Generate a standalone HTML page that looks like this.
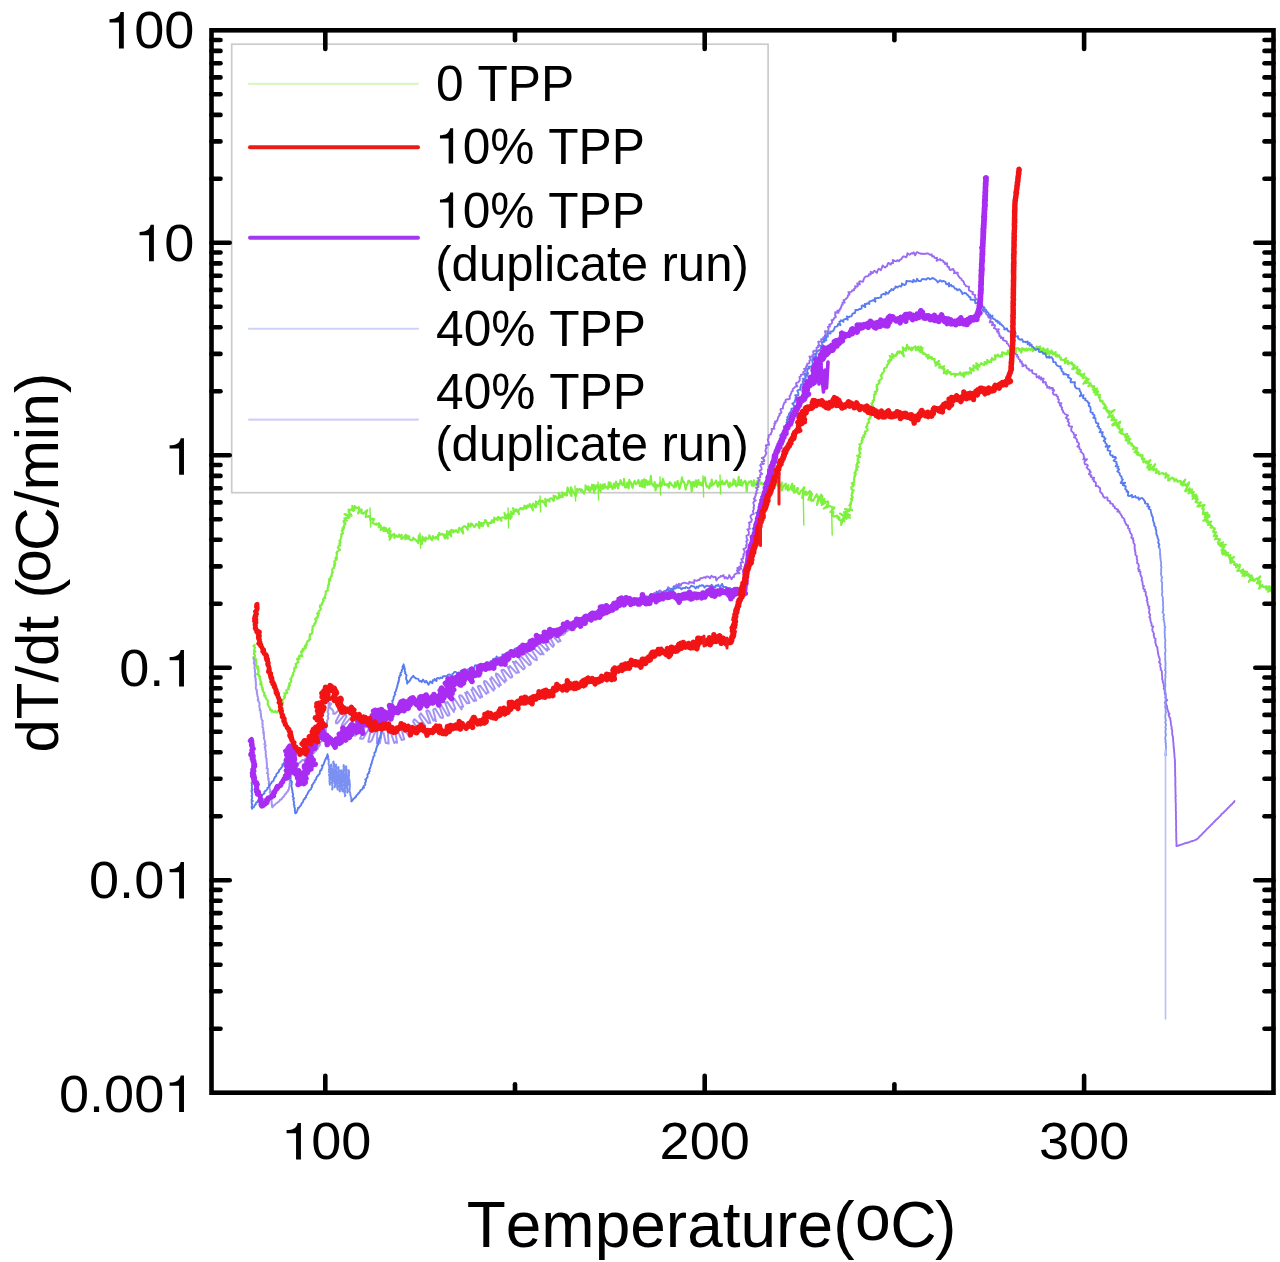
<!DOCTYPE html>
<html><head><meta charset="utf-8"><style>
html,body{margin:0;padding:0;background:#fff;width:1280px;height:1262px;overflow:hidden}
svg{display:block}
text{font-family:"Liberation Sans",sans-serif;fill:#000;font-kerning:none;font-feature-settings:"kern" 0}
</style></head><body>
<svg width="1280" height="1262" viewBox="0 0 1280 1262">
<rect x="0" y="0" width="1280" height="1262" fill="#fff"/>
<g id="legendbox"><rect x="231.7" y="44.2" width="536.4" height="448.5" fill="#fff" stroke="#cbcbcb" stroke-width="1.7"/></g>
<g id="curves" fill="none" stroke-linejoin="round" stroke-linecap="round">
<path d="M254.7 644.9 L253.8 645.5 L253.5 646.2 L254.5 646.9 L255.1 647.7 L254.4 648.8 L254.2 650.0 L253.9 650.6 L255.3 651.1 L255.4 651.7 L254.2 652.3 L254.3 652.9 L253.7 653.6 L254.1 654.3 L254.8 655.0 L255.0 655.9 L253.5 657.3 L255.4 658.2 L256.0 659.5 L256.3 660.0 L255.7 660.8 L255.8 661.4 L256.2 662.1 L256.2 662.8 L256.2 663.6 L256.1 664.4 L256.0 665.3 L256.7 666.0 L258.1 666.5 L256.8 667.7 L258.3 668.3 L257.7 669.4 L258.7 670.1 L258.1 671.2 L258.7 672.0 L258.4 673.0 L256.8 674.3 L259.0 674.8 L258.6 675.8 L260.1 676.4 L259.7 677.4 L259.4 678.4 L260.1 679.2 L260.0 680.1 L260.4 680.9 L261.2 681.5 L260.5 682.5 L261.5 683.0 L260.1 684.2 L261.7 684.5 L261.2 685.3 L261.9 686.2 L261.7 687.4 L262.8 688.1 L262.2 689.3 L263.1 689.9 L262.7 691.1 L263.3 691.7 L263.9 692.4 L264.7 693.0 L264.1 694.1 L264.5 694.7 L264.1 695.7 L265.6 695.9 L265.3 696.8 L265.6 697.5 L266.0 698.1 L266.3 698.7 L266.6 699.4 L267.3 699.9 L267.9 700.7 L267.9 701.8 L267.7 702.9 L267.6 704.0 L268.2 704.8 L268.5 705.7 L269.0 706.5 L269.4 707.4 L270.0 708.0 L270.1 708.9 L270.0 709.9 L271.4 709.7 L271.9 710.0 L271.5 711.7 L272.8 711.3 L273.5 712.0 L274.5 712.0 L275.3 710.8 L276.7 712.7 L277.7 711.9 L278.1 710.6 L279.2 710.2 L279.7 709.3 L279.5 708.4 L280.2 708.2 L280.8 707.7 L281.5 707.3 L281.6 706.5 L281.5 705.6 L282.5 705.1 L281.5 703.9 L282.6 703.4 L283.1 702.6 L282.5 701.5 L281.9 700.4 L282.7 699.6 L283.6 699.0 L284.1 698.2 L285.0 697.5 L283.8 696.3 L284.6 695.8 L285.3 695.3 L285.1 694.4 L284.2 693.2 L286.2 693.3 L287.3 692.9 L286.9 691.9 L286.1 690.7 L286.7 690.1 L287.4 689.5 L289.0 689.3 L288.2 688.1 L288.3 687.2 L289.4 686.7 L288.8 685.5 L290.2 685.1 L289.1 683.7 L289.6 682.9 L290.6 682.3 L291.3 681.7 L291.1 680.9 L291.1 680.1 L290.2 678.9 L291.1 678.4 L291.4 677.7 L291.7 676.9 L292.6 676.4 L292.3 675.4 L293.2 674.8 L293.1 673.9 L293.1 673.0 L293.6 672.3 L294.1 671.5 L294.6 670.8 L294.1 669.7 L294.5 668.9 L294.2 667.9 L296.1 667.7 L296.3 666.8 L295.7 665.7 L295.8 664.8 L295.7 663.9 L296.8 663.4 L297.2 662.6 L298.6 662.3 L297.8 661.1 L297.6 660.1 L297.0 658.9 L299.5 659.2 L299.2 658.1 L298.6 656.9 L299.9 656.7 L299.3 655.5 L302.4 656.2 L301.5 654.8 L301.6 654.0 L301.6 653.1 L301.0 651.8 L302.5 651.7 L302.1 650.5 L303.6 650.5 L302.6 649.0 L303.7 648.6 L305.2 648.5 L305.8 647.9 L304.7 646.4 L304.9 645.6 L306.5 645.6 L306.9 644.9 L306.3 643.6 L306.8 643.0 L307.2 642.3 L307.2 641.4 L307.8 640.8 L309.2 640.6 L309.2 639.7 L310.3 639.3 L309.4 638.1 L309.7 637.4 L309.5 636.5 L310.2 635.9 L309.8 635.0 L309.8 634.2 L311.5 634.0 L312.2 633.4 L312.1 632.6 L312.6 631.9 L312.3 631.0 L312.0 630.1 L312.7 629.5 L312.7 628.7 L312.5 627.8 L312.5 626.9 L312.8 626.2 L314.0 625.7 L314.3 624.9 L314.2 624.0 L315.6 623.6 L315.2 622.5 L315.7 621.8 L316.4 621.1 L315.5 619.8 L315.2 618.9 L316.9 618.8 L316.4 617.7 L317.8 617.4 L317.5 616.4 L318.2 615.8 L318.4 615.0 L317.1 613.6 L318.9 613.4 L318.5 612.3 L318.7 611.4 L319.2 610.7 L320.2 610.1 L320.6 609.3 L321.0 608.5 L319.8 607.1 L320.7 606.5 L320.0 605.3 L321.6 604.9 L322.3 604.2 L321.8 603.1 L322.7 602.5 L323.0 601.7 L323.7 601.1 L323.0 599.9 L323.3 599.1 L323.6 598.4 L325.3 598.2 L325.2 597.3 L324.7 596.3 L325.2 595.7 L325.4 595.0 L325.7 594.3 L325.7 593.6 L325.8 592.9 L325.6 591.7 L326.3 590.9 L327.9 590.4 L327.6 589.3 L327.6 588.4 L327.7 587.6 L328.1 586.9 L328.5 586.3 L328.1 585.4 L328.8 584.8 L329.1 584.2 L328.7 583.3 L328.9 582.6 L329.0 581.9 L329.1 581.1 L330.5 580.7 L328.9 579.3 L330.3 578.8 L330.4 577.9 L330.6 576.9 L331.2 576.4 L332.0 575.9 L331.6 575.0 L331.7 574.3 L331.6 573.6 L332.1 572.9 L332.9 572.4 L332.3 571.5 L332.1 570.6 L332.2 569.9 L332.5 569.2 L332.6 568.4 L334.2 568.0 L334.0 567.1 L333.9 566.3 L335.0 565.7 L334.0 564.6 L335.1 564.0 L335.3 563.3 L334.2 562.1 L334.4 561.3 L335.0 560.5 L336.2 560.0 L336.7 559.2 L335.4 558.0 L337.0 557.5 L336.4 556.4 L336.6 555.6 L336.7 554.7 L337.1 553.8 L336.4 552.7 L337.1 552.1 L337.1 551.4 L338.3 550.9 L339.4 550.4 L340.0 549.7 L338.4 548.5 L337.8 547.5 L338.7 546.8 L338.6 545.9 L340.5 545.5 L339.9 544.5 L339.3 543.4 L340.5 542.8 L340.4 541.9 L339.4 540.8 L340.2 540.0 L340.6 539.2 L340.9 538.4 L341.2 537.6 L341.1 536.6 L341.6 535.9 L341.3 534.9 L341.3 534.0 L343.0 533.5 L342.5 532.5 L342.7 531.7 L341.7 530.6 L342.8 530.0 L343.5 529.4 L342.5 528.3 L344.1 527.9 L343.4 527.0 L344.1 526.4 L344.0 525.6 L344.4 525.0 L345.1 524.5 L344.4 523.6 L345.7 523.4 L343.6 522.0 L343.7 520.8 L347.0 520.7 L344.3 518.5 L345.9 518.0 L348.5 517.9 L349.4 517.3 L344.6 514.1 L348.9 515.1 L351.6 515.6 L350.8 514.3 L348.8 512.3 L348.6 511.3 L349.5 511.0 L348.6 509.5 L350.4 510.0 L350.9 509.6 L351.4 509.3 L353.3 511.0 L352.3 508.4 L352.3 505.8 L354.4 510.2 L354.8 506.1 L355.8 507.4 L356.6 508.1 L357.6 508.0 L359.0 507.2 L359.3 509.0 L358.0 513.5 L361.4 509.3 L361.8 510.6 L361.4 513.1 L362.4 512.9 L362.9 513.3 L363.3 513.8 L367.3 510.1 L366.6 512.3 L366.0 514.2 L366.1 515.3 L365.6 517.0 L367.3 516.4 L368.9 516.0 L369.1 517.0 L370.1 517.3 L370.2 518.5 L370.3 519.8 L372.2 518.9 L373.5 518.8 L374.1 519.2 L372.3 522.5 L372.6 523.3 L373.5 523.4 L374.2 523.7 L374.9 524.2 L376.5 523.5 L376.2 525.0 L379.0 523.0 L378.5 524.8 L379.8 524.5 L378.6 527.2 L380.8 525.8 L380.9 527.0 L381.0 528.3 L380.6 530.2 L383.7 527.4 L384.5 527.6 L383.4 530.9 L386.1 528.2 L385.2 531.1 L386.9 529.8 L387.1 531.0 L389.4 528.4 L387.9 533.1 L389.6 531.4 L390.7 531.1 L389.0 536.6 L390.9 534.6 L389.5 539.8 L392.7 534.8 L394.1 533.8 L394.5 534.9 L394.3 537.9 L396.2 535.3 L396.7 536.5 L397.5 536.9 L399.2 534.6 L399.3 536.8 L400.5 535.9 L401.7 534.8 L401.3 538.9 L402.1 538.7 L403.2 537.9 L404.5 536.3 L405.8 534.5 L405.3 539.3 L406.4 538.4 L407.8 535.6 L407.8 538.8 L409.2 536.3 L409.3 539.2 L410.0 539.7 L410.7 540.2 L411.5 540.1 L412.3 540.1 L413.3 537.7 L413.9 539.2 L414.8 539.0 L415.5 539.6 L416.3 540.6 L417.2 541.3 L418.2 543.2 L418.9 535.2 L420.0 540.8 L420.7 539.6 L421.8 544.2 L422.3 541.6 L422.5 536.6 L423.7 540.4 L424.2 538.6 L425.4 541.3 L425.6 537.4 L426.7 539.0 L427.5 538.8 L428.3 538.7 L428.9 537.7 L429.3 535.2 L431.0 539.3 L432.0 540.1 L432.4 538.0 L432.9 536.0 L434.2 538.1 L435.2 538.6 L435.7 537.0 L436.7 537.1 L438.2 539.5 L437.9 534.7 L438.9 535.5 L439.2 532.8 L440.6 534.8 L441.4 534.5 L442.1 533.9 L443.0 534.2 L445.1 538.5 L444.9 534.6 L445.7 534.6 L447.7 538.6 L447.2 534.2 L447.0 531.0 L449.0 534.6 L449.0 531.9 L451.3 536.3 L450.3 530.9 L451.5 531.8 L451.5 529.7 L453.4 532.5 L453.4 530.2 L454.8 531.6 L455.4 530.8 L456.0 530.1 L457.8 532.6 L458.5 532.3 L458.7 530.4 L458.8 528.4 L459.4 527.8 L461.1 529.9 L463.3 533.4 L462.1 528.1 L462.7 527.2 L463.5 527.1 L464.0 526.1 L464.8 526.0 L466.1 527.2 L467.8 529.8 L467.7 527.0 L468.2 525.8 L468.3 523.6 L470.1 526.7 L470.8 526.0 L470.9 523.6 L471.8 523.6 L473.1 525.3 L474.4 527.1 L475.0 526.2 L475.6 525.2 L476.1 524.0 L477.2 525.1 L477.8 524.3 L479.5 528.1 L478.9 521.8 L480.0 523.1 L481.5 525.9 L481.6 522.9 L483.1 525.9 L483.3 523.0 L484.1 523.2 L484.7 522.0 L485.0 520.0 L486.0 520.6 L488.2 526.3 L488.3 523.2 L489.0 522.9 L490.0 523.3 L490.6 522.4 L491.6 523.0 L491.7 520.5 L492.5 520.3 L494.0 522.3 L494.0 519.6 L494.2 517.6 L495.6 519.3 L496.2 518.5 L497.7 520.3 L497.6 517.7 L498.1 516.8 L499.3 517.8 L501.4 520.9 L501.0 517.7 L501.9 517.8 L502.6 517.2 L503.5 517.4 L504.8 518.2 L505.9 518.7 L504.4 513.1 L507.4 518.0 L507.1 515.3 L507.6 514.4 L510.4 518.9 L509.3 514.1 L511.6 517.4 L511.6 515.4 L510.9 511.6 L512.8 513.9 L513.7 514.0 L513.8 512.2 L513.0 508.0 L515.2 511.2 L516.1 511.2 L516.2 509.2 L519.0 514.1 L518.3 510.2 L519.0 509.6 L519.8 509.5 L520.2 508.3 L521.0 508.0 L522.3 509.3 L523.2 509.4 L523.4 507.7 L524.5 508.1 L524.4 505.5 L526.4 508.6 L526.3 506.1 L527.7 507.5 L527.7 505.3 L528.8 505.7 L530.0 506.7 L529.8 503.9 L533.0 510.2 L532.1 505.4 L532.8 505.1 L533.2 503.6 L535.4 507.5 L536.0 506.9 L536.1 504.7 L535.8 501.4 L537.1 502.7 L538.6 504.4 L538.6 502.1 L539.0 500.7 L539.7 500.4 L540.7 500.9 L542.0 502.0 L542.3 500.6 L543.5 501.5 L545.9 506.3 L546.1 504.2 L545.2 498.9 L546.8 501.1 L547.4 500.4 L548.0 499.7 L549.5 501.6 L549.5 498.9 L550.3 498.6 L551.0 498.3 L552.0 498.6 L553.5 500.8 L554.0 499.7 L553.6 495.6 L554.9 497.0 L555.5 496.1 L557.2 498.8 L557.6 497.5 L558.8 498.4 L559.0 496.5 L558.8 492.9 L561.0 497.3 L561.6 496.5 L562.6 497.0 L562.0 492.2 L563.8 495.4 L564.0 493.3 L564.8 493.1 L566.3 495.5 L567.1 495.2 L567.0 491.9 L567.3 489.6 L567.5 487.5 L569.6 492.1 L571.5 496.1 L571.5 492.9 L570.8 487.2 L572.5 490.5 L574.2 493.5 L575.8 496.4 L576.2 495.0 L576.5 492.7 L577.2 492.1 L577.1 488.7 L578.3 490.1 L579.2 490.2 L579.7 488.9 L581.0 490.8 L581.5 489.4 L582.7 491.1 L584.2 493.6 L584.5 491.7 L585.1 490.7 L585.5 488.9 L585.5 485.4 L587.1 488.8 L588.3 490.3 L588.2 486.2 L590.2 491.8 L590.1 487.6 L591.3 489.2 L591.7 487.3 L592.0 484.7 L594.4 493.1 L593.7 484.7 L595.4 489.9 L595.6 485.9 L596.7 487.9 L597.1 485.0 L598.1 485.9 L599.5 489.2 L600.7 491.7 L600.4 484.4 L601.6 486.5 L602.7 488.8 L603.0 484.6 L604.3 487.9 L604.7 484.0 L605.9 487.5 L606.7 486.9 L607.8 488.8 L608.3 486.5 L608.7 482.4 L610.1 487.1 L610.4 482.5 L611.7 487.2 L612.7 489.1 L613.3 486.6 L613.8 483.6 L615.0 488.0 L615.5 485.3 L616.0 481.6 L616.9 483.8 L618.1 488.4 L618.5 483.8 L619.3 484.9 L619.9 483.6 L620.5 480.1 L621.6 483.1 L622.4 485.2 L623.1 484.8 L623.7 483.8 L624.0 478.7 L625.0 487.4 L625.5 486.0 L626.0 486.8 L626.5 487.5 L627.0 483.0 L627.5 482.5 L628.1 484.9 L628.7 488.4 L629.3 479.7 L630.1 483.5 L630.8 482.2 L631.6 485.5 L632.6 487.9 L633.5 483.3 L634.6 480.8 L635.8 484.2 L637.1 483.3 L638.4 480.0 L640.0 486.3 L640.5 482.6 L641.1 485.8 L641.6 480.6 L642.3 486.8 L642.8 480.2 L643.5 486.7 L644.0 479.2 L644.7 487.5 L645.3 483.0 L646.0 479.9 L646.7 483.3 L647.4 484.8 L648.0 481.3 L648.7 482.6 L649.4 484.6 L650.2 483.4 L650.8 475.9 L651.6 482.8 L652.4 485.0 L653.1 484.6 L653.9 486.5 L654.7 482.0 L655.5 490.5 L656.3 485.9 L657.0 484.6 L657.9 486.6 L658.7 486.3 L659.5 484.1 L660.3 482.2 L661.1 486.4 L662.0 484.9 L662.8 478.8 L663.6 480.9 L664.5 485.0 L665.3 484.0 L666.2 484.5 L667.1 485.4 L667.9 484.1 L668.8 487.8 L669.7 482.2 L670.5 482.7 L671.4 484.5 L672.3 485.6 L673.2 485.7 L674.1 487.5 L675.0 482.4 L675.9 486.7 L676.8 484.9 L677.6 480.9 L678.5 483.3 L679.4 489.0 L680.3 485.7 L681.2 482.4 L682.0 477.4 L682.9 481.7 L683.8 481.8 L684.7 483.8 L685.6 489.6 L686.5 485.5 L687.4 484.4 L688.2 481.1 L689.1 480.5 L690.0 483.0 L690.8 482.3 L691.7 491.4 L692.5 482.5 L693.4 481.9 L694.3 486.5 L695.1 483.7 L695.9 480.3 L696.8 486.9 L697.6 482.7 L698.4 480.1 L699.2 484.3 L700.0 484.8 L700.8 482.6 L701.6 485.3 L702.4 485.6 L703.2 481.2 L704.1 478.1 L704.9 477.3 L705.7 483.1 L706.6 486.7 L707.5 486.1 L708.3 487.1 L709.2 488.3 L710.0 483.5 L710.9 486.2 L711.7 479.5 L712.6 485.2 L713.5 484.4 L714.4 483.2 L715.2 482.3 L716.1 480.5 L717.0 483.8 L717.9 486.7 L718.8 482.4 L719.7 484.8 L720.5 481.7 L721.4 484.0 L722.3 480.8 L723.2 484.3 L724.1 482.8 L725.0 484.2 L725.8 481.8 L726.7 480.3 L727.6 482.5 L728.5 486.0 L729.4 487.4 L730.2 482.5 L731.1 485.4 L732.0 485.3 L732.8 484.3 L733.7 479.3 L734.5 484.2 L735.4 480.8 L736.2 486.4 L737.1 485.4 L737.9 484.9 L738.7 476.7 L739.6 484.9 L740.4 485.1 L741.2 480.0 L742.0 485.8 L742.8 483.5 L743.6 482.8 L744.4 481.5 L745.2 480.7 L746.0 482.2 L746.7 491.3 L747.5 483.8 L748.2 483.9 L749.0 481.6 L749.7 481.7 L750.5 481.9 L751.2 481.0 L751.8 485.6 L752.6 482.7 L753.2 485.6 L753.9 480.4 L754.5 485.8 L755.2 483.3 L755.8 485.1 L756.5 483.1 L757.2 481.1 L757.6 486.6 L758.3 482.3 L758.9 483.1 L759.5 481.2 L760.0 484.0 L761.5 482.5 L762.8 484.3 L764.1 484.5 L765.4 481.9 L766.6 480.1 L767.4 484.9 L768.3 486.3 L769.2 485.7 L770.5 481.0 L770.9 485.6 L771.7 485.1 L772.4 485.0 L773.0 485.4 L773.9 483.6 L774.3 485.0 L774.6 487.0 L775.8 483.4 L776.8 481.1 L776.8 484.6 L777.2 485.5 L778.8 480.4 L778.9 483.5 L778.8 486.9 L779.8 485.1 L780.4 485.9 L781.8 482.5 L781.4 488.2 L781.8 490.5 L783.7 485.7 L784.8 484.6 L785.9 483.7 L785.5 489.1 L786.9 487.3 L788.3 485.2 L787.8 490.5 L788.9 489.6 L789.8 489.4 L792.3 483.7 L792.0 488.1 L792.2 490.1 L794.4 485.8 L793.6 491.4 L794.0 492.8 L795.1 492.1 L797.2 488.0 L797.9 488.3 L797.4 492.6 L798.0 492.9 L798.6 493.8 L799.3 493.9 L801.0 490.9 L801.9 490.4 L804.2 487.2 L802.8 494.0 L802.2 497.9 L805.6 491.6 L806.5 491.9 L806.1 494.9 L807.2 494.6 L809.8 490.8 L809.8 492.7 L811.0 492.1 L808.3 499.8 L812.0 493.7 L811.0 497.7 L810.6 500.6 L811.3 500.8 L812.6 500.0 L813.1 500.8 L816.7 494.2 L816.7 496.7 L817.9 496.0 L818.4 497.4 L816.9 504.9 L821.2 494.5 L820.2 500.3 L822.5 496.2 L821.0 502.7 L821.6 502.9 L824.2 498.9 L821.8 505.1 L824.9 501.0 L823.5 503.9 L825.7 502.4 L827.9 501.3 L828.2 502.3 L828.1 503.4 L826.9 505.1 L828.3 505.1 L823.7 508.6 L829.9 506.1 L830.9 506.6 L832.0 507.0 L832.7 507.8 L834.5 507.4 L834.0 508.7 L830.3 512.1 L832.6 511.7 L833.6 512.1 L833.0 513.6 L831.9 515.4 L833.5 515.6 L833.6 516.7 L837.1 515.6 L836.9 516.7 L838.5 516.7 L837.6 518.4 L839.6 517.8 L839.1 519.1 L839.2 519.9 L839.7 520.2 L840.1 520.4 L841.1 520.3 L841.3 525.1 L842.4 520.8 L842.4 519.0 L844.5 521.4 L843.1 518.3 L843.6 517.7 L846.6 518.8 L843.1 515.8 L839.8 513.5 L848.0 517.5 L850.1 517.7 L843.9 514.2 L846.0 514.4 L849.9 515.0 L843.9 512.1 L846.8 512.3 L846.3 511.3 L849.0 511.2 L844.8 509.1 L852.2 510.1 L850.1 508.6 L850.6 507.7 L850.4 506.6 L849.3 505.3 L850.8 504.9 L850.1 504.1 L851.1 503.5 L850.6 502.7 L851.1 502.0 L851.2 501.3 L852.0 500.5 L852.1 499.7 L850.9 498.8 L851.7 498.0 L852.8 497.3 L852.2 496.4 L851.4 495.5 L851.9 494.6 L851.8 493.7 L852.7 492.9 L852.1 492.0 L852.5 491.2 L853.8 490.4 L851.4 489.4 L851.7 488.5 L851.3 487.6 L851.5 486.8 L853.3 486.2 L853.0 485.3 L854.0 484.6 L851.6 483.5 L852.5 482.8 L854.3 482.2 L854.1 481.4 L854.2 480.5 L854.3 479.7 L853.9 478.8 L854.1 478.0 L854.3 477.2 L855.0 476.5 L854.5 475.6 L855.0 474.9 L856.0 474.3 L854.4 473.1 L854.9 472.3 L855.9 471.8 L855.6 470.9 L855.8 470.1 L857.5 469.7 L856.6 468.7 L856.2 467.8 L857.4 467.2 L858.5 466.7 L856.2 465.4 L856.7 464.7 L857.4 464.0 L857.0 463.1 L859.1 462.6 L858.1 461.6 L857.6 460.7 L858.4 460.0 L857.6 459.0 L857.9 458.2 L858.5 457.5 L860.2 457.0 L857.1 455.7 L859.0 455.2 L859.8 454.5 L859.5 453.6 L860.5 453.0 L859.6 452.0 L859.5 451.2 L859.4 450.4 L859.1 449.5 L861.0 449.0 L859.2 447.8 L860.1 447.1 L860.0 446.2 L860.1 445.4 L859.3 444.4 L860.7 444.0 L861.3 443.4 L861.5 442.7 L862.2 442.3 L861.7 441.4 L861.6 440.7 L862.4 440.3 L862.9 439.8 L862.1 438.8 L861.9 438.0 L862.5 437.5 L864.1 437.4 L864.3 436.7 L863.3 435.5 L864.3 435.0 L865.0 434.4 L865.6 433.7 L864.6 432.3 L865.2 431.5 L866.6 430.9 L867.6 430.1 L867.4 428.8 L866.0 427.0 L867.4 426.1 L867.1 425.4 L867.4 424.8 L867.2 424.1 L867.5 423.5 L867.9 423.0 L869.3 422.6 L868.8 421.7 L868.8 421.0 L868.7 420.2 L868.4 419.3 L868.9 418.7 L870.1 418.2 L870.0 417.3 L871.0 416.7 L870.0 415.7 L870.0 414.8 L869.1 413.7 L870.7 413.2 L869.5 412.0 L871.9 411.7 L870.6 410.5 L871.3 409.8 L870.6 408.7 L871.4 408.0 L871.3 407.0 L872.9 406.5 L872.5 405.5 L871.8 404.4 L871.5 403.3 L873.0 402.8 L872.9 401.8 L872.7 400.8 L874.1 400.3 L873.8 399.2 L874.2 398.4 L874.0 397.4 L874.2 396.6 L874.5 395.7 L874.0 394.7 L875.7 394.2 L875.8 393.3 L874.6 392.1 L876.1 391.6 L877.0 391.0 L876.6 390.0 L877.6 389.4 L876.8 388.3 L877.2 387.6 L876.5 386.6 L877.0 385.9 L876.7 385.0 L877.5 384.5 L878.5 384.0 L878.9 383.4 L879.6 382.9 L879.1 382.0 L878.6 381.1 L879.8 380.8 L879.8 379.7 L881.4 379.2 L881.9 378.3 L881.6 377.1 L880.7 375.6 L881.4 374.9 L882.3 374.2 L882.1 373.1 L883.2 372.6 L883.7 371.9 L884.2 371.1 L884.2 370.1 L883.9 369.0 L884.3 368.3 L885.1 367.8 L886.4 367.5 L886.9 366.9 L887.0 366.0 L887.0 365.1 L887.6 364.6 L888.1 364.0 L888.8 363.6 L888.9 362.8 L888.0 361.2 L889.8 361.7 L889.9 360.8 L889.5 359.6 L891.3 360.2 L891.4 359.4 L891.4 358.4 L889.7 355.9 L892.6 357.6 L893.6 357.7 L893.3 356.4 L892.0 353.9 L895.1 356.0 L896.1 355.8 L896.1 354.5 L897.1 354.4 L897.1 352.7 L897.6 351.7 L899.4 353.1 L899.4 351.3 L900.7 351.7 L903.9 356.3 L902.7 351.8 L903.1 350.5 L902.7 347.2 L904.7 349.8 L905.9 350.6 L905.9 347.9 L906.9 348.4 L906.9 344.7 L908.9 349.4 L909.2 347.2 L910.4 349.3 L911.4 350.4 L911.7 347.6 L912.6 349.6 L913.2 348.2 L913.8 347.3 L914.5 347.2 L915.5 346.2 L915.8 350.1 L916.6 349.5 L918.3 346.5 L917.9 349.9 L919.8 347.6 L921.2 346.7 L919.5 351.4 L922.6 348.0 L920.7 352.2 L922.4 351.2 L922.3 352.7 L923.4 352.7 L923.3 354.1 L924.9 353.6 L925.3 354.5 L926.4 354.6 L926.2 356.4 L928.6 354.9 L927.8 357.4 L927.8 358.6 L930.1 356.8 L930.1 358.0 L931.8 357.2 L932.2 358.0 L932.1 359.3 L933.5 359.1 L934.8 359.0 L934.3 360.7 L934.6 361.6 L935.1 362.3 L935.2 363.4 L939.0 360.9 L935.6 365.6 L938.2 364.1 L939.6 363.9 L939.7 365.1 L939.3 366.7 L939.4 367.9 L941.5 366.7 L941.5 368.0 L944.1 366.0 L942.8 369.0 L943.7 369.0 L944.6 369.0 L943.9 371.4 L943.8 373.2 L945.3 372.5 L947.7 370.1 L946.5 374.2 L948.8 371.6 L949.3 372.5 L950.5 372.0 L950.5 374.0 L951.2 374.5 L952.2 374.1 L953.2 373.8 L953.9 374.1 L954.8 373.8 L955.1 376.4 L956.3 373.9 L957.1 374.7 L957.9 374.6 L958.7 373.6 L959.6 374.5 L960.2 372.2 L961.5 375.4 L962.3 375.5 L962.6 373.9 L964.2 376.9 L963.6 372.6 L965.1 374.7 L965.8 374.3 L965.8 372.3 L966.7 372.4 L968.3 373.9 L968.4 372.2 L969.4 372.2 L971.1 373.5 L970.8 371.3 L969.9 367.9 L971.5 368.9 L973.7 370.9 L973.6 369.0 L973.5 367.1 L973.4 365.2 L976.3 368.3 L978.1 369.7 L976.4 365.0 L976.3 363.1 L979.5 366.8 L979.3 364.8 L980.3 364.7 L981.0 364.3 L981.3 362.9 L983.2 364.7 L984.3 365.1 L984.6 363.8 L984.6 362.0 L986.6 364.1 L986.4 361.9 L987.7 362.6 L987.2 359.8 L989.3 361.9 L990.1 361.6 L991.3 362.1 L990.9 359.7 L992.0 359.9 L991.9 357.9 L993.9 359.8 L994.5 359.3 L995.5 359.4 L995.0 356.7 L995.1 355.0 L996.8 356.4 L997.4 355.8 L997.7 354.6 L999.5 356.4 L1000.5 356.6 L1000.8 355.4 L1002.0 356.3 L1002.3 354.8 L1002.1 352.2 L1003.1 352.6 L1004.0 352.7 L1005.4 354.2 L1006.3 354.3 L1006.7 352.7 L1007.9 354.0 L1007.7 350.6 L1008.9 351.6 L1010.5 354.1 L1010.7 352.1 L1011.8 353.0 L1011.3 347.7 L1012.3 347.9 L1013.4 349.1 L1014.9 352.2 L1015.9 353.1 L1015.9 349.0 L1016.6 348.3 L1017.4 348.1 L1018.2 348.2 L1019.4 350.6 L1020.0 348.9 L1021.2 352.7 L1021.8 350.6 L1022.3 348.0 L1023.3 349.6 L1024.0 348.8 L1024.9 350.4 L1025.7 350.6 L1026.4 348.4 L1027.3 350.5 L1028.1 349.9 L1028.9 348.7 L1029.7 349.3 L1030.5 350.1 L1031.4 348.3 L1032.2 347.7 L1032.9 351.2 L1033.8 349.0 L1034.7 348.0 L1035.4 349.9 L1036.5 346.6 L1037.1 349.3 L1038.2 346.9 L1038.9 348.7 L1040.1 346.4 L1040.6 348.4 L1041.0 351.4 L1042.1 349.7 L1043.3 348.1 L1043.0 353.3 L1044.8 349.4 L1044.7 353.3 L1046.4 350.1 L1047.7 348.7 L1046.7 354.5 L1048.7 351.0 L1048.8 353.2 L1049.3 354.2 L1051.6 350.4 L1051.5 352.9 L1052.8 352.2 L1052.7 354.5 L1054.0 353.8 L1055.7 352.1 L1055.5 354.6 L1055.7 356.1 L1057.3 354.8 L1057.4 356.6 L1059.1 355.2 L1059.5 356.4 L1059.9 357.4 L1060.8 357.5 L1060.6 359.7 L1061.6 359.6 L1062.4 359.8 L1063.2 360.1 L1064.4 359.6 L1066.3 358.1 L1064.9 361.8 L1064.9 363.2 L1067.0 361.4 L1068.1 361.1 L1068.4 361.9 L1067.8 364.1 L1069.5 363.4 L1071.7 362.3 L1071.4 364.0 L1072.8 363.9 L1072.7 365.2 L1074.2 365.0 L1074.8 365.7 L1072.2 369.0 L1073.3 369.2 L1077.4 366.8 L1077.1 368.2 L1076.9 369.4 L1077.3 370.1 L1079.2 369.6 L1076.5 372.7 L1080.4 370.5 L1077.7 373.7 L1078.2 374.2 L1080.1 373.6 L1080.9 373.7 L1080.5 375.1 L1081.1 375.9 L1084.4 373.5 L1084.0 375.1 L1082.6 378.1 L1083.9 377.6 L1084.8 377.7 L1086.0 377.3 L1086.3 378.1 L1087.0 378.5 L1083.4 383.8 L1088.8 379.0 L1085.9 383.1 L1087.9 382.4 L1088.8 382.8 L1089.5 383.5 L1090.7 383.4 L1088.3 386.1 L1090.3 385.4 L1091.4 385.4 L1092.0 385.9 L1091.9 386.7 L1094.2 386.0 L1093.4 387.4 L1094.3 387.7 L1092.8 389.5 L1093.3 390.1 L1097.3 388.5 L1095.3 390.7 L1093.9 392.5 L1097.8 391.1 L1098.1 391.9 L1095.3 394.7 L1097.5 394.4 L1098.4 394.9 L1100.1 395.0 L1098.6 397.1 L1100.2 397.3 L1099.6 398.9 L1099.9 400.1 L1100.2 401.3 L1102.0 400.8 L1102.7 401.2 L1102.2 402.3 L1102.8 402.7 L1102.8 403.6 L1104.2 403.5 L1104.2 404.4 L1105.1 404.7 L1105.5 405.3 L1104.8 406.6 L1103.8 408.3 L1106.7 407.3 L1105.5 409.0 L1106.3 409.5 L1107.1 409.9 L1106.7 411.2 L1108.9 410.7 L1107.8 412.4 L1108.6 412.9 L1114.6 410.0 L1109.4 414.4 L1109.6 415.3 L1108.0 417.4 L1112.9 415.2 L1111.7 417.0 L1111.8 418.0 L1114.2 417.4 L1111.5 420.2 L1113.1 420.2 L1115.4 419.7 L1116.5 420.1 L1115.8 421.6 L1112.2 425.0 L1113.0 425.5 L1120.3 421.7 L1119.8 423.0 L1116.6 426.2 L1118.2 426.1 L1119.5 426.3 L1118.2 428.2 L1119.4 428.4 L1119.5 429.2 L1120.0 429.9 L1122.5 429.1 L1119.4 432.2 L1122.4 431.0 L1120.7 433.4 L1121.8 433.6 L1123.2 433.6 L1123.6 434.4 L1124.3 434.9 L1127.4 433.8 L1125.7 436.0 L1125.1 437.5 L1128.5 436.1 L1128.8 436.9 L1125.6 440.2 L1126.5 440.6 L1130.4 438.9 L1128.0 441.6 L1129.2 441.8 L1128.2 443.5 L1130.6 442.8 L1130.9 443.6 L1132.2 443.7 L1131.3 445.3 L1132.3 445.7 L1133.5 445.8 L1133.6 446.7 L1134.6 447.0 L1133.2 449.1 L1136.0 447.9 L1137.2 448.0 L1136.9 449.2 L1134.5 452.1 L1137.2 451.0 L1136.1 452.9 L1136.5 453.6 L1138.7 452.7 L1137.4 454.8 L1138.3 455.1 L1139.5 455.0 L1140.9 454.8 L1140.5 456.1 L1142.6 455.2 L1141.8 456.9 L1142.7 457.1 L1141.8 458.8 L1142.6 459.4 L1144.5 458.8 L1143.2 461.4 L1143.5 462.4 L1145.5 461.6 L1147.1 461.2 L1146.3 463.4 L1150.4 460.0 L1148.9 463.1 L1148.2 465.2 L1147.2 467.7 L1151.0 464.5 L1149.1 468.1 L1148.8 469.8 L1150.0 469.7 L1155.2 464.2 L1152.2 469.6 L1153.8 468.8 L1153.6 470.4 L1155.5 469.2 L1156.5 469.0 L1156.8 470.1 L1155.7 473.0 L1157.0 472.5 L1158.8 471.3 L1158.8 472.7 L1158.9 473.9 L1159.9 473.9 L1161.1 473.4 L1162.3 472.9 L1163.1 473.2 L1163.4 474.1 L1164.3 474.3 L1165.9 473.2 L1166.5 473.9 L1165.3 477.9 L1167.7 475.1 L1168.7 475.2 L1168.4 477.6 L1168.1 480.4 L1169.0 480.5 L1171.1 478.2 L1172.3 477.5 L1172.8 478.7 L1173.8 478.4 L1174.3 479.3 L1174.4 481.4 L1176.3 479.2 L1176.8 480.0 L1177.2 481.2 L1177.8 481.9 L1179.0 481.0 L1179.8 481.3 L1180.8 481.1 L1181.2 482.0 L1180.8 484.4 L1182.0 483.6 L1185.3 479.5 L1182.4 485.6 L1183.7 484.9 L1185.3 484.3 L1185.5 485.7 L1189.2 482.3 L1188.4 484.9 L1185.9 489.3 L1185.2 491.0 L1185.7 491.6 L1189.8 488.3 L1189.3 489.8 L1188.9 491.2 L1192.0 489.4 L1188.4 493.4 L1192.3 491.2 L1191.3 493.0 L1193.9 492.0 L1192.3 494.3 L1193.4 494.6 L1192.4 496.5 L1196.0 494.6 L1194.8 496.4 L1192.5 498.9 L1197.3 496.4 L1195.5 498.6 L1195.8 499.2 L1197.6 498.9 L1197.7 499.8 L1195.5 502.1 L1196.4 502.4 L1197.6 502.5 L1198.5 502.9 L1201.1 502.3 L1199.6 504.1 L1197.4 506.4 L1199.0 506.4 L1203.2 505.0 L1204.7 505.1 L1203.0 507.1 L1202.1 508.7 L1203.7 508.8 L1203.8 509.9 L1203.2 511.2 L1202.8 512.6 L1204.2 512.6 L1202.9 514.1 L1207.5 512.5 L1204.8 514.7 L1205.2 515.4 L1208.6 514.5 L1204.6 517.4 L1209.5 515.9 L1209.6 516.7 L1203.3 520.7 L1205.9 520.3 L1207.8 520.4 L1206.6 521.9 L1207.2 522.5 L1211.3 521.5 L1209.1 523.5 L1207.9 525.0 L1210.8 524.5 L1210.8 525.5 L1212.1 525.9 L1210.5 527.6 L1213.0 527.3 L1213.4 528.1 L1214.8 528.3 L1214.7 529.3 L1213.2 531.0 L1213.2 531.9 L1214.9 532.0 L1216.4 532.2 L1214.5 534.0 L1214.8 534.7 L1213.7 536.2 L1216.9 535.4 L1217.2 536.1 L1216.1 537.7 L1214.9 539.3 L1217.8 538.7 L1218.2 539.4 L1220.0 539.4 L1219.5 540.6 L1217.8 542.5 L1218.3 543.1 L1218.3 544.1 L1223.1 542.4 L1219.5 545.3 L1222.7 544.4 L1220.7 546.5 L1225.8 544.5 L1222.6 547.2 L1224.2 547.2 L1221.3 549.9 L1223.4 549.5 L1222.0 551.3 L1225.1 550.3 L1221.9 553.3 L1226.0 551.6 L1222.9 554.6 L1226.9 552.8 L1228.1 552.9 L1225.7 555.5 L1228.1 554.8 L1228.0 555.8 L1230.4 555.0 L1229.4 556.7 L1229.2 557.9 L1230.9 557.6 L1229.8 559.4 L1234.1 556.9 L1230.1 561.2 L1232.4 560.3 L1230.4 563.1 L1233.4 561.5 L1234.3 561.7 L1234.5 562.5 L1234.1 564.0 L1234.2 565.0 L1236.1 564.2 L1237.1 564.3 L1236.0 566.4 L1236.1 567.5 L1239.9 564.7 L1239.6 566.1 L1239.7 567.2 L1237.3 570.9 L1238.5 570.8 L1239.7 570.8 L1240.7 570.9 L1243.2 569.3 L1241.3 572.9 L1243.8 571.3 L1244.9 571.3 L1242.5 575.8 L1247.0 571.5 L1244.5 576.1 L1246.4 574.8 L1248.2 573.6 L1247.7 575.7 L1249.4 574.6 L1249.1 576.7 L1250.6 575.9 L1251.9 575.5 L1248.8 581.9 L1252.7 577.6 L1252.1 580.4 L1253.9 579.3 L1254.0 580.9 L1256.6 578.4 L1257.2 579.2 L1260.2 576.3 L1256.9 583.4 L1258.3 583.0 L1260.6 581.0 L1259.5 584.6 L1260.5 584.7 L1259.1 588.8 L1262.4 585.1 L1262.5 586.6 L1263.6 586.6 L1264.1 587.3 L1265.6 586.4 L1266.6 586.2 L1266.3 588.4 L1266.4 589.6 L1269.2 586.2 L1269.8 586.6 L1269.3 588.6 L1268.1 591.8 L1270.5 588.9 L1272.3 586.9 L1270.4 591.0 L1270.8 591.2" stroke="#7ef03e" stroke-width="2.1"/>
<path d="M803.2 491 L803.8 525" stroke="#7cf03c" stroke-width="1.4"/>
<path d="M831.6 509 L832.2 535" stroke="#7cf03c" stroke-width="1.4"/>
<path d="M703.0 476 L703.6 497" stroke="#7cf03c" stroke-width="1.4"/>
<path d="M720.0 475 L720.6 494" stroke="#7cf03c" stroke-width="1.4"/>
<path d="M660.0 477 L660.6 495" stroke="#7cf03c" stroke-width="1.4"/>
<path d="M598.0 482 L598.6 500" stroke="#7cf03c" stroke-width="1.4"/>
<path d="M575.0 486 L575.6 501" stroke="#7cf03c" stroke-width="1.4"/>
<path d="M540.0 496 L540.6 512" stroke="#7cf03c" stroke-width="1.4"/>
<path d="M508.0 508 L508.6 528" stroke="#7cf03c" stroke-width="1.4"/>
<path d="M420.0 533 L420.6 548" stroke="#7cf03c" stroke-width="1.4"/>
<path d="M370.0 508 L370.6 527" stroke="#7cf03c" stroke-width="1.4"/>
<path d="M253.6 658.0 L253.5 659.0 L254.2 660.0 L254.3 661.0 L254.0 662.0 L253.7 663.0 L254.2 664.0 L254.7 665.0 L254.7 666.0 L254.6 667.0 L254.4 668.0 L254.7 669.0 L254.9 670.0 L255.0 671.0 L254.9 672.0 L255.3 673.0 L255.1 674.0 L255.1 675.0 L254.8 676.0 L255.4 677.0 L255.2 678.0 L255.9 679.0 L255.4 680.0 L255.7 681.0 L256.0 682.0 L255.9 683.0 L255.7 684.0 L256.2 685.0 L255.9 686.0 L255.8 687.0 L255.8 688.0 L255.9 689.1 L256.9 690.0 L256.6 691.0 L257.1 692.0 L256.8 693.1 L257.2 694.0 L257.3 695.0 L257.4 696.0 L257.9 697.0 L257.9 698.0 L258.3 699.0 L257.7 700.1 L258.6 701.0 L258.7 702.0 L259.4 702.9 L259.5 703.9 L259.5 705.0 L259.2 706.0 L259.4 707.0 L259.7 708.0 L260.1 709.0 L259.6 710.1 L260.6 710.9 L260.7 712.0 L260.5 713.0 L261.1 714.0 L260.9 715.0 L260.8 716.0 L261.3 717.0 L261.3 718.0 L261.5 719.0 L261.9 720.0 L262.8 720.9 L262.4 721.9 L262.2 723.0 L262.8 723.9 L262.6 725.0 L262.6 726.0 L262.4 727.1 L263.3 727.9 L263.2 729.0 L263.2 730.0 L263.2 731.0 L263.9 731.9 L263.1 733.1 L264.1 734.0 L263.7 735.0 L264.1 736.0 L264.1 737.0 L263.8 738.1 L264.2 739.0 L264.5 740.0 L264.9 741.0 L264.9 742.0 L265.2 743.0 L264.3 744.1 L265.4 745.0 L265.8 745.9 L264.7 747.0 L264.9 748.0 L265.5 749.0 L265.2 750.0 L265.8 751.0 L265.9 752.0 L265.6 753.0 L265.8 754.0 L266.1 755.0 L265.6 756.0 L266.0 757.0 L266.2 758.0 L266.7 759.0 L266.4 760.0 L266.7 761.0 L266.7 762.0 L266.6 763.0 L267.1 764.0 L266.9 765.0 L266.9 766.0 L267.1 767.0 L266.6 768.1 L267.9 768.9 L267.5 770.0 L267.9 771.0 L267.7 772.0 L267.0 773.1 L268.4 774.0 L268.1 775.0 L267.9 776.0 L268.2 777.0 L268.0 778.0 L268.9 779.0 L268.2 780.0 L268.9 781.0 L269.1 782.0 L268.6 783.0 L268.8 784.0 L269.2 785.0 L269.4 786.0 L269.4 787.0 L269.5 788.0 L269.7 789.0 L270.1 790.0 L270.6 790.9 L269.7 792.1 L270.2 793.0 L270.8 793.9 L271.0 794.9 L270.9 796.0 L271.0 797.0 L271.7 797.9 L270.8 799.1 L271.3 800.0 L271.6 801.0 L271.6 802.0 L271.8 803.0 L271.7 804.1 L272.1 805.0 L272.0 806.1 L272.3 807.4 L273.0 806.4 L273.6 805.8 L274.2 805.1 L275.2 804.5 L276.0 803.5 L277.2 802.8 L278.2 802.0 L279.4 801.1 L280.1 799.7 L281.6 799.2 L282.4 797.8 L283.5 796.8 L284.3 795.7 L284.9 794.3 L286.2 793.6 L286.4 792.3 L287.8 791.7 L288.0 790.4 L288.9 789.3 L289.0 788.0 L289.3 786.7 L289.7 785.4 L289.4 784.1 L290.0 782.8 L289.6 781.4 L289.8 780.1 L289.6 778.8 L290.1 777.5 L290.2 776.3 L290.0 775.1 L290.0 773.9 L290.6 773.0 L291.1 772.0 L291.6 770.7 L292.0 769.5 L292.7 768.5 L293.6 767.6 L293.8 766.3 L295.1 765.9 L296.3 765.6 L296.7 764.2 L297.9 763.6 L299.3 763.3 L300.1 762.2 L301.0 761.6 L301.7 760.7 L302.5 759.9 L304.1 760.5 L304.7 759.3 L305.8 758.7 L307.0 758.6 L308.0 757.8 L309.0 757.0 L309.9 756.1 L311.1 755.6 L312.1 754.9 L313.0 753.9 L313.9 752.9 L314.8 751.8 L315.6 751.2 L316.1 750.2 L316.9 749.5 L317.7 748.7 L318.1 747.6 L318.6 746.5 L319.6 745.7 L319.9 744.4 L319.9 743.0 L320.7 742.0 L321.5 741.0 L321.7 739.7 L322.7 738.7 L322.5 737.2 L322.9 736.0 L324.2 735.1 L324.6 733.9 L324.4 732.5 L325.2 731.4 L326.0 730.4 L325.7 729.0 L326.0 727.9 L326.3 726.7 L326.6 725.3 L326.6 723.9 L327.2 722.5 L327.1 721.0 L327.7 719.5 L328.5 718.0 L327.6 716.4 L328.3 714.9 L328.5 713.5 L327.5 712.0 L328.3 710.6 L328.3 709.3 L328.3 708.0 L328.7 706.9 L328.4 705.8 L328.7 704.9 L328.6 704.1 L328.8 703.5 L328.8 702.8 L329.2 703.2 L329.9 703.0 L331.2 703.8 L329.4 706.2 L330.2 707.9 L332.0 709.3 L332.9 710.7 L333.5 711.7 L333.2 713.8 L335.0 713.8 L339.4 709.7 L339.6 711.3 L341.2 711.2 L335.9 721.2 L336.0 723.2 L337.5 723.2 L344.4 714.9 L345.9 715.0 L346.6 716.3 L341.8 725.0 L341.9 726.3 L342.7 726.9 L350.7 717.7 L352.2 717.9 L352.9 720.1 L347.7 729.3 L348.2 730.3 L349.6 730.1 L356.3 722.5 L357.1 723.5 L357.5 725.1 L352.6 734.5 L354.4 734.4 L355.1 735.8 L363.0 725.9 L363.3 727.8 L364.7 727.7 L360.0 738.7 L361.6 738.7 L363.0 738.8 L368.8 729.0 L369.4 730.9 L370.8 730.4 L368.3 741.7 L369.8 742.0 L371.7 740.5 L375.1 732.2 L376.4 731.6 L377.3 732.4 L376.9 743.6 L378.5 741.9 L379.9 743.2 L381.6 732.5 L382.6 732.9 L383.7 733.3 L385.7 742.9 L387.1 743.1 L388.6 743.6 L387.8 730.6 L389.5 733.2 L390.2 730.8 L394.3 743.0 L395.4 741.8 L397.1 742.8 L395.2 731.2 L396.0 730.1 L396.7 728.5 L401.7 740.0 L403.0 739.7 L404.3 739.4 L401.0 727.3 L402.1 727.2 L403.1 726.8 L409.3 737.0 L410.2 735.5 L411.8 735.4 L407.9 725.9 L408.1 724.5 L409.8 725.1 L416.8 732.5 L417.6 731.3 L419.4 731.2 L413.1 721.6 L413.6 720.2 L414.5 719.2 L422.9 727.0 L424.1 726.4 L425.4 726.2 L419.2 716.2 L419.9 714.7 L420.8 713.4 L428.3 723.2 L429.3 722.8 L430.4 722.9 L426.2 711.2 L427.2 710.2 L429.0 711.3 L433.4 720.6 L434.1 719.5 L436.0 721.3 L433.2 709.9 L434.1 708.9 L435.2 708.6 L440.5 717.5 L442.6 718.0 L443.1 716.5 L439.3 706.2 L440.3 705.8 L440.9 704.7 L447.6 715.7 L448.9 715.6 L449.6 714.4 L444.7 702.0 L446.5 702.7 L447.4 701.9 L453.9 711.9 L454.2 709.5 L455.3 708.9 L452.0 699.7 L453.7 700.2 L454.4 698.7 L461.6 709.5 L461.7 706.7 L463.2 706.7 L459.0 696.3 L459.9 695.2 L461.8 695.9 L467.1 703.4 L468.2 703.0 L469.5 702.9 L465.2 692.7 L466.8 693.2 L467.1 691.5 L473.9 701.3 L474.5 700.1 L476.2 700.7 L471.4 689.6 L472.5 689.3 L472.7 687.4 L480.2 697.9 L480.7 696.4 L482.3 696.9 L477.7 686.5 L478.7 685.9 L480.0 685.7 L486.4 694.0 L487.0 692.5 L488.5 692.5 L483.9 682.5 L484.4 680.9 L486.2 681.4 L493.5 690.7 L494.0 689.2 L494.9 688.6 L490.1 678.9 L491.3 678.7 L491.6 677.0 L499.1 686.7 L499.3 684.9 L500.9 685.1 L495.9 675.2 L496.1 673.4 L497.9 674.1 L504.7 682.4 L504.9 680.4 L506.4 680.6 L501.3 670.6 L502.2 669.8 L503.8 670.0 L510.4 677.6 L511.8 677.5 L512.3 676.1 L507.5 666.8 L509.5 667.5 L509.8 665.9 L516.2 672.9 L517.6 672.6 L519.0 672.4 L513.0 661.7 L515.2 662.6 L515.7 661.3 L523.2 669.4 L524.2 668.8 L524.9 667.6 L519.0 657.8 L519.0 655.8 L520.6 656.0 L529.3 665.1 L530.5 664.6 L531.0 663.3 L524.3 652.9 L526.1 653.0 L527.2 652.5 L534.5 659.4 L536.8 660.2 L536.6 657.8 L531.2 649.2 L531.6 647.7 L533.6 648.1 L540.5 654.5 L541.6 653.9 L543.6 654.4 L536.5 643.6 L537.9 643.2 L539.4 643.1 L547.1 650.9 L547.0 648.8 L549.1 649.5 L542.9 639.5 L544.6 639.7 L544.2 637.1 L552.8 646.9 L553.5 646.0 L554.1 644.9 L548.7 635.2 L550.2 634.9 L550.9 633.4 L558.2 642.1 L559.1 641.2 L560.5 641.1 L555.8 631.5 L555.9 629.3 L560.5 634.5 L561.7 634.2 L563.4 634.8 L563.1 631.9 L565.2 633.4 L565.2 631.1 L566.8 631.5 L567.6 630.7 L568.7 630.2 L569.4 629.0 L570.1 627.7 L572.5 629.8 L573.6 629.2 L573.9 626.9 L575.0 626.3 L576.1 625.7 L576.7 623.8 L578.1 623.5 L580.2 624.4 L581.5 624.5 L581.8 622.8 L582.5 621.5 L583.4 620.9 L584.7 620.9 L586.4 621.8 L587.2 620.6 L587.5 618.4 L588.8 618.2 L590.7 619.3 L591.8 618.7 L593.7 619.7 L594.7 618.9 L595.2 617.0 L596.0 615.5 L597.6 615.9 L598.1 613.9 L599.5 613.9 L601.5 615.2" stroke="#a494f2" stroke-width="2.0"/>
<path d="M601.5 615.2 L602.5 614.2 L603.9 614.0 L605.4 614.2 L605.6 611.5 L607.3 612.4 L608.2 611.1 L609.4 610.8 L610.5 610.2 L611.8 610.1 L612.0 607.5 L613.1 607.1 L614.9 608.2 L616.1 608.2 L616.8 606.7 L618.0 606.7 L618.4 604.8 L620.4 607.1 L621.5 606.0 L623.3 606.6 L623.8 604.0 L625.2 603.9 L626.5 603.6 L628.2 604.7 L629.1 603.4 L630.2 602.8 L630.6 600.1 L632.1 600.6 L633.0 599.5 L634.6 600.6 L636.1 601.5 L636.9 600.2 L637.7 598.8 L639.8 601.8 L639.8 597.9 L641.8 600.4 L642.8 599.8 L643.6 598.4 L645.1 599.3 L645.3 596.2 L646.5 596.5 L647.7 596.4 L649.0 596.8 L649.9 595.8 L651.9 597.5 L652.3 594.7 L653.6 594.4 L654.3 592.9 L656.2 594.3 L657.6 594.2 L658.1 592.0 L659.0 591.0 L660.1 590.4 L662.4 592.8 L663.4 592.0 L664.3 591.0 L665.6 591.0 L666.7 590.3 L667.8 589.8 L668.1 587.1 L670.1 589.0 L671.4 588.8 L672.7 588.9 L673.8 588.3 L674.3 586.0 L675.9 586.7 L676.5 584.4 L678.7 587.2 L678.9 583.7 L680.8 585.6 L681.5 583.6 L682.8 583.1 L684.0 582.6 L685.5 582.9 L687.0 583.3 L688.6 583.8 L689.4 581.8 L691.0 582.7 L692.3 582.4 L694.0 583.4 L694.3 580.0 L695.9 580.7 L697.2 580.8 L698.2 579.8 L699.5 580.1 L700.3 578.3 L701.4 578.4 L702.4 577.9 L703.4 577.6 L704.4 577.1 L705.5 577.9 L707.0 576.3 L708.6 576.9 L710.0 578.3 L711.4 575.8 L712.5 576.5 L713.5 577.4 L714.6 576.7 L715.6 577.0 L716.4 580.5 L717.6 578.6 L718.7 577.6 L719.9 577.1 L720.9 576.0 L722.2 576.4 L723.4 575.0 L724.7 578.4 L725.9 577.1 L727.3 578.7 L728.5 577.6 L729.3 575.1 L731.6 579.3 L732.5 577.3 L734.0 577.1 L734.2 574.9 L735.3 574.1 L736.6 573.3 L739.5 573.2 L736.9 570.5 L737.5 570.0 L739.6 570.0 L737.2 568.0 L741.4 568.7 L739.2 566.7 L741.5 566.4 L740.7 565.0 L740.9 563.9 L740.5 562.7 L743.1 562.2 L741.9 560.6 L741.3 559.2 L743.3 558.5 L742.9 557.1 L743.8 556.0 L743.3 554.5 L744.3 553.4 L744.6 552.1 L744.5 550.7 L743.4 549.1 L745.5 548.1 L746.6 546.9 L746.0 545.4 L746.7 544.2 L746.9 542.8 L746.2 541.2 L747.7 540.1 L746.8 538.5 L746.5 537.1 L746.5 535.7 L748.8 534.8 L748.8 533.4 L749.0 532.1 L748.3 530.8 L747.4 529.4 L749.9 528.8 L749.4 527.5 L749.2 526.3 L749.4 525.2 L749.7 524.0 L748.8 522.7 L751.2 521.9 L751.5 520.8 L751.9 519.7 L751.1 518.3 L750.5 516.9 L750.6 515.7 L751.8 514.7 L753.8 513.9 L753.3 512.5 L752.8 511.2 L753.4 510.1 L753.9 508.9 L753.5 507.6 L753.9 506.4 L754.1 505.2 L753.6 503.8 L753.3 502.5 L754.1 501.4 L755.8 500.5 L753.7 498.8 L754.9 497.8 L755.1 496.6 L755.8 495.4 L755.6 494.1 L756.9 493.1 L756.2 491.7 L756.7 490.6 L757.6 489.5 L756.0 487.9 L758.4 487.2 L758.6 486.0 L756.8 484.3 L758.2 483.4 L757.9 482.1 L758.5 480.9 L759.7 479.9 L757.7 478.2 L760.3 477.4 L760.2 476.1 L760.1 474.8 L762.3 473.9 L760.2 472.2 L759.6 470.7 L761.5 469.8 L761.6 468.5 L761.2 467.1 L760.2 465.5 L760.7 464.3 L764.0 463.7 L761.6 461.8 L764.4 461.1 L764.2 459.8 L761.8 457.9 L764.2 457.2 L764.9 456.0 L765.6 454.9 L766.1 453.7 L766.3 452.5 L765.4 451.1 L765.6 449.8 L765.9 448.7 L766.8 447.7 L765.9 446.2 L766.0 445.1 L769.2 444.7 L768.4 443.3 L768.8 442.3 L768.0 440.9 L767.7 439.7 L768.4 438.8 L768.4 437.7 L768.9 436.8 L768.6 435.1 L770.9 434.4 L771.1 433.0 L771.9 431.8 L771.8 430.4 L771.6 428.9 L774.4 428.7 L773.9 427.3 L774.1 426.1 L774.8 425.1 L774.4 423.7 L775.7 423.1 L775.0 421.5 L776.9 421.2 L777.3 420.2 L777.8 419.2 L777.9 418.0 L778.3 417.0 L778.9 416.0 L779.8 415.2 L779.4 413.7 L780.9 413.2 L781.5 412.2 L780.5 410.2 L780.7 408.9 L782.9 408.6 L783.0 407.3 L783.1 406.1 L783.4 404.9 L784.0 404.0 L784.2 402.7 L785.8 402.2 L785.4 400.7 L785.9 399.6 L787.7 399.3 L789.6 399.0 L790.0 397.8 L789.5 396.1 L790.5 395.3 L790.7 394.0 L791.4 393.0 L791.5 391.6 L792.8 390.9 L792.6 389.3 L793.5 388.4 L794.6 387.6 L795.3 386.5 L797.5 386.4 L796.0 384.0 L796.4 382.8 L798.4 382.4 L799.0 381.3 L799.8 380.2 L799.8 378.7 L799.4 377.0 L800.9 376.3 L800.8 374.9 L802.3 374.5 L804.2 374.3 L803.2 372.3 L804.1 371.5 L805.4 370.9 L804.1 368.8 L806.3 368.7 L806.1 367.1 L806.4 365.9 L807.2 365.0 L807.3 363.7 L809.3 363.4 L809.4 362.0 L809.5 360.7 L810.8 360.0 L809.9 358.1 L809.5 356.5 L813.3 357.1 L812.4 355.2 L814.0 354.7 L813.3 352.9 L813.2 351.4 L814.4 350.7 L816.5 350.5 L816.7 349.2 L816.5 347.6 L818.2 347.1 L818.0 345.7 L819.0 344.8 L818.6 343.2 L818.3 341.6 L820.7 341.6 L821.7 340.8 L821.1 339.1 L823.6 339.1 L823.2 337.4 L825.0 336.9 L824.8 335.4 L825.9 334.5 L825.3 332.7 L825.0 331.1 L828.5 331.6 L828.4 330.1 L828.6 328.7 L827.9 326.9 L830.0 326.5 L829.1 324.6 L830.9 324.2 L831.9 323.2 L832.2 321.9 L831.6 320.2 L833.5 319.8 L833.8 318.5 L834.7 317.6 L835.9 316.9 L835.0 314.9 L835.5 313.8 L835.2 312.2 L838.5 312.8 L837.4 310.7 L839.6 310.7 L839.5 309.3 L840.8 308.7 L840.7 307.3 L841.5 306.5 L841.6 305.2 L842.7 304.6 L842.4 302.7 L844.7 302.6 L843.5 300.1 L845.2 299.6 L846.1 298.6 L847.2 297.8 L847.8 296.6 L848.0 295.1 L849.5 294.6 L848.4 292.1 L850.6 292.2 L851.8 291.5 L852.2 290.2 L854.1 290.2 L854.2 288.6 L855.4 288.1 L855.1 286.2 L857.2 286.6 L857.9 285.6 L857.2 283.4 L859.9 284.4 L859.1 282.0 L859.9 281.1 L861.9 281.7 L863.2 281.5 L863.4 280.1 L864.0 278.6 L864.7 277.3 L865.8 276.5 L867.4 276.4 L868.6 275.8 L869.0 274.1 L870.8 274.5 L870.7 271.8 L872.8 273.1 L873.4 271.6 L874.4 270.7 L876.8 272.9 L877.3 271.2 L878.0 269.9 L878.8 268.7 L880.9 270.2 L881.4 268.6 L882.2 267.3 L882.6 265.5 L885.1 267.5 L886.1 266.7 L887.1 265.9 L887.6 264.1 L888.4 262.9 L890.8 264.6 L891.4 262.9 L893.0 263.1 L892.8 259.9 L894.8 261.1 L896.4 261.3 L897.2 260.2 L899.0 261.2 L899.7 259.9 L900.8 259.5 L901.6 258.8 L902.3 257.6 L903.0 256.7 L903.9 256.3 L906.2 257.3 L907.0 255.5 L907.5 253.3 L909.5 254.7 L910.5 254.1 L911.4 253.2 L912.7 253.7 L913.7 252.3 L915.2 255.3 L916.5 252.5 L917.6 252.1 L918.7 253.1 L919.8 253.2 L920.9 253.9 L922.2 253.5 L923.4 254.1 L924.7 253.7 L926.1 253.7 L927.5 253.3 L928.8 253.9 L929.9 254.9 L931.6 254.3 L932.2 256.5 L933.9 256.1 L934.6 257.9 L935.7 258.1 L937.1 257.7 L936.6 260.8 L938.2 260.0 L940.1 259.0 L940.5 260.4 L941.9 260.2 L943.0 260.6 L943.4 262.0 L944.7 262.3 L944.9 264.0 L947.1 263.2 L947.1 265.1 L947.5 266.7 L949.1 266.9 L949.2 268.9 L950.2 270.0 L953.3 269.0 L953.9 270.7 L954.7 271.3 L954.0 273.3 L956.0 272.8 L957.8 272.7 L957.5 274.3 L958.1 275.4 L958.7 276.3 L959.4 277.2 L960.1 278.2 L961.4 278.6 L961.6 280.0 L962.7 280.7 L963.5 281.7 L964.1 282.7 L964.2 284.3 L965.4 285.0 L965.9 286.2 L967.6 286.4 L969.1 286.9 L968.8 288.8 L968.9 290.4 L970.3 290.9 L971.4 291.7 L973.0 292.1 L972.4 294.2 L974.0 294.6 L975.3 295.1 L974.7 297.2 L975.6 298.1 L975.5 299.7 L978.0 299.4 L978.8 300.3 L978.5 302.0 L978.1 303.8 L979.8 304.0 L980.2 305.3 L982.4 305.2 L981.9 307.1 L983.9 307.2 L984.8 308.1 L983.6 310.3 L984.0 311.6 L986.0 311.7 L986.0 313.1 L986.4 314.3 L987.7 315.0 L988.1 316.1 L988.5 317.3 L990.1 317.8 L990.9 318.7 L990.4 320.4 L989.7 322.3 L992.4 322.0 L993.1 323.0 L991.9 325.2 L994.5 324.9 L995.2 325.9 L993.9 328.2 L995.5 328.6 L996.1 329.6 L998.9 329.1 L997.0 331.8 L998.8 332.0 L998.5 333.5 L999.5 334.3 L999.3 336.0 L1000.8 336.5 L1000.8 338.0 L1003.4 337.8 L1002.8 339.7 L1003.9 340.5 L1005.5 340.9 L1006.8 341.5 L1006.7 343.1 L1007.9 343.8 L1008.4 345.0 L1009.1 346.0 L1010.0 346.9 L1010.2 348.3 L1010.9 349.3 L1012.4 349.6 L1013.0 350.7 L1013.1 352.2 L1014.3 352.8 L1015.0 353.7 L1016.1 354.4 L1017.4 354.8 L1017.1 356.6 L1018.3 357.0 L1018.4 358.5 L1019.3 359.2 L1020.1 360.0 L1020.0 361.6 L1021.9 361.4 L1021.5 363.6 L1022.9 364.0 L1022.4 366.4 L1025.5 365.0 L1026.3 366.0 L1026.5 367.5 L1027.2 368.6 L1028.8 368.7 L1029.1 370.2 L1030.4 370.5 L1032.2 370.2 L1032.1 372.1 L1032.7 373.2 L1033.9 373.7 L1035.1 374.1 L1036.4 374.3 L1036.4 376.1 L1036.8 377.4 L1039.4 376.2 L1039.0 378.3 L1041.4 377.5 L1040.9 379.6 L1043.6 378.6 L1042.8 381.1 L1043.1 382.5 L1045.3 382.0 L1046.0 382.9 L1045.8 384.6 L1046.8 385.1 L1047.2 386.2 L1047.2 387.7 L1049.6 386.9 L1049.4 388.5 L1051.6 388.0 L1053.1 388.2 L1052.4 390.2 L1054.3 390.1 L1052.8 392.8 L1053.2 393.9 L1054.2 394.7 L1056.5 394.6 L1056.6 396.1 L1058.1 396.8 L1057.7 398.8 L1059.1 399.7 L1058.3 402.0 L1059.6 403.2 L1061.4 403.3 L1059.7 405.3 L1061.1 405.7 L1061.1 406.9 L1062.2 407.5 L1061.7 409.0 L1062.3 410.0 L1063.1 410.9 L1063.1 412.2 L1064.2 413.0 L1065.0 414.0 L1066.4 414.7 L1068.0 415.4 L1065.8 417.8 L1066.8 418.7 L1068.7 419.3 L1067.6 421.2 L1068.7 422.2 L1069.3 423.4 L1068.4 425.2 L1069.6 426.2 L1072.1 426.6 L1071.4 428.3 L1071.1 429.9 L1071.6 431.1 L1072.6 432.2 L1073.8 433.1 L1073.7 434.6 L1076.1 435.0 L1074.0 437.3 L1075.6 438.0 L1076.5 439.0 L1077.1 440.1 L1076.9 441.6 L1078.2 442.4 L1078.8 443.4 L1079.2 444.5 L1077.4 446.6 L1079.4 447.0 L1079.3 448.2 L1079.9 449.2 L1081.1 449.8 L1080.5 451.6 L1081.9 452.6 L1082.9 453.7 L1083.7 454.8 L1083.7 456.3 L1084.3 457.5 L1083.2 459.4 L1087.0 459.3 L1084.4 461.7 L1084.6 463.0 L1085.0 464.2 L1087.3 464.6 L1087.9 465.7 L1086.6 467.5 L1087.5 468.4 L1088.3 469.3 L1089.7 470.0 L1089.6 471.3 L1090.8 472.0 L1088.9 474.0 L1089.8 474.8 L1091.5 475.3 L1090.8 476.8 L1092.0 477.5 L1094.2 477.6 L1092.6 479.6 L1094.1 479.9 L1093.7 481.3 L1094.9 481.9 L1095.8 482.5 L1096.0 484.1 L1095.7 486.0 L1098.2 486.1 L1098.8 487.3 L1100.0 488.1 L1100.2 489.7 L1100.0 491.6 L1100.9 492.5 L1101.9 493.5 L1102.7 494.4 L1102.9 496.0 L1103.7 496.9 L1104.5 497.9 L1107.0 497.3 L1107.6 498.3 L1107.4 500.0 L1108.2 500.8 L1109.8 500.9 L1110.3 501.9 L1110.2 503.4 L1111.6 503.5 L1113.0 504.4 L1113.2 506.1 L1114.7 506.5 L1114.7 508.1 L1115.8 508.7 L1116.9 509.2 L1118.0 509.7 L1117.4 511.6 L1119.5 511.4 L1119.5 512.8 L1120.4 513.6 L1121.0 514.8 L1121.9 515.9 L1122.0 517.1 L1122.9 517.8 L1123.9 518.5 L1124.5 519.3 L1124.3 520.8 L1125.2 521.5 L1125.2 522.9 L1126.1 523.7 L1126.4 525.0 L1128.0 525.5 L1128.1 526.8 L1128.0 528.2 L1129.6 528.9 L1129.3 530.4 L1130.1 531.5 L1130.2 532.9 L1131.2 533.9 L1131.9 535.1 L1131.7 536.6 L1131.4 537.8 L1133.2 538.5 L1132.8 539.7 L1133.6 540.7 L1133.3 542.0 L1133.6 543.1 L1134.4 544.1 L1134.9 545.2 L1134.5 546.6 L1134.8 547.7 L1134.6 549.0 L1135.3 550.2 L1135.0 551.5 L1135.6 552.7 L1135.3 554.0 L1135.7 555.2 L1137.0 556.3 L1136.8 557.7 L1136.7 559.0 L1137.3 560.2 L1137.3 561.6 L1137.0 563.0 L1138.4 564.0 L1138.6 565.3 L1138.9 566.4 L1138.4 567.7 L1138.1 569.0 L1139.7 569.8 L1138.6 571.2 L1140.5 572.0 L1140.2 573.3 L1140.5 574.4 L1140.7 575.6 L1141.4 576.6 L1141.9 577.7 L1141.8 579.0 L1141.6 580.3 L1142.4 581.3 L1142.5 582.6 L1142.7 583.8 L1142.6 585.1 L1144.0 586.0 L1143.2 587.5 L1143.3 588.7 L1145.0 589.6 L1144.3 591.1 L1145.9 592.0 L1145.7 593.3 L1145.8 594.6 L1145.9 595.8 L1147.0 596.9 L1146.8 598.2 L1147.4 599.3 L1146.6 600.7 L1147.6 601.7 L1147.4 603.0 L1147.9 604.2 L1147.8 605.5 L1149.4 606.5 L1148.5 608.0 L1149.4 609.1 L1149.4 610.4 L1149.1 611.8 L1149.1 613.2 L1150.1 614.3 L1150.2 615.6 L1149.3 617.1 L1150.4 618.2 L1150.2 619.6 L1150.5 620.8 L1150.8 622.0 L1151.4 623.2 L1151.7 624.4 L1151.4 625.7 L1153.3 626.5 L1152.6 627.8 L1152.3 629.1 L1152.4 630.2 L1152.6 631.2 L1153.3 632.1 L1153.7 633.1 L1154.1 634.0 L1153.6 635.0 L1154.1 636.7 L1154.4 638.1 L1155.7 639.0 L1155.2 640.3 L1155.7 641.1 L1155.1 642.1 L1155.4 642.9 L1155.7 643.7 L1156.0 644.5 L1156.0 645.5 L1156.7 646.4 L1157.5 647.6 L1157.4 649.2 L1157.8 650.9 L1158.0 653.0 L1158.1 653.9 L1158.5 654.7 L1158.6 655.7 L1158.9 656.6 L1159.1 657.6 L1159.7 658.6 L1159.7 659.7 L1159.8 660.9 L1159.0 662.2 L1160.1 663.2 L1160.6 664.4 L1160.1 665.8 L1160.4 667.0 L1160.9 668.3 L1160.6 669.7 L1161.7 670.8 L1161.9 672.2 L1161.9 673.5 L1162.0 674.9 L1162.2 676.3 L1162.3 677.7 L1162.1 679.1 L1162.7 680.4 L1162.8 681.8 L1163.3 683.1 L1163.9 684.4 L1163.6 685.8 L1164.3 687.0 L1163.7 688.5 L1164.4 689.7 L1164.9 690.9 L1164.7 692.2 L1164.8 693.5 L1165.3 694.6 L1165.7 695.8 L1165.6 696.9 L1165.9 698.0 L1166.1 699.1 L1167.2 700.0 L1166.5 701.1 L1165.4 702.3 L1165.8 703.1 L1166.4 704.9 L1167.2 706.4 L1167.0 708.0 L1167.5 709.3 L1168.0 710.5 L1168.3 711.7 L1168.5 712.8 L1169.6 713.7 L1168.6 714.9 L1168.9 715.9 L1169.4 716.8 L1169.6 717.7 L1170.4 718.5 L1170.2 719.6 L1170.5 720.6 L1170.8 721.6 L1170.8 722.7 L1170.9 723.9 L1171.1 725.2 L1171.5 726.5 L1171.7 727.6 L1171.6 728.8 L1172.1 729.9 L1172.2 731.2 L1172.2 732.5 L1172.2 733.9 L1172.4 735.3 L1172.9 736.6 L1173.1 738.1 L1173.1 739.5 L1173.1 741.0 L1173.4 742.4 L1173.5 743.8 L1173.5 745.3 L1173.8 746.7 L1173.7 748.1 L1174.1 749.4 L1174.1 750.7 L1174.1 752.0 L1174.4 753.2 L1174.4 754.4 L1174.4 755.5 L1174.5 756.5 L1174.6 757.4 L1174.7 758.3 L1174.8 759.0 L1174.9 759.7 L1175.0 760.7 L1174.7 761.7 L1175.1 762.7 L1175.0 763.7 L1175.1 764.7 L1175.0 765.7 L1174.9 766.7 L1175.2 767.7 L1175.2 768.7 L1175.0 769.8 L1175.1 770.8 L1175.1 771.8 L1175.2 772.8 L1175.1 773.8 L1175.2 774.8 L1175.1 775.8 L1175.2 776.8 L1175.4 777.8 L1175.4 778.8 L1175.2 779.8 L1175.4 780.8 L1175.5 781.8 L1175.3 782.8 L1175.3 783.8 L1175.3 784.8 L1175.2 785.9 L1175.6 786.9 L1175.4 787.9 L1175.5 788.9 L1175.5 789.9 L1175.4 790.9 L1175.5 791.9 L1175.5 792.9 L1175.5 793.9 L1175.5 794.9 L1175.9 795.9 L1175.5 796.9 L1175.5 797.9 L1175.6 798.9 L1175.7 799.9 L1175.5 800.9 L1175.7 801.9 L1175.7 803.0 L1175.8 804.0 L1175.9 805.0 L1175.7 806.0 L1175.7 807.0 L1176.0 808.0 L1175.7 809.0 L1175.8 810.0 L1175.8 811.0 L1176.0 812.0 L1176.0 813.0 L1175.9 814.0 L1175.9 815.0 L1176.0 816.0 L1176.0 817.0 L1175.9 818.0 L1176.0 819.0 L1176.0 820.0 L1176.1 821.1 L1176.2 822.1 L1176.0 823.1 L1176.1 824.1 L1176.0 825.1 L1176.1 826.1 L1176.3 827.1 L1176.1 828.1 L1176.1 829.1 L1176.0 830.1 L1176.2 831.1 L1176.2 832.1 L1176.3 833.1 L1176.2 834.1 L1176.3 835.1 L1176.1 836.1 L1176.3 837.1 L1176.4 838.2 L1176.2 839.2 L1176.3 840.2 L1176.5 841.2 L1176.4 842.2 L1176.5 843.2 L1176.6 844.2 L1176.4 845.2 L1176.5 846.1 L1177.5 845.9 L1178.4 845.6 L1179.3 845.2 L1180.3 845.0 L1181.2 844.6 L1182.2 844.3 L1183.2 844.0 L1184.1 843.6 L1185.0 843.2 L1186.0 843.0 L1187.0 842.7 L1188.0 842.7 L1188.9 842.1 L1189.8 841.8 L1190.8 841.4 L1191.8 841.3 L1192.7 840.9 L1193.7 840.6 L1194.6 840.3 L1195.5 839.7 L1196.5 839.5 L1197.2 838.9 L1198.0 838.3 L1198.8 837.6 L1199.3 836.7 L1200.1 836.1 L1200.8 835.4 L1201.6 834.8 L1202.1 833.9 L1202.9 833.2 L1203.6 832.5 L1204.3 831.8 L1205.0 831.1 L1205.7 830.4 L1206.4 829.7 L1207.1 828.9 L1207.8 828.2 L1208.5 827.6 L1209.2 826.8 L1210.0 826.2 L1210.6 825.3 L1211.3 824.6 L1212.1 824.1 L1212.8 823.3 L1213.4 822.5 L1214.3 821.9 L1214.9 821.1 L1215.5 820.3 L1216.3 819.7 L1217.1 819.1 L1217.7 818.3 L1218.5 817.7 L1219.2 816.9 L1219.9 816.2 L1220.7 815.6 L1221.2 814.7 L1221.7 813.8 L1222.7 813.4 L1223.4 812.7 L1224.1 812.0 L1224.7 811.2 L1225.6 810.6 L1226.3 809.9 L1226.9 809.1 L1227.6 808.3 L1228.3 807.7 L1229.1 807.0 L1229.6 806.2 L1230.5 805.6 L1231.1 804.7 L1232.0 804.3 L1232.5 803.4 L1233.3 802.8 L1234.0 802.0 L1234.5 801.1" stroke="#9a6cf2" stroke-width="1.9"/>
<path d="M251.9 768.0 L252.0 769.0 L252.4 770.0 L251.7 771.0 L251.9 772.0 L251.9 773.0 L251.9 774.0 L251.5 775.0 L251.7 776.0 L251.6 777.0 L252.1 778.0 L252.1 779.0 L252.3 780.0 L252.1 781.0 L252.9 782.0 L251.5 783.0 L251.9 784.0 L252.0 785.0 L251.7 786.0 L252.1 787.0 L251.9 788.0 L251.7 789.0 L252.5 790.0 L251.4 791.0 L251.9 792.0 L251.8 793.0 L252.3 794.0 L252.2 795.0 L251.5 796.0 L252.2 797.0 L252.1 798.0 L251.8 799.0 L251.5 800.0 L252.8 801.0 L251.5 802.0 L251.9 803.0 L251.7 804.0 L252.3 805.0 L251.9 806.0 L251.5 807.0 L252.0 808.0 L252.1 808.8 L252.5 808.1 L253.1 807.3 L254.0 806.8 L254.5 805.8 L254.9 804.9 L255.8 804.4 L255.9 803.2 L256.4 802.3 L258.0 802.3 L257.8 800.9 L259.0 800.5 L259.2 799.4 L259.7 798.6 L260.5 797.9 L260.8 796.8 L261.4 796.0 L262.2 795.4 L262.7 794.5 L263.6 793.9 L264.5 793.4 L264.3 792.0 L265.0 791.2 L266.0 790.7 L266.5 789.9 L267.3 789.2 L267.4 788.1 L268.4 787.5 L268.8 786.6 L269.0 785.5 L270.1 785.1 L270.1 783.9 L271.2 783.4 L271.5 782.4 L272.1 781.6 L273.3 781.1 L273.7 780.2 L273.9 779.1 L274.5 778.3 L274.7 777.2 L275.8 776.7 L276.2 775.8 L276.3 774.7 L276.6 773.7 L277.6 773.1 L278.1 772.2 L279.0 771.6 L279.0 770.4 L279.6 769.6 L280.5 769.0 L280.9 768.0 L281.7 767.4 L282.3 766.5 L282.3 765.3 L282.5 764.2 L283.7 763.8 L284.0 762.8 L284.8 762.1 L284.5 760.8 L285.8 760.4 L286.4 759.6 L286.8 758.6 L287.6 758.0 L288.0 757.0 L288.1 758.0 L287.8 759.1 L288.0 760.1 L288.1 761.1 L288.5 762.0 L288.7 763.0 L288.7 764.0 L288.9 765.0 L289.4 766.0 L289.2 767.0 L289.1 768.0 L289.7 769.0 L290.0 770.0 L289.6 771.0 L290.2 772.0 L290.6 772.9 L290.3 774.0 L290.8 774.9 L290.4 776.0 L290.8 777.0 L290.7 778.0 L290.5 779.0 L290.6 780.0 L291.2 781.0 L292.0 781.9 L291.5 783.0 L291.9 784.0 L291.4 785.1 L291.3 786.2 L291.7 787.2 L291.9 788.2 L292.0 789.2 L292.1 790.2 L292.6 791.2 L292.3 792.3 L292.8 793.2 L293.2 794.2 L293.0 795.3 L292.6 796.4 L293.3 797.3 L294.0 798.3 L293.1 799.4 L293.6 800.4 L293.6 801.4 L294.1 802.4 L293.9 803.4 L293.7 804.5 L294.5 805.4 L294.2 806.5 L294.5 807.5 L295.0 808.5 L294.8 809.5 L294.8 810.6 L295.4 811.5 L294.9 812.7 L295.5 813.3 L296.2 813.0 L296.7 812.0 L297.1 811.0 L297.4 810.0 L297.9 809.1 L298.0 808.0 L299.2 807.5 L299.7 806.6 L300.4 805.8 L301.1 805.0 L301.4 804.0 L301.8 803.1 L302.7 802.4 L303.0 801.4 L303.5 800.5 L303.7 799.4 L304.9 798.9 L305.0 797.8 L306.2 797.3 L306.0 796.0 L306.6 795.2 L307.3 794.4 L307.7 793.4 L308.0 792.4 L308.6 791.6 L309.2 790.7 L309.9 790.0 L310.8 789.3 L311.2 788.3 L311.5 787.4 L312.2 786.6 L311.8 785.3 L312.7 784.6 L313.2 783.8 L313.6 782.8 L314.5 782.2 L314.6 781.1 L315.0 780.2 L316.0 779.6 L316.1 778.5 L316.7 777.6 L316.8 776.6 L317.9 776.1 L318.2 775.1 L319.1 774.4 L319.7 773.6 L319.8 772.5 L320.0 771.5 L320.3 770.5 L321.5 770.0 L321.5 768.9 L322.2 768.1 L322.5 767.1 L321.8 765.7 L323.2 765.1 L323.6 764.1 L324.0 763.2 L324.3 762.2 L324.8 761.2 L324.9 760.1 L325.7 759.3 L325.8 758.2 L326.4 757.3 L327.2 756.5 L327.2 755.4 L327.5 754.1 L327.5 755.5 L328.3 756.4 L327.9 757.5 L327.7 758.5 L328.6 759.4" stroke="#5a7cf0" stroke-width="1.9"/>
<path d="M328.6 759.4 L328.5 760.5 L328.9 761.5 L328.6 762.5 L328.6 763.6 L328.7 764.6 L328.9 765.6 L329.5 766.6 L329.2 767.7 L329.1 768.7 L328.8 769.8 L329.7 770.7 L328.8 771.8 L329.5 772.8 L329.8 773.8 L328.9 774.9 L329.3 775.9 L329.7 776.9 L329.4 778.0 L329.4 779.0 L330.1 780.0 L329.3 781.1 L330.0 782.1 L329.5 783.2 L330.0 784.2 L329.9 784.7 L329.8 784.2 L329.9 783.2 L330.1 782.1 L329.6 781.1 L329.9 780.1 L330.3 779.1 L330.2 778.1 L330.2 777.0 L330.6 776.0 L330.1 775.0 L331.2 774.0 L330.4 773.0 L330.8 772.0 L330.7 770.9 L331.1 769.9 L330.7 768.9 L330.6 767.9 L331.0 766.9 L331.2 765.8 L331.0 764.8 L331.2 764.4 L330.9 764.8 L330.8 765.8 L330.8 766.8 L331.0 767.8 L331.4 768.8 L330.9 769.8 L331.6 770.8 L331.4 771.8 L331.1 772.9 L331.3 773.9 L332.0 774.8 L331.8 775.8 L332.0 776.8 L331.4 777.9 L332.0 778.9 L331.9 779.9 L332.2 780.9 L332.2 781.9 L331.8 782.9 L332.4 783.9 L332.1 784.9 L332.3 785.9 L332.4 786.9 L332.7 787.9 L332.0 788.9 L332.3 789.4 L332.1 788.8 L332.4 787.8 L332.6 786.8 L332.3 785.8 L332.1 784.8 L332.5 783.7 L332.4 782.7 L332.5 781.7 L333.3 780.7 L332.2 779.6 L332.9 778.6 L333.0 777.6 L332.8 776.6 L332.9 775.5 L333.4 774.5 L333.0 773.5 L332.6 772.5 L333.1 771.4 L333.3 770.4 L333.1 769.4 L333.1 768.4 L333.4 767.4 L333.2 766.3 L333.5 765.3 L333.7 764.3 L333.3 763.2 L333.1 762.2 L333.6 761.6 L333.5 762.2 L333.9 763.2 L334.2 764.3 L333.8 765.3 L333.8 766.3 L333.8 767.4 L333.9 768.4 L334.2 769.4 L334.2 770.4 L334.6 771.5 L334.4 772.5 L334.4 773.5 L333.9 774.6 L334.7 775.6 L333.8 776.6 L334.2 777.7 L334.6 778.7 L334.7 779.7 L334.5 780.7 L334.5 781.8 L334.5 782.8 L335.3 783.8 L334.9 784.8 L334.7 785.9 L334.8 787.2 L335.1 785.9 L335.0 784.9 L335.2 783.9 L335.0 782.9 L335.7 781.9 L335.5 780.9 L335.4 779.9 L335.2 778.9 L335.4 777.9 L335.6 776.9 L335.5 775.9 L336.1 774.9 L336.2 773.9 L336.0 772.9 L335.4 771.8 L336.0 770.8 L335.7 769.8 L335.9 768.8 L336.5 767.8 L335.5 766.8 L335.6 765.8 L336.1 764.6 L335.9 765.8 L336.3 766.8 L336.9 767.8 L336.2 768.8 L336.2 769.8 L336.0 770.8 L336.4 771.8 L336.2 772.8 L336.8 773.8 L336.4 774.8 L336.3 775.8 L336.8 776.8 L336.9 777.8 L336.5 778.8 L337.1 779.8 L337.2 780.8 L337.0 781.8 L336.9 782.8 L336.8 783.8 L337.3 784.8 L337.1 785.8 L337.6 786.8 L337.7 787.8 L337.6 789.5 L337.2 787.7 L337.0 786.7 L337.7 785.7 L337.4 784.7 L337.9 783.6 L337.0 782.6 L337.5 781.5 L338.2 780.6 L338.0 779.5 L337.7 778.5 L338.5 777.5 L338.4 776.4 L338.0 775.4 L338.6 774.4 L338.5 773.3 L337.9 772.2 L338.1 771.2 L338.5 770.2 L338.2 769.1 L338.1 768.1 L338.6 767.0 L338.4 768.1 L338.7 769.1 L339.1 770.1 L339.6 771.1 L338.6 772.1 L339.0 773.1 L338.7 774.1 L339.1 775.1 L339.3 776.1 L339.1 777.1 L339.4 778.1 L339.4 779.1 L339.6 780.1 L340.0 781.1 L339.1 782.1 L339.2 783.1 L339.7 784.1 L339.7 785.1 L338.9 786.1 L339.5 787.1 L339.9 788.1 L340.2 789.1 L339.3 790.2 L340.0 791.5 L339.7 790.0 L340.2 789.0 L339.8 788.0 L340.0 787.0 L340.5 785.9 L340.2 784.9 L340.1 783.8 L339.9 782.8 L340.6 781.8 L340.4 780.7 L340.2 779.7 L341.2 778.7 L340.5 777.6 L340.6 776.6 L340.9 775.6 L340.8 774.5 L340.9 773.5 L341.1 772.5 L340.9 771.4 L341.1 770.1 L341.3 771.4 L340.9 772.5 L341.3 773.5 L340.9 774.5 L341.4 775.5 L341.8 776.5 L341.5 777.6 L341.7 778.6 L341.8 779.6 L341.8 780.6 L341.5 781.7 L341.6 782.7 L341.8 783.7 L341.9 784.8 L341.9 785.8 L341.9 786.8 L342.1 787.8 L342.5 788.8 L342.0 789.9 L342.4 791.3 L342.9 789.9 L341.6 788.8 L342.7 787.9 L342.6 786.8 L341.8 785.8 L343.1 784.8 L342.1 783.8 L342.6 782.8 L342.9 781.8 L343.2 780.8 L342.8 779.7 L342.8 778.7 L342.5 777.7 L343.0 776.7 L343.3 775.7 L342.7 774.6 L343.7 773.7 L342.4 772.6 L343.1 771.6 L343.2 770.6 L343.4 769.6 L343.6 768.6 L343.8 767.5 L343.4 766.5 L343.7 765.0 L344.0 766.5 L343.8 767.6 L344.0 768.6 L343.9 769.6 L343.9 770.6 L343.9 771.7 L343.6 772.7 L343.8 773.7 L344.4 774.8 L344.3 775.8 L344.3 776.8 L344.3 777.9 L343.9 778.9 L343.9 779.9 L344.2 781.0 L343.8 782.0 L344.6 783.0 L344.4 784.0 L344.1 785.1 L344.5 786.1 L344.7 787.1 L344.8 788.1 L344.3 789.2 L344.4 790.2 L344.1 791.3 L344.1 792.3 L344.7 793.3 L345.0 794.3 L345.1 795.3 L344.9 796.3 L345.5 795.4 L344.9 794.3 L344.8 793.3 L345.0 792.3 L345.2 791.3 L344.9 790.2 L345.0 789.2 L345.0 788.2 L345.7 787.2 L345.3 786.1 L345.5 785.1 L345.6 784.1 L344.8 783.0 L345.6 782.0 L345.2 781.0 L345.4 780.0 L345.0 778.9 L345.9 777.9 L345.7 776.9 L345.4 775.8 L346.2 774.8 L345.5 773.8 L346.3 772.8 L345.9 771.7 L346.7 770.7 L345.6 769.7 L346.2 768.7 L345.7 767.6 L346.1 766.2 L346.3 767.6 L346.3 768.6 L346.6 769.7 L346.2 770.7 L345.8 771.7 L346.2 772.8 L346.7 773.7 L345.9 774.8 L347.1 775.8 L346.1 776.9 L346.7 777.9 L347.0 778.9 L346.8 779.9 L346.8 780.9 L346.5 782.0 L346.7 783.0 L347.1 784.0 L346.7 785.0 L347.1 786.0 L347.4 787.0 L347.5 788.1 L347.5 789.1 L347.2 790.1 L347.4 791.1 L347.1 792.2 L347.5 792.8 L347.5 792.2 L347.6 791.2 L347.6 790.2 L347.7 789.2 L346.8 788.1 L347.3 787.1 L347.5 786.1 L347.8 785.1 L348.3 784.1 L348.6 783.1 L347.8 782.1 L348.0 781.1 L348.3 780.1 L348.0 779.1 L348.5 778.1 L348.2 777.1 L348.3 776.1 L348.5 775.1 L348.9 774.1 L348.5 773.0 L348.3 772.0 L349.0 771.1 L348.6 770.2 L348.9 771.0 L349.2 772.0 L348.8 773.1 L349.0 774.1 L349.1 775.1 L348.9 776.1 L348.8 777.1 L348.7 778.2 L349.1 779.2 L349.5 780.2 L349.6 781.2 L349.8 782.2 L349.2 783.2 L350.0 784.2 L349.7 785.3 L350.0 786.3 L349.7 787.3 L349.8 788.3 L349.8 789.3 L349.3 790.4 L349.6 791.4 L350.0 792.4 L350.4 793.4 L350.2 794.6 L350.6 795.6 L350.8 796.7 L351.3 797.8 L351.1 798.9 L351.3 800.1 L351.5 801.3" stroke="#7a90f2" stroke-width="1.9"/>
<path d="M351.5 801.3 L352.3 800.4 L353.0 799.6 L353.4 798.6 L354.5 798.3 L355.0 797.4 L356.0 796.9 L356.2 795.8 L356.9 795.0 L357.9 794.5 L358.2 793.4 L359.1 792.9 L359.6 792.0 L360.3 791.2 L360.5 790.1 L361.8 789.8 L362.4 789.0 L362.7 788.0 L364.0 787.7 L363.4 786.3 L364.2 785.5 L365.3 784.8 L365.2 783.7 L365.1 782.6 L365.8 781.8 L366.1 780.8 L365.2 779.5 L366.5 778.8 L366.8 777.9 L367.6 777.0 L367.5 775.9 L367.4 774.8 L367.9 774.0 L369.0 773.2 L368.7 772.1 L369.6 771.3 L369.6 770.2 L369.4 769.1 L370.1 768.3 L370.3 767.3 L370.7 766.3 L370.9 765.3 L370.9 764.3 L371.8 763.5 L371.8 762.4 L372.0 761.4 L372.4 760.5 L372.6 759.5 L373.0 758.6 L373.3 757.6 L373.3 756.5 L374.5 755.8 L374.4 754.7 L374.5 753.7 L374.4 752.6 L375.6 752.0 L375.7 750.9 L376.1 750.0 L376.1 748.9 L376.7 748.0 L376.6 747.0 L377.1 746.0 L377.8 745.2 L378.3 744.3 L378.1 743.2 L377.9 742.1 L378.7 741.3 L379.1 740.3 L379.0 739.2 L379.3 738.2 L380.6 737.6 L380.2 736.4 L380.4 735.4 L381.1 734.6 L380.8 733.4 L381.1 732.4 L381.8 731.6 L382.6 730.8 L383.0 729.8 L383.1 728.8 L383.9 728.0 L383.3 726.7 L383.8 725.8 L384.9 725.1 L385.0 724.1 L385.1 723.1 L385.6 722.2 L385.7 721.1 L386.8 720.4 L386.4 719.2 L387.2 718.4 L387.2 717.3 L387.4 716.3 L387.6 715.3 L388.2 714.4 L388.6 713.5 L388.8 712.5 L388.9 711.5 L389.4 710.5 L389.6 709.5 L390.8 708.9 L390.7 707.8 L390.9 706.8 L391.6 705.9 L391.7 704.9 L392.1 704.0 L392.5 703.0 L392.5 702.0 L392.2 700.8 L393.2 700.1 L393.4 699.1 L393.6 698.1 L393.6 697.0 L394.4 696.2 L394.5 695.2 L395.3 694.3 L394.7 693.1 L395.0 692.2 L395.8 691.3 L396.1 690.4 L396.1 689.3 L396.8 688.5 L396.8 687.4 L397.4 686.5 L397.3 685.4 L397.7 684.5 L398.1 683.6 L397.9 682.5 L398.8 681.7 L398.6 680.5 L399.3 679.7 L399.0 678.6 L398.9 677.5 L399.9 676.7 L399.7 675.6 L401.1 675.0 L400.2 673.6 L400.7 672.7 L401.6 672.0 L401.8 671.0 L401.7 669.9 L402.7 669.1 L402.9 668.1 L402.4 666.9 L402.9 666.0 L403.4 665.1 L403.6 664.3 L403.8 665.1 L403.8 666.2 L404.5 667.1 L404.4 668.2 L405.0 669.2 L404.7 670.3 L404.7 671.4 L405.5 672.3 L405.0 673.4 L405.9 674.3 L406.6 675.3 L406.2 676.4 L406.2 677.5 L406.1 678.6 L406.3 679.6 L407.1 680.5 L407.2 681.6 L406.9 682.8 L407.3 683.7 L407.8 682.6 L408.3 681.8 L409.4 681.3 L409.9 680.3 L410.6 679.4 L411.0 678.4 L411.7 677.6 L412.5 676.7 L413.3 675.8 L413.9 676.9 L414.9 677.6 L416.0 678.5 L417.9 678.6 L418.8 680.1 L419.8 681.5 L421.1 680.8 L421.8 682.0 L423.1 679.6 L423.8 680.7 L425.0 682.5 L426.2 680.7 L428.5 684.7 L430.1 681.6 L431.2 682.2 L432.4 683.2 L432.7 680.2 L433.9 680.6 L434.6 678.9 L436.5 681.1 L436.9 678.3 L438.0 677.9 L439.6 678.7 L440.6 677.5 L442.2 678.2 L443.0 676.2 L444.4 676.2 L445.9 676.3 L447.1 675.8 L448.2 674.6 L449.6 674.4 L452.0 677.7 L452.3 674.1 L453.5 673.4 L454.3 671.9 L455.7 671.9 L457.5 673.7 L458.4 672.4 L460.1 673.7 L460.6 671.0 L462.0 670.9 L463.3 671.1 L464.8 671.4 L465.5 669.4 L467.3 671.0 L468.1 669.2 L469.4 669.2 L470.5 668.3 L472.1 669.4 L473.7 670.2 L474.2 667.6 L474.9 665.5 L476.1 665.3 L477.9 667.0 L479.1 666.7 L480.2 666.2 L481.4 666.0 L482.2 664.8 L484.0 665.7 L485.0 664.7 L485.7 663.0 L487.0 662.5 L488.7 663.4 L490.0 663.0 L490.5 661.1 L492.1 661.6 L492.8 660.2 L493.4 658.6 L494.9 658.8 L496.0 658.4 L496.5 656.5 L498.6 658.1 L499.7 657.5 L501.2 657.8 L502.2 657.0 L502.4 654.4 L504.0 655.0 L505.8 656.1 L506.4 654.4 L507.5 653.7 L508.6 653.0 L510.1 653.7 L510.8 652.1 L512.1 651.9 L513.2 651.4 L514.1 650.3 L514.8 648.7 L516.0 648.3 L518.1 650.4 L519.6 650.8 L520.1 648.5 L521.4 648.3 L522.6 648.0 L523.4 646.6 L525.1 647.2 L526.4 646.9 L526.8 644.9 L527.5 643.6 L529.5 645.3 L530.0 643.4 L531.5 643.9 L532.2 642.4 L534.1 643.6 L535.6 643.8 L535.4 640.4 L537.4 641.9 L538.2 640.6 L539.1 639.6 L539.9 638.5 L541.4 638.7 L541.6 636.3 L544.3 639.3 L545.0 637.8 L545.9 637.0 L547.5 637.7 L548.0 636.1 L549.2 635.9 L550.3 635.8 L550.7 633.4 L552.0 633.3 L553.1 632.7 L554.4 633.0 L555.6 632.9 L557.1 633.7 L557.2 631.2 L558.4 631.3 L559.2 630.5 L560.8 631.5 L561.4 630.1 L562.9 630.5 L563.9 629.8 L564.4 627.9 L566.6 629.4 L567.4 627.9 L569.0 627.6 L569.7 625.4 L571.1 625.9 L571.7 624.8 L573.0 625.1 L573.5 623.8 L575.1 624.5 L575.1 622.1 L577.1 623.4 L578.1 622.8 L578.4 620.7 L580.0 621.2 L581.5 621.3 L582.6 620.7 L583.9 620.4 L584.7 619.2 L585.5 617.9 L587.1 618.3 L587.5 616.1 L588.8 615.9 L590.2 615.6 L591.6 615.6 L593.2 615.8 L594.2 614.9 L595.1 613.7 L596.3 613.3 L597.7 613.3 L598.4 611.8 L599.6 611.2 L600.9 611.2 L602.6 612.1 L603.3 610.5 L604.0 609.1 L605.6 609.8 L606.0 607.4 L607.9 609.1 L608.6 607.5 L609.6 606.8 L611.0 607.3 L612.0 606.6 L613.2 606.3 L613.8 604.1 L615.1 604.7 L616.8 606.1 L617.4 603.9 L618.2 602.4 L620.1 604.9 L621.3 604.8 L622.7 605.4 L623.7 604.4 L624.5 602.8 L625.7 602.6 L626.5 601.0 L627.9 601.6 L628.9 600.4 L630.2 600.9 L631.2 599.8 L632.6 600.3 L634.0 600.7 L635.0 599.9 L636.5 600.7 L637.5 599.5 L638.6 598.9 L639.9 598.6 L640.8 597.7 L642.5 599.3 L643.2 597.6 L644.5 597.7 L645.5 596.8 L647.2 598.2 L648.4 598.1 L649.2 596.6 L650.1 595.3 L651.0 594.1 L652.9 596.0 L654.2 596.1 L655.2 595.2 L655.9 593.3 L656.7 591.5 L659.1 595.0 L659.7 593.0 L661.3 594.0 L662.5 593.5 L663.4 592.4 L664.7 592.3 L665.8 591.7 L666.6 589.9 L667.6 588.8 L669.5 591.2 L670.6 590.5 L671.5 589.0 L673.3 591.0 L673.5 586.6 L675.2 588.6 L676.3 588.0 L677.4 587.2 L678.8 587.9 L679.9 587.6 L681.5 589.4 L682.5 588.1 L683.8 587.9 L685.1 588.2 L686.2 586.9 L687.7 588.1 L689.0 588.3 L690.2 587.1 L691.4 585.7 L692.8 586.4 L694.1 586.5 L695.6 588.5 L696.8 586.5 L698.1 587.8 L699.3 585.7 L700.7 585.8 L701.9 585.2 L703.2 585.5 L704.5 587.6 L705.8 586.1 L707.0 585.6 L708.2 586.2 L709.4 586.2 L710.6 585.6 L711.8 584.8 L712.9 587.0 L714.0 586.5 L715.1 587.5 L716.1 585.3 L717.2 585.8 L718.2 584.6 L719.1 586.4 L719.9 587.2 L722.1 583.9 L723.3 587.1 L725.0 586.9 L726.5 587.2 L727.7 588.0 L729.1 588.2 L730.5 588.2 L730.9 590.4 L732.5 589.7 L734.0 588.3 L734.3 591.1 L735.4 590.9 L736.2 589.6 L737.1 589.7 L738.1 589.6 L739.4 589.5 L739.4 588.3 L740.4 588.0 L741.9 588.0 L741.0 586.4 L741.7 585.7 L741.7 584.6 L743.2 584.1 L743.5 583.0 L743.9 582.0 L743.1 580.5 L743.2 579.3 L744.8 578.5 L744.9 577.2 L744.5 575.7 L745.1 574.5 L745.5 573.2 L746.8 572.0 L745.5 570.3 L746.5 569.0 L745.4 567.3 L745.7 565.8 L746.7 564.5 L745.6 562.6 L748.0 561.6 L747.8 559.9 L747.7 558.9 L748.3 558.0 L750.1 557.4 L747.7 555.8 L749.1 555.0 L750.2 554.1 L749.9 552.9 L747.9 551.3 L750.9 550.8 L750.8 549.6 L750.5 548.4 L750.3 547.1 L751.3 546.1 L750.2 544.7 L752.2 543.9 L751.7 542.5 L750.7 541.1 L751.3 539.9 L751.6 538.7 L753.0 537.7 L753.6 536.5 L752.8 535.1 L753.5 533.9 L752.7 532.5 L754.9 531.6 L756.1 530.6 L752.6 528.6 L754.2 527.6 L754.7 526.4 L753.9 524.9 L754.9 523.8 L756.1 522.8 L757.8 521.9 L756.8 520.4 L757.9 519.3 L758.7 518.2 L756.5 516.4 L757.5 515.4 L756.9 514.0 L756.2 512.6 L759.3 512.1 L757.9 510.5 L758.9 509.5 L759.0 508.3 L759.8 507.3 L760.6 506.3 L759.8 504.9 L760.0 503.7 L760.7 502.6 L760.5 501.3 L760.8 500.2 L762.0 499.3 L763.4 498.4 L760.9 496.5 L762.6 495.7 L762.7 494.5 L763.5 493.4 L762.9 492.1 L764.5 491.2 L765.2 490.2 L763.4 488.4 L763.5 487.2 L765.3 486.5 L764.9 485.1 L764.2 483.6 L766.1 482.9 L765.6 481.5 L766.1 480.4 L767.5 479.6 L766.1 477.9 L769.0 477.5 L767.8 475.9 L768.5 474.8 L768.7 473.6 L768.3 472.2 L769.0 471.1 L767.8 469.5 L771.2 469.3 L769.9 467.6 L773.0 467.3 L771.5 465.6 L772.8 464.7 L772.4 463.4 L772.8 462.2 L772.9 461.0 L774.1 460.1 L772.4 458.3 L773.5 457.4 L773.9 456.3 L774.7 455.3 L775.9 454.4 L775.7 453.1 L775.2 451.7 L774.7 450.2 L775.7 449.3 L777.8 448.8 L778.0 447.5 L777.9 446.2 L779.5 445.5 L777.5 443.5 L781.2 443.6 L778.6 441.3 L781.5 441.1 L779.4 439.1 L781.4 438.5 L781.1 437.1 L780.1 435.4 L781.6 434.7 L781.8 433.5 L782.5 432.5 L783.4 431.5 L783.9 430.4 L785.1 429.6 L786.0 428.6 L783.8 426.5 L785.3 425.8 L787.3 425.3 L787.7 424.1 L786.5 422.4 L787.8 421.6 L786.8 419.9 L788.4 419.3 L787.2 417.5 L787.8 416.5 L789.0 415.6 L788.8 414.2 L789.6 413.2 L790.4 412.2 L791.0 411.1 L791.4 409.9 L791.4 408.6 L793.9 408.2 L794.1 407.0 L794.1 405.6 L792.3 403.6 L793.8 402.8 L794.9 401.9 L794.8 400.5 L795.9 399.6 L795.4 398.1 L796.8 397.3 L795.2 395.3 L798.3 395.2 L798.4 394.0 L798.2 392.5 L797.3 390.9 L798.3 389.9 L800.9 389.7 L800.1 388.0 L800.7 387.0 L800.7 385.7 L801.2 384.5 L803.6 384.2 L803.0 382.7 L802.7 381.3 L804.7 380.9 L802.7 378.7 L805.6 378.7 L805.7 377.5 L805.0 375.9 L807.6 375.8 L805.0 373.4 L808.2 373.6 L807.2 371.9 L807.3 370.5 L807.4 369.1 L809.2 368.5 L808.2 366.6 L811.1 366.5 L812.1 365.6 L812.8 364.5 L812.7 363.0 L812.3 361.3 L812.6 360.0 L812.6 358.6 L814.8 358.3 L814.6 356.7 L816.4 356.3 L815.0 354.0 L816.7 353.6 L816.3 351.9 L817.7 351.3 L818.5 350.3 L820.0 349.8 L820.6 348.8 L821.5 347.9 L820.0 345.7 L822.0 345.5 L822.6 344.5 L821.8 342.7 L822.9 342.0 L824.5 341.7 L823.4 339.7 L826.4 340.4 L824.6 337.9 L826.4 337.9 L825.4 335.9 L827.9 336.5 L827.8 335.2 L827.4 332.9 L830.5 333.6 L830.3 331.7 L832.1 331.5 L833.3 330.9 L833.8 329.7 L834.4 328.6 L834.7 327.1 L835.9 326.7 L837.1 326.3 L837.8 325.4 L838.1 324.0 L840.5 325.2 L839.3 321.8 L840.3 321.3 L840.9 320.2 L843.4 321.7 L843.4 319.7 L844.5 319.3 L845.5 318.8 L847.8 319.7 L846.8 316.4 L848.9 317.2 L849.8 316.4 L851.3 316.4 L852.0 315.3 L852.4 313.9 L853.4 313.3 L854.8 313.1 L855.3 311.8 L855.4 309.9 L857.0 310.0 L858.4 309.9 L859.3 309.0 L860.7 309.0 L861.7 308.2 L861.6 305.9 L862.8 305.4 L865.3 307.1 L864.8 303.9 L866.5 304.1 L867.3 303.1 L869.3 303.9 L869.3 301.5 L870.7 301.1 L871.9 300.6 L873.1 300.0 L875.5 301.8 L874.7 298.2 L876.2 298.3 L877.3 298.0 L878.8 298.0 L879.9 297.5 L881.2 297.3 L881.3 294.8 L882.5 294.3 L883.7 293.8 L885.6 294.6 L885.7 292.1 L888.1 293.8 L888.9 292.6 L889.5 291.0 L890.8 290.7 L891.4 289.0 L893.3 290.1 L894.1 288.7 L895.1 288.0 L895.6 286.4 L897.6 287.6 L898.3 286.5 L899.4 286.0 L900.9 286.7 L901.7 285.7 L901.8 283.5 L903.4 284.5 L904.7 285.0 L906.0 284.0 L906.4 280.9 L908.2 281.3 L909.7 281.1 L911.1 281.2 L912.8 282.2 L913.4 279.6 L915.2 281.6 L916.4 281.4 L917.0 278.7 L918.6 281.0 L919.7 280.9 L920.8 281.1 L921.7 279.4 L922.7 278.9 L923.8 279.4 L924.8 279.2 L926.3 279.5 L927.6 278.2 L928.8 278.1 L930.0 279.3 L931.2 278.8 L932.4 278.0 L933.6 278.5 L934.6 279.2 L935.8 279.8 L936.8 280.8 L937.8 282.4 L940.1 280.3 L941.0 280.8 L941.9 281.7 L943.4 280.9 L944.4 281.4 L945.5 281.8 L946.0 283.9 L947.0 284.4 L949.1 283.0 L948.9 286.4 L951.2 284.8 L951.9 286.3 L953.4 286.2 L954.2 287.5 L955.0 288.9 L956.6 288.8 L957.3 290.3 L959.5 289.2 L960.4 290.4 L961.2 291.6 L962.0 292.5 L962.4 294.0 L964.7 292.8 L965.9 293.1 L966.7 294.2 L967.6 295.0 L968.5 295.8 L969.1 297.1 L970.5 297.3 L970.4 299.5 L971.8 299.7 L973.4 299.8 L974.8 300.0 L975.1 301.6 L975.4 303.3 L977.7 302.5 L978.1 304.0 L978.8 305.2 L979.5 306.4 L981.1 306.5 L982.6 306.7 L983.8 307.3 L982.7 310.3 L984.8 309.7 L986.2 309.9 L986.5 311.4 L987.5 312.1 L988.4 312.9 L988.8 314.3 L990.1 314.7 L989.3 317.3 L992.5 315.6 L992.3 317.7 L993.1 318.6 L994.3 319.1 L995.4 319.7 L995.8 321.1 L997.7 320.8 L997.6 322.7 L999.7 322.2 L999.7 324.0 L1001.1 324.1 L1001.8 325.1 L1002.8 325.8 L1003.5 326.8 L1004.3 327.6 L1004.3 329.6 L1007.0 328.4 L1007.3 330.0 L1008.2 331.0 L1009.4 331.5 L1010.6 331.9 L1011.4 333.0 L1012.8 333.2 L1013.2 334.7 L1015.7 333.2 L1014.5 337.2 L1016.6 336.3 L1018.1 336.3 L1018.1 338.4 L1019.2 339.1 L1020.1 339.8 L1022.0 339.2 L1022.6 340.5 L1023.1 341.9 L1024.8 341.6 L1025.8 342.2 L1027.8 341.5 L1027.6 344.2 L1029.8 342.9 L1029.6 345.7 L1031.6 344.5 L1031.9 346.6 L1033.1 346.9 L1033.9 348.0 L1034.7 349.1 L1035.7 349.8 L1037.6 348.9 L1038.9 349.1 L1038.8 351.7 L1040.0 352.1 L1041.6 351.7 L1042.7 352.5 L1043.3 353.8 L1045.3 353.3 L1045.7 355.0 L1046.3 356.4 L1046.7 357.6 L1049.2 356.3 L1049.3 357.9 L1051.5 357.1 L1052.1 358.1 L1052.8 359.1 L1053.2 360.4 L1053.3 362.1 L1054.9 362.1 L1055.9 362.7 L1056.0 364.3 L1056.8 365.2 L1057.8 365.9 L1059.0 366.4 L1060.8 366.4 L1060.4 368.5 L1061.8 368.9 L1061.6 370.8 L1062.5 371.7 L1063.6 372.4 L1063.3 374.4 L1065.7 374.0 L1066.7 374.8 L1068.7 374.9 L1067.9 377.4 L1069.3 377.7 L1070.2 378.4 L1071.3 379.0 L1070.4 381.3 L1070.9 382.4 L1073.2 382.1 L1075.0 382.3 L1074.6 384.2 L1074.8 385.6 L1075.2 386.9 L1076.0 387.9 L1077.2 388.6 L1079.2 388.7 L1079.7 390.0 L1080.0 391.4 L1080.8 392.4 L1081.2 393.7 L1079.8 396.2 L1083.6 395.1 L1083.0 397.1 L1083.2 398.4 L1085.5 398.4 L1085.1 400.2 L1086.5 400.7 L1087.6 401.4 L1088.0 402.6 L1089.4 403.1 L1088.7 404.9 L1088.9 406.1 L1090.1 406.6 L1090.5 408.0 L1090.7 409.5 L1090.4 411.1 L1090.7 412.4 L1092.8 412.7 L1092.6 414.2 L1094.2 414.8 L1094.6 416.0 L1093.3 417.8 L1095.5 418.2 L1095.5 419.5 L1095.6 420.7 L1095.8 421.9 L1096.3 423.0 L1098.4 423.4 L1098.3 424.7 L1097.4 426.4 L1099.1 427.0 L1099.1 428.3 L1100.6 429.1 L1100.7 430.4 L1099.6 432.3 L1102.9 432.2 L1102.0 433.9 L1102.6 434.8 L1102.0 436.4 L1104.1 436.7 L1104.3 438.0 L1105.6 438.6 L1103.7 440.9 L1105.1 441.5 L1105.2 442.9 L1106.3 443.6 L1106.9 444.7 L1105.6 446.7 L1109.8 446.0 L1107.8 448.4 L1107.5 449.9 L1108.6 450.7 L1110.5 451.2 L1110.0 452.8 L1110.0 454.2 L1110.7 455.2 L1112.8 455.5 L1112.6 457.0 L1115.5 457.0 L1116.0 458.1 L1113.6 460.7 L1115.1 461.3 L1116.6 462.0 L1116.3 463.4 L1117.2 464.4 L1115.7 466.4 L1118.5 466.7 L1117.6 468.5 L1119.2 469.3 L1117.3 471.4 L1118.8 472.3 L1119.8 473.4 L1119.8 474.9 L1120.7 475.9 L1121.7 477.0 L1121.6 478.5 L1122.9 479.5 L1121.6 481.3 L1120.7 483.0 L1125.2 482.7 L1122.7 485.0 L1124.4 485.6 L1125.8 486.3 L1125.5 487.6 L1125.2 489.0 L1126.1 489.7 L1127.0 490.4 L1126.6 491.7 L1128.3 491.8 L1128.2 492.8 L1127.9 495.5 L1129.5 496.1 L1132.0 494.9 L1132.2 497.3 L1133.7 497.0 L1135.2 495.9 L1136.0 497.6 L1137.2 497.7 L1138.5 497.4 L1139.0 499.9 L1140.6 498.3 L1142.0 497.9 L1142.9 498.8 L1143.8 499.6 L1144.3 500.8 L1145.1 501.4 L1144.9 503.0 L1145.8 503.6 L1147.5 503.6 L1148.1 504.5 L1147.3 506.4 L1149.5 506.8 L1148.7 508.7 L1150.6 509.8 L1150.9 511.7 L1151.1 512.6 L1151.3 513.5 L1151.8 514.4 L1151.6 515.6 L1152.6 516.5 L1152.8 517.6 L1153.0 518.8 L1152.9 520.1 L1153.5 521.3 L1153.7 522.6 L1154.5 523.7 L1154.1 525.2 L1155.0 526.4 L1155.8 527.6 L1155.5 529.1 L1156.3 530.3 L1156.2 531.7 L1156.4 533.1 L1156.4 534.4 L1157.2 535.6 L1157.4 536.9 L1157.8 538.1 L1158.4 539.3 L1158.6 540.4 L1158.3 541.7 L1158.2 542.8 L1159.0 543.8 L1159.4 544.7 L1158.6 546.4 L1159.2 547.7" stroke="#5a7cf0" stroke-width="1.9"/>
<path d="M1159.2 547.7 L1159.8 548.9 L1160.1 550.0 L1160.0 551.1 L1160.0 552.2 L1160.2 553.1 L1159.7 554.2 L1160.5 555.1 L1160.0 556.1 L1160.6 557.1 L1160.2 558.2 L1160.7 559.4 L1160.7 560.7 L1161.2 562.1 L1161.1 563.7 L1161.0 565.4 L1161.0 566.3 L1161.6 567.3 L1161.2 568.3 L1161.0 569.4 L1161.3 570.4 L1161.1 571.6 L1161.2 572.7 L1160.9 573.9 L1161.3 575.0 L1161.4 576.3 L1162.2 577.5 L1161.6 578.7 L1161.5 580.0 L1161.4 581.3 L1162.2 582.6 L1162.1 583.9 L1162.1 585.2 L1162.0 586.5 L1162.2 587.8 L1162.0 589.2 L1162.1 590.5 L1162.5 591.8 L1162.2 593.1 L1161.8 594.5 L1162.2 595.7 L1162.6 597.0 L1163.1 598.3 L1162.6 599.5 L1162.9 600.8 L1163.1 602.0 L1163.1 603.2 L1163.0 604.3 L1163.0 605.5 L1163.2 606.6 L1163.3 607.9 L1163.0 609.3 L1163.5 610.5 L1162.4 611.8 L1163.0 612.9 L1163.6 614.0 L1164.1 615.1 L1163.3 616.3 L1163.5 617.3 L1164.0 618.4 L1163.3 619.5 L1164.1 620.5 L1164.1 621.6 L1164.4 622.6 L1164.5 623.7 L1164.6 624.9 L1164.5 626.0 L1165.4 627.1 L1164.5 628.4 L1165.0 629.6 L1164.7 630.9 L1164.6 632.3 L1164.8 633.7 L1164.9 635.2 L1164.7 636.7 L1165.1 638.3 L1165.3 640.0 L1165.5 640.9 L1165.1 641.9 L1165.2 642.9 L1165.0 643.9 L1165.3 644.9 L1165.2 646.0 L1164.9 647.1 L1165.2 648.1 L1165.6 649.2 L1165.5 650.4 L1165.5 651.5 L1165.3 652.6 L1164.8 653.8 L1165.2 655.0 L1165.3 656.2 L1165.3 657.4 L1165.2 658.6 L1165.1 659.8 L1165.5 661.0 L1165.2 662.3 L1165.8 663.5 L1165.4 664.8 L1165.5 666.0 L1165.2 667.3 L1165.7 668.6 L1164.8 669.9 L1165.7 671.1 L1165.8 672.4 L1165.5 673.7 L1165.1 675.0 L1165.6 676.3 L1165.5 677.6 L1165.1 678.9 L1165.3 680.2 L1165.2 681.5 L1165.2 682.7 L1165.3 684.0 L1165.3 685.3 L1165.4 686.6 L1164.8 687.8 L1165.2 689.1 L1165.2 690.3 L1165.3 691.6 L1165.6 692.8 L1166.1 694.0 L1165.5 695.3 L1165.9 696.5 L1165.0 697.7 L1165.9 698.8 L1165.4 700.0 L1165.6 701.3 L1164.6 702.6 L1165.3 703.9 L1165.4 705.2 L1165.1 706.6 L1165.2 707.9 L1165.9 709.3 L1165.5 710.7 L1166.0 712.1 L1165.6 713.5 L1165.4 714.9 L1165.2 716.3 L1165.4 717.7 L1165.5 719.1 L1166.0 720.6 L1165.2 722.0 L1165.6 723.4 L1166.0 724.8 L1165.6 726.2 L1165.3 727.6 L1166.0 729.0 L1165.4 730.4 L1165.5 731.7 L1165.4 733.1 L1166.1 734.4 L1165.6 735.8 L1165.4 737.1 L1165.2 738.3 L1165.3 739.6 L1165.8 740.8 L1165.3 742.0 L1165.9 743.2 L1165.7 744.4 L1165.9 745.5 L1166.0 746.6 L1166.0 747.6 L1165.9 748.6 L1165.7 749.6 L1165.9 750.6 L1165.7 751.5 L1165.9 752.4 L1165.4 753.2 L1165.1 754.0 L1166.3 754.7 L1165.6 755.4 L1165.4 756.0" stroke="#8696f4" stroke-width="1.8"/>
<path d="M1165.5 750 L1165.5 1019" stroke="#b8c0fa" stroke-width="1.6"/>
<path d="M251.5 739.3 L250.9 739.8 L250.5 740.3 L250.1 740.9 L252.1 741.3 L251.7 741.8 L251.9 742.3 L251.6 742.8 L251.5 743.3 L252.2 743.8 L251.3 744.4 L252.4 744.8 L251.3 745.4 L252.4 745.8 L251.8 746.3 L251.9 746.8 L252.5 747.3 L253.0 747.8 L253.2 748.3 L253.5 748.8 L251.9 749.4 L252.5 749.9 L251.6 750.4 L252.3 750.9 L252.1 751.4 L252.4 751.9 L252.0 752.4 L252.6 752.9 L250.9 753.5 L250.8 754.0 L250.5 754.6 L250.6 755.1 L252.3 755.4 L253.5 755.9 L251.7 756.5 L252.2 757.0 L253.2 757.4 L253.4 757.9 L252.5 758.5 L252.0 759.0 L252.9 759.5 L253.6 759.9 L252.8 760.5 L252.7 761.0 L254.2 761.3 L253.1 762.0 L254.3 762.4 L253.7 762.9 L253.5 763.4 L253.9 763.9 L254.9 764.3 L253.7 764.9 L254.8 765.3 L253.4 766.0 L255.0 766.3 L254.1 766.9 L254.0 767.4 L254.1 767.9 L253.5 768.5 L253.5 769.0 L252.5 769.6 L253.4 770.0 L252.9 770.6 L254.2 770.9 L252.6 771.6 L252.6 772.1 L252.2 772.6 L252.0 773.2 L253.4 773.5 L253.7 774.0 L253.4 774.5 L253.4 775.1 L252.2 775.9 L254.4 775.9 L253.4 776.7 L253.0 777.4 L253.9 777.6 L254.8 777.9 L254.6 778.5 L253.9 779.2 L254.0 779.7 L254.7 780.0 L254.6 780.6 L254.2 781.2 L255.5 781.4 L254.4 782.2 L256.4 782.2 L254.9 783.1 L257.1 783.0 L255.6 784.0 L256.5 784.2 L257.6 784.5 L256.6 785.3 L256.3 785.9 L256.3 786.4 L256.6 786.9 L256.8 787.3 L256.9 787.8 L256.7 788.4 L256.1 789.1 L256.7 789.4 L256.8 790.0 L257.3 790.3 L256.7 790.9 L256.2 791.5 L256.5 791.9 L258.8 792.0 L258.7 792.5 L258.9 793.0 L258.6 793.6 L257.2 794.4 L258.9 794.6 L258.8 795.1 L259.2 795.6 L260.4 795.8 L260.2 796.4 L260.1 796.9 L260.4 797.4 L260.2 797.9 L260.4 798.4 L260.4 798.9 L261.4 799.3 L259.9 800.1 L260.4 800.5 L261.3 800.8 L261.4 801.3 L261.8 801.8 L262.6 802.2 L261.1 803.0 L261.9 803.3 L261.0 804.0 L260.8 804.6 L262.6 804.7 L262.5 805.3 L261.4 806.0 L262.0 806.2 L261.8 806.4 L261.7 806.3 L262.4 806.3 L261.9 805.2 L262.9 805.4 L263.8 805.5 L263.4 804.5 L263.9 804.2 L264.7 804.2 L265.3 804.1 L265.7 803.8 L265.8 803.2 L266.7 803.3 L265.9 801.9 L267.3 802.4 L267.0 801.5 L266.8 800.6 L266.4 799.6 L268.0 800.3 L267.6 799.3 L267.9 798.9 L268.7 798.9 L268.0 797.7 L269.0 797.8 L269.5 797.6 L270.4 797.7 L270.3 796.9 L271.7 797.3 L271.0 796.2 L271.8 796.1 L271.9 795.6 L272.2 795.1 L273.9 795.8 L273.4 794.8 L273.5 794.3 L273.9 793.9 L274.1 793.5 L273.5 792.4 L274.3 792.3 L275.0 792.2 L274.4 791.2 L275.2 791.1 L275.4 790.7 L275.4 790.0 L275.5 789.5 L276.1 789.3 L276.8 789.2 L277.3 788.9 L276.4 787.7 L277.6 787.9 L278.1 787.6 L277.1 786.3 L277.6 786.0 L278.9 786.4 L279.4 786.0 L279.6 785.6 L280.6 785.7 L280.5 785.0 L281.2 784.9 L280.8 784.0 L281.2 783.7 L281.1 783.0 L281.9 783.0 L282.0 782.4 L282.1 781.8 L283.0 781.9 L283.1 781.3 L282.9 780.4 L283.5 780.2 L283.8 779.8 L284.1 779.4 L283.9 778.5 L284.9 778.7 L284.7 777.8 L285.4 777.8 L285.4 777.1 L287.0 777.8" stroke="#a82cf2" stroke-width="4.6"/>
<path d="M287.0 777.8 L285.7 775.9 L287.2 776.6 L286.6 775.4 L288.2 776.1 L287.2 774.5 L288.5 774.8 L288.3 774.0 L288.9 773.7 L287.3 772.9 L287.8 772.5 L288.2 772.0 L288.4 771.5 L287.3 770.9 L286.5 770.4 L287.5 769.9 L287.4 769.4 L288.1 769.0 L288.0 768.5 L287.9 767.9 L288.7 767.5 L290.1 767.1 L289.8 766.6 L289.3 766.0 L290.1 765.6 L288.8 765.0 L289.3 764.5 L289.5 764.0 L289.1 763.5 L288.6 763.0 L288.8 762.5 L289.7 762.0 L288.3 761.4 L288.4 761.0 L289.2 760.5 L286.5 759.8 L288.0 759.4 L289.0 759.0 L287.7 758.4 L288.6 758.0 L290.0 757.5 L289.5 757.0 L289.8 756.5 L291.2 756.1 L288.7 755.4 L290.7 755.1 L289.1 754.5 L290.1 754.0 L290.1 753.5 L289.7 753.0 L289.3 752.5 L289.9 752.0 L289.5 751.5 L289.7 751.0 L289.8 750.5 L289.6 750.0 L290.4 749.5 L289.1 748.9 L288.3 748.2 L290.0 746.1 L288.7 748.9 L291.3 748.8 L289.6 749.6 L288.8 750.2 L285.9 751.1 L291.9 750.8 L288.5 751.8 L292.7 751.7 L288.3 752.8 L295.3 752.3 L287.8 753.9 L292.0 753.8 L286.8 755.1 L291.2 755.0 L293.9 755.1 L293.1 755.7 L294.0 756.1 L292.3 756.9 L290.6 757.6 L293.0 757.8 L294.3 758.1 L294.2 758.6 L289.4 759.8 L294.5 759.6 L289.9 760.8 L292.5 760.9 L291.4 761.6 L287.8 763.1 L292.5 762.4 L286.2 765.4 L286.8 765.8 L293.0 763.8 L294.3 763.8 L293.4 764.8 L294.6 764.8 L296.1 764.8 L292.8 766.6 L290.1 768.3 L295.0 766.9 L292.9 768.3 L294.6 768.1 L293.3 769.2 L294.0 769.5 L292.9 770.5 L292.5 771.2 L293.9 771.2 L293.2 772.0 L295.7 771.6 L294.3 772.9 L298.8 770.9 L295.5 773.6 L297.2 773.0 L296.3 774.3 L297.5 774.1 L297.6 774.6 L297.4 775.4 L298.3 775.4 L297.6 776.5 L301.4 774.6 L299.3 776.6 L297.8 778.3 L300.5 776.6 L298.1 784.5 L301.0 783.1 L300.8 777.0 L303.9 783.5 L303.5 781.0 L304.1 781.1 L305.2 782.4 L304.0 777.8 L304.9 778.6 L306.0 778.5 L303.8 775.0 L304.2 775.0 L304.5 774.8 L305.2 774.5 L302.6 773.3 L304.8 773.3 L303.9 772.5 L307.3 772.9 L304.7 771.7 L307.6 771.9 L306.3 771.0 L305.2 770.2 L308.3 770.5 L308.1 769.9 L306.7 769.0 L309.7 769.2 L310.9 769.0 L304.5 766.8 L310.1 767.7 L304.5 765.8 L309.1 766.4 L311.1 766.4 L311.0 765.8 L311.3 765.4 L310.6 764.7 L312.4 764.6 L308.9 763.2 L315.2 764.2 L307.0 761.6 L310.7 762.0 L307.8 760.8 L310.3 760.9 L309.6 760.1 L308.6 759.4 L313.3 760.0 L309.7 758.6 L309.1 757.9 L310.1 757.6 L311.4 757.4 L310.5 756.7 L308.3 755.6 L309.6 755.4 L309.5 754.8 L309.1 754.2 L307.7 753.3 L309.5 753.2 L305.7 751.7 L310.8 752.5 L310.6 751.9 L308.4 750.8 L308.0 750.2 L305.3 749.0 L309.1 749.4 L311.9 749.6 L307.0 747.8 L312.2 748.6 L309.6 747.4 L315.0 748.2 L312.4 747.0 L314.1 746.9 L311.3 745.7 L311.4 745.2 L310.3 744.4 L315.5 745.1 L311.8 743.7 L312.9 743.4 L310.4 742.3 L313.6 742.5 L311.5 741.5 L314.3 741.7 L317.0 741.8 L313.5 740.4 L312.9 739.7 L315.7 739.9 L315.4 739.3 L314.1 738.4 L312.5 737.5 L316.5 738.0 L317.3 737.6 L317.2 737.2 L319.4 737.4 L317.7 736.6 L317.5 736.1 L313.6 734.0 L315.2 733.9 L314.5 732.9 L313.2 731.4 L316.2 732.0 L314.6 730.0 L316.8 730.9 L316.5 728.6 L318.0 730.5 L318.0 732.0 L318.7 731.1 L318.3 732.2 L319.7 731.1 L322.4 729.2 L319.1 733.2 L321.4 731.8 L322.8 731.4 L319.0 735.5 L321.5 734.1 L322.2 734.3 L324.2 733.1 L321.1 737.2 L323.2 735.8 L324.7 734.7 L323.2 737.9 L323.5 738.9 L324.3 738.7 L324.7 739.2 L325.2 739.5 L326.8 735.4 L327.0 736.1 L326.8 739.6 L327.1 741.6 L327.3 744.5 L328.6 737.3 L328.9 739.6 L329.5 738.4 L330.0 739.8 L330.5 738.7 L331.3 741.3 L331.9 740.8 L333.0 743.8 L333.3 741.5 L335.1 747.2 L335.3 744.2 L335.8 742.9 L335.8 740.1 L337.0 742.6 L336.5 739.1 L337.8 741.4 L337.7 739.5 L339.6 743.3 L338.7 739.4 L339.7 740.3 L341.1 742.3 L340.5 739.6 L340.5 738.2 L339.3 734.1 L341.4 737.5 L343.0 739.7 L342.0 736.2 L341.9 734.8 L343.5 736.9 L345.6 740.0 L343.5 734.4 L343.1 732.3 L342.9 730.5 L344.3 732.2 L342.9 728.2 L344.7 730.6 L345.4 730.7 L349.3 737.3 L346.1 729.6 L348.9 734.1 L348.7 732.4 L348.2 730.2 L350.6 733.9 L351.4 734.4 L349.5 729.3 L349.4 727.9 L350.0 727.9 L351.0 728.8 L350.9 727.4 L350.7 725.9 L351.0 725.4 L352.7 727.7 L351.8 724.6 L354.0 728.1 L356.6 732.2 L356.0 729.8 L356.1 728.7 L355.4 726.2 L355.9 726.2 L359.1 731.4 L358.4 728.9 L357.8 726.4 L358.1 725.9 L359.7 727.8 L362.8 733.0 L361.0 728.1 L357.8 720.7 L360.2 724.4 L360.9 724.5 L358.6 718.8 L360.3 721.1 L362.7 724.6 L360.3 718.7 L359.8 716.5 L362.3 720.3 L364.9 724.6 L363.5 720.5 L365.7 723.8 L366.6 724.5 L366.8 723.7 L367.4 723.7 L365.8 719.4 L371.7 729.9 L369.1 723.7 L371.8 727.7 L370.3 723.7 L369.8 721.6 L369.2 719.5 L370.2 720.3 L372.0 722.7 L371.5 720.4 L374.9 726.0 L373.3 721.8 L373.9 721.9 L376.5 725.8 L375.2 722.1 L372.4 715.5 L376.3 722.1 L373.3 715.0 L373.7 714.6 L376.7 719.6 L375.8 716.6 L373.6 711.0 L377.1 717.0 L380.3 722.5 L375.1 710.4 L376.8 712.8 L376.5 711.0 L378.9 715.0 L378.9 713.7 L379.6 714.0 L378.6 710.4 L381.3 715.2 L381.2 713.6 L384.6 720.3 L382.4 713.8 L381.1 709.6 L381.8 709.9 L383.7 713.0 L383.8 711.9 L384.3 711.9 L387.3 717.7 L386.7 715.0 L387.0 714.4 L387.0 713.0 L387.8 713.7 L390.2 718.3 L391.0 718.9 L390.8 717.2 L390.4 714.8 L390.0 712.4 L391.9 715.9 L390.9 712.0 L391.1 711.0 L389.6 705.5 L391.5 709.1 L391.3 707.1 L391.7 706.8 L392.1 706.4 L394.8 712.3 L395.3 712.3 L395.7 712.0 L396.2 711.7 L396.6 711.5 L397.2 711.7 L398.0 712.5 L397.1 708.2 L397.8 708.6 L398.6 709.5 L399.4 710.6 L400.0 710.7 L399.8 708.4 L399.5 705.6 L400.8 708.2 L400.1 704.1 L401.5 707.1 L402.7 709.3 L401.1 702.1 L404.1 710.6 L402.9 704.5 L402.5 701.3 L403.4 702.6 L403.4 701.0 L405.7 707.0 L406.3 707.1 L407.0 707.9 L407.4 707.5 L408.2 708.2 L407.7 705.0 L407.3 701.9 L408.9 705.3 L409.0 703.9 L409.9 705.0 L410.0 703.7 L409.6 701.1 L411.0 703.6 L410.0 699.5 L411.1 701.1 L411.0 699.6 L411.8 700.2 L411.5 698.2 L412.7 699.8 L414.4 702.6 L413.0 697.9 L416.1 704.1 L416.9 704.7 L417.0 703.8 L416.8 701.9 L419.8 708.0 L418.4 703.0 L419.5 704.4 L420.8 706.3 L419.0 700.4 L420.8 703.5 L419.4 698.7 L421.4 702.5 L420.0 697.3 L420.4 697.0 L421.8 699.1 L422.2 698.8 L422.3 697.5 L424.4 702.2 L423.1 696.7 L426.3 704.9 L427.0 705.8 L426.4 702.4 L426.6 701.5 L427.3 702.7 L426.2 695.1 L427.5 699.5 L428.6 703.6 L428.3 698.4 L429.0 700.9 L429.5 701.8 L430.0 703.0 L430.2 700.8 L430.6 698.8 L431.2 702.1 L431.5 698.7 L431.8 697.2 L432.8 703.0 L432.6 696.9 L433.2 697.4 L433.4 695.8 L434.6 699.5 L434.0 694.6 L435.5 698.7 L435.5 696.4 L438.7 704.8 L437.9 700.1 L438.0 698.2 L438.9 698.7 L438.7 696.4 L440.6 698.6 L442.4 700.4 L439.9 694.8 L440.1 694.4 L442.6 697.9 L441.8 695.8 L443.7 698.1 L442.6 695.6 L444.1 697.1 L440.3 690.4 L444.3 695.7 L444.2 694.9 L443.8 693.4 L445.3 694.9 L444.5 693.0 L441.6 688.2 L445.2 692.4 L445.6 692.2 L446.0 691.9 L451.5 698.5 L448.5 693.6 L446.5 690.3 L450.4 694.5 L451.1 694.6 L447.9 689.6 L450.1 691.8 L452.1 693.5 L451.7 692.1 L445.4 683.2 L447.1 684.6 L450.5 688.1 L448.5 684.7 L449.4 685.1 L453.7 689.8 L448.8 682.5 L451.7 685.4 L451.4 684.1 L448.1 679.0 L451.3 682.3 L453.4 684.1 L454.3 684.3 L453.5 682.5 L453.2 681.1 L455.0 682.6 L452.5 678.2 L453.3 678.4 L454.8 679.5 L457.1 681.6 L460.1 684.8 L460.9 685.0 L456.2 677.4 L458.3 679.4 L460.7 681.9 L462.5 683.6 L462.4 682.4 L463.5 683.1 L458.7 674.8 L460.5 676.4 L460.6 675.5 L461.4 675.6 L464.6 679.7 L464.6 678.6 L464.7 677.7 L463.4 674.7 L463.5 673.9 L466.1 677.5 L463.3 671.6 L466.9 677.0 L464.2 671.2 L466.6 674.5 L466.5 673.3 L468.9 676.7 L472.0 681.4 L468.6 674.3 L471.3 678.2 L471.2 677.1 L470.6 675.0 L470.3 673.4 L470.4 672.6 L472.1 674.6 L472.0 673.3 L473.2 674.7 L472.5 672.2 L471.5 669.2 L475.2 675.4 L474.9 673.7 L475.8 674.3 L476.0 673.6 L476.8 674.2 L476.8 673.0 L477.2 672.7 L478.9 674.9 L478.9 673.8 L478.5 671.9 L479.7 673.2 L478.9 670.4 L478.4 668.3 L480.1 670.6 L480.3 669.8 L479.2 666.4 L480.2 667.3 L481.3 668.3 L481.7 667.9 L481.1 665.6 L483.1 668.5 L482.7 666.6 L483.1 666.2 L484.7 668.2 L485.7 669.1 L484.8 666.1 L485.1 665.5 L487.0 668.2 L486.5 665.9 L486.6 665.1 L487.5 665.6 L487.3 664.1 L489.7 667.9 L488.7 664.5 L490.0 666.0 L491.0 667.0 L490.8 665.3 L492.3 667.3 L492.7 666.8 L493.8 668.0 L493.5 666.2 L492.6 663.2 L494.1 665.1 L494.3 664.2 L493.7 662.0 L494.3 662.0 L495.1 662.4 L495.3 661.7 L495.8 661.6 L496.1 661.0 L497.6 662.8 L497.1 660.7 L498.2 661.9 L499.1 662.4 L499.4 662.0 L500.9 663.8 L501.2 663.4 L501.1 661.9 L502.5 663.6 L501.6 660.8 L502.8 661.9 L501.9 659.0 L505.0 664.0 L503.0 658.9 L503.3 658.4 L503.7 658.1 L504.4 658.5 L505.5 659.4 L505.6 658.5 L506.9 659.9 L505.4 655.8 L507.0 658.0 L508.1 659.0 L506.9 655.4 L508.8 658.1 L507.5 654.4 L508.4 655.1 L509.1 655.4 L509.3 654.5 L509.5 653.8 L510.3 654.2 L510.7 654.0 L510.7 652.9 L511.7 653.6 L511.3 651.8 L513.5 655.1 L513.5 653.9 L513.6 653.0 L513.8 652.2 L515.1 653.8 L515.2 652.7 L516.5 654.2 L516.8 653.8 L518.2 655.4 L518.4 654.6 L518.4 653.6 L517.8 651.1 L519.1 652.6 L518.9 651.2 L518.5 649.2 L519.7 650.4 L520.3 650.5 L521.5 651.7 L522.6 652.8 L520.5 647.4 L521.9 649.1 L522.3 648.9 L523.6 650.4 L522.4 646.8 L524.4 649.7 L522.8 645.3 L524.5 647.6 L526.0 649.5 L524.7 645.8 L527.2 649.7 L527.3 648.7 L527.6 648.1 L528.0 647.9 L528.3 647.2 L529.8 649.1 L528.2 644.9 L529.2 645.8 L529.2 644.6 L529.9 644.8 L530.2 644.3 L530.3 643.3 L532.8 647.3 L530.4 641.4 L531.4 642.2 L531.7 641.7 L532.5 642.0 L532.5 641.0 L532.8 640.4 L535.3 644.4 L534.7 641.9 L535.0 641.5 L536.3 643.0 L535.8 640.8 L536.2 640.6 L537.6 642.1 L537.4 640.8 L538.4 641.5 L539.1 641.8 L536.5 635.7 L539.4 640.1 L538.2 636.8 L538.8 636.8 L540.5 639.0 L541.0 638.9 L541.7 639.2 L543.1 640.8 L542.9 639.2 L543.5 639.3 L544.0 639.2 L543.0 636.2 L545.4 639.8 L546.4 640.6 L546.2 639.1 L545.8 637.1 L547.1 638.6 L544.4 632.3 L547.6 637.4 L547.8 636.6 L547.4 634.9 L547.2 633.4 L547.8 633.4 L547.9 632.6 L550.4 636.1 L548.9 632.2 L549.2 631.7 L550.1 632.4 L551.5 634.0 L549.8 629.5 L551.9 632.6 L552.0 631.6 L553.5 633.5 L553.0 631.4 L553.3 630.8 L554.3 631.7 L556.1 634.1 L557.2 635.2 L557.1 633.8 L556.0 630.6 L558.1 633.7 L558.9 634.2 L559.4 633.9 L558.0 630.1 L559.9 632.9 L559.6 631.2 L560.1 630.9 L561.1 631.8 L561.1 630.8 L560.8 629.0 L561.2 628.7 L562.1 629.5 L562.7 629.5 L562.7 628.3 L564.0 629.9 L563.5 627.7 L564.3 628.2 L564.2 626.9 L563.5 624.3 L564.9 626.1 L564.9 624.9 L565.3 624.4 L565.7 624.1 L566.1 624.0 L567.2 625.1 L568.3 626.2 L567.2 622.7 L568.4 624.1 L569.9 626.2 L570.4 626.2 L571.9 628.3 L571.5 626.0 L573.0 628.2 L571.7 624.0 L572.4 624.2 L573.7 626.1 L573.8 624.9 L574.5 625.1 L574.1 622.8 L575.6 625.2 L576.0 624.7 L576.4 624.3 L575.9 621.8 L576.6 622.1 L578.2 624.4 L576.7 619.3 L578.0 621.1 L580.6 626.1 L578.7 619.9 L581.1 624.6 L581.1 623.2 L580.4 619.9 L581.8 622.0 L582.5 622.2 L582.1 619.9 L583.4 621.7 L583.3 620.0 L585.1 623.0 L583.8 618.2 L584.2 617.7 L585.0 618.4 L585.4 617.9 L585.4 616.5 L587.0 619.1 L586.5 616.4 L587.5 617.5 L588.3 618.2 L588.6 617.4 L589.7 618.9 L589.4 616.7 L591.2 619.8 L591.2 618.4 L590.4 614.9 L590.7 614.3 L592.3 617.0 L593.1 617.8 L593.1 616.2 L592.5 613.2 L593.6 614.6 L594.0 614.5 L595.8 617.8 L594.7 613.5 L596.1 615.7 L596.5 615.5 L597.0 615.3 L597.7 615.8 L597.4 613.7 L598.2 614.6 L599.7 617.1 L598.2 612.1 L599.2 613.4 L599.3 612.4 L599.6 611.9 L599.6 610.7 L600.5 611.8 L601.9 614.2 L600.9 610.5 L602.8 613.9 L600.5 607.1 L601.4 608.5 L602.0 608.7 L602.4 608.7 L602.1 607.0 L604.5 611.7 L603.2 607.0 L606.3 612.5 L604.8 607.5 L606.9 610.5 L608.0 611.5 L607.1 608.4 L606.5 605.8 L607.7 607.1 L610.1 610.5 L610.3 609.9 L610.1 608.4 L610.7 608.5 L611.7 609.4 L612.5 609.9 L612.7 609.2 L612.8 608.5 L613.3 608.4 L612.4 605.9 L612.9 605.9 L614.0 607.2 L614.7 607.4 L615.2 607.7 L614.5 605.3 L614.0 603.5 L616.6 607.7 L616.5 606.5 L617.0 606.6 L615.9 603.1 L617.6 605.8 L616.9 603.0 L617.9 604.1 L618.9 605.3 L618.4 602.5 L619.3 603.6 L620.1 604.1 L619.1 599.2 L619.9 599.6 L621.0 601.2 L621.9 602.0 L621.5 598.0 L623.2 601.7 L624.3 604.6 L624.0 601.7 L623.9 599.1 L624.8 601.0 L624.8 599.0 L625.3 599.0 L625.7 598.8 L626.0 597.8 L626.8 599.7 L627.3 599.8 L627.6 599.4 L628.5 601.9 L628.9 601.3 L629.6 602.6 L629.4 598.5 L630.8 604.4 L631.1 603.9 L631.1 600.1 L631.8 601.5 L632.1 600.5 L632.7 601.1 L633.4 602.7 L633.9 603.1 L634.1 599.9 L634.8 602.2 L635.4 602.4 L635.9 602.4 L636.1 600.0 L636.7 600.2 L637.4 602.6 L638.1 603.8 L638.2 600.4 L638.9 601.4 L639.6 604.0 L640.0 602.1 L640.4 600.7 L641.0 601.6 L641.3 599.3 L641.9 600.2 L642.4 599.7 L642.5 594.8 L643.7 602.4 L644.0 599.4 L644.6 600.4 L645.2 601.1 L646.0 603.5 L646.2 600.1 L646.7 599.1 L647.6 603.3 L648.1 603.1 L648.4 600.5 L649.1 601.9 L649.8 603.2 L649.9 598.8 L650.4 598.3 L650.9 598.0 L651.6 599.9 L651.7 595.9 L652.6 598.6 L652.9 596.6 L653.5 597.0 L654.3 599.4 L654.5 596.5 L655.4 599.2 L656.2 601.5 L656.3 598.1 L657.1 599.9 L657.5 598.9 L658.1 599.2 L658.6 599.6 L658.5 595.5 L659.5 598.5 L660.0 598.8 L660.1 596.0 L660.9 598.3 L661.2 596.6 L661.7 596.9 L662.4 598.0 L663.0 598.5 L662.9 594.2 L663.6 595.7 L664.2 596.0 L664.8 596.2 L665.4 596.7 L665.7 595.4 L666.2 595.2 L666.9 596.2 L667.6 597.2 L667.9 596.0 L668.1 594.1 L669.2 597.2 L669.2 594.0 L670.0 595.5 L670.5 595.2 L671.2 596.2 L671.4 594.1 L671.8 593.4 L672.5 594.0 L673.2 595.3 L673.6 593.9 L674.6 597.0 L675.1 596.8 L675.7 596.9 L676.5 598.2 L676.8 596.8 L677.8 599.9 L678.2 599.1 L679.2 602.0 L678.7 595.6 L679.3 595.8 L679.9 595.8 L680.4 596.0 L681.0 596.4 L681.5 596.1 L682.1 596.4 L682.9 598.0 L682.9 594.9 L683.6 596.2 L684.4 597.8 L684.4 594.3 L685.4 597.7 L685.6 595.2 L686.3 597.1 L686.6 595.7 L686.9 594.0 L687.8 596.5 L688.4 597.6 L688.7 596.5 L688.9 594.3 L689.9 598.2 L689.6 592.2 L691.0 599.0 L690.9 594.6 L691.3 593.9 L692.3 598.5 L692.5 596.1 L692.8 595.6 L693.3 595.5 L693.6 594.6 L694.1 595.0 L694.4 594.1 L695.1 596.8 L695.5 595.9 L696.0 596.9 L696.1 594.2 L697.0 597.6 L697.5 595.9 L698.0 594.5 L698.6 594.5 L699.3 595.6 L699.9 595.8 L700.5 595.4 L701.1 595.4 L701.7 597.8 L702.2 594.9 L702.7 593.1 L703.2 593.1 L703.8 594.8 L704.4 595.1 L704.9 597.0 L705.4 593.7 L705.9 593.8 L706.5 594.3 L707.0 592.6 L707.5 591.5 L708.0 592.3 L708.5 590.8 L709.0 590.8 L709.5 591.5 L710.1 590.1 L710.5 591.1 L710.9 594.5 L711.6 588.8 L711.9 592.3 L712.2 595.5 L712.9 591.0 L713.3 591.6 L713.8 591.3 L714.0 595.5 L714.5 594.3 L714.9 596.1 L715.4 593.3 L715.9 593.5 L716.3 594.1 L716.8 592.5 L717.2 591.9 L717.6 591.3 L717.9 593.8 L718.4 593.2 L718.8 592.1 L719.2 591.9 L719.6 593.9 L720.1 590.7 L720.8 590.2 L721.4 592.0 L722.1 590.7 L722.7 591.7 L723.3 592.3 L723.9 592.3 L724.4 592.3 L725.0 592.6 L725.6 591.7 L726.2 592.0 L726.9 590.7 L727.5 590.1 L727.8 591.1 L728.2 592.3 L728.7 591.9 L728.8 595.0 L729.4 593.6 L729.6 595.6 L730.2 594.4 L730.6 595.2 L730.9 598.7 L731.6 593.1 L732.0 596.4 L732.4 596.5 L732.7 592.5 L733.2 593.9 L733.1 590.6 L734.0 594.3 L734.4 592.4 L735.1 594.2 L735.2 589.6 L736.1 593.8 L736.6 592.8 L736.8 590.9 L737.0 589.6 L737.5 590.6 L738.5 593.3 L739.0 593.5 L739.0 592.3 L739.3 592.1 L741.7 594.9 L740.6 592.4 L742.5 593.5 L744.3 593.9 L745.2 593.4 L742.4 590.7 L744.1 590.7 L743.7 589.4 L744.8 589.5 L743.5 588.6 L743.9 588.3 L743.6 587.8 L744.3 587.7 L744.3 587.3 L744.9 587.1 L743.7 586.3 L744.2 586.1 L744.3 585.7 L744.5 585.3 L745.1 585.0 L744.4 584.4 L745.6 584.3 L745.0 583.7 L745.9 583.4 L745.0 582.7 L745.4 582.4 L744.6 581.7 L745.6 581.4 L745.7 581.0 L746.0 580.5 L744.9 579.8 L745.4 579.4 L745.7 578.9 L745.1 578.3 L745.3 577.8 L746.4 577.5 L746.4 577.0 L745.8 576.3 L745.9 575.8 L746.0 575.3 L745.7 574.7 L746.2 574.2 L746.3 573.6 L746.6 573.1 L746.2 572.5 L745.0 571.7 L746.0 571.3 L745.1 570.5 L746.4 570.1 L746.6 569.6 L746.5 569.0 L746.7 568.4 L746.2 567.7 L746.8 567.2 L746.8 566.6 L746.8 566.0 L746.8 565.3 L747.2 564.8 L747.4 564.2 L748.9 563.9 L747.7 563.0 L748.6 562.5 L748.2 561.8 L747.9 561.1 L748.7 560.6 L748.2 560.1 L748.5 559.7 L748.1 559.2 L748.8 558.9 L748.4 558.4 L748.7 558.0 L748.3 557.4 L748.5 557.0 L748.5 556.5 L748.6 556.1 L748.6 555.6 L748.3 555.0 L748.8 554.7 L749.2 554.3 L749.2 553.8 L749.1 553.3 L749.6 552.8 L748.5 552.1 L750.1 552.0 L749.3 551.3 L750.5 551.0 L749.8 550.3 L750.1 549.9 L750.2 549.4 L750.1 548.9 L750.8 548.5 L750.8 547.9 L750.8 547.4 L750.7 546.9 L751.0 546.4 L750.5 545.8 L752.1 545.6 L752.3 545.1 L752.2 544.5 L751.6 543.8 L752.0 543.4 L752.4 542.9 L752.6 542.4 L752.4 541.8 L752.5 541.3 L752.6 540.8 L753.2 540.4 L752.7 539.7 L752.8 539.2 L752.9 538.7 L752.8 538.1 L753.2 537.6 L752.5 536.9 L753.7 536.6 L753.9 536.1 L755.2 535.9 L755.3 535.4 L754.3 534.6 L755.2 534.2 L755.6 533.8 L755.5 533.2 L756.0 532.8 L755.6 532.1 L755.4 531.6 L756.5 531.3 L755.9 530.6 L755.5 530.0 L756.5 529.6 L756.1 529.0 L756.6 528.6 L756.7 528.1 L756.8 527.6 L756.1 526.9 L757.2 526.6 L756.8 526.0 L757.2 525.6 L756.9 525.0 L757.0 524.5 L756.6 523.9 L756.5 523.4 L757.6 523.1 L757.3 522.5 L757.4 522.1 L758.0 521.7 L757.5 521.1 L757.9 520.7 L758.4 520.3 L758.3 519.8 L758.4 519.4 L757.7 518.7 L758.3 518.3 L759.7 518.1 L759.5 517.5 L758.6 516.7 L759.0 516.2 L759.5 515.8 L759.2 515.1 L759.7 514.7 L759.5 514.1 L759.9 513.6 L759.4 513.0 L760.3 512.6 L760.2 512.1 L760.0 511.5 L760.5 511.1 L760.1 510.4 L760.7 510.0 L761.3 509.7 L761.4 509.1 L761.4 508.6 L761.1 508.0 L760.4 507.3 L760.7 506.8 L761.5 506.5 L761.6 506.0 L761.7 505.5 L762.0 505.1 L761.1 504.3 L762.9 504.3 L762.6 503.7 L762.6 503.2 L762.5 502.6 L762.4 502.0 L763.0 501.7 L762.4 501.0 L762.0 500.4 L762.2 499.9 L762.8 499.6 L763.8 499.4 L763.4 498.7 L764.4 498.5 L763.3 497.7 L763.4 497.2 L764.2 496.9 L763.8 496.3 L764.1 495.9 L764.4 495.4 L764.1 494.8 L765.1 494.6 L765.9 494.4 L765.1 493.6 L765.1 493.1 L764.6 492.5 L764.8 492.0 L766.0 491.8 L766.1 491.3 L766.8 491.0 L766.4 490.4 L766.1 489.8 L766.0 489.3 L766.4 488.9 L766.7 488.5 L766.0 487.7 L766.4 487.4 L766.8 487.0 L767.0 486.5 L767.6 486.2 L766.6 485.4 L767.0 485.0 L767.0 484.5 L766.5 483.8 L767.6 483.5 L767.8 483.1 L768.2 482.7 L767.9 482.1 L769.2 481.9 L767.8 481.0 L768.1 480.5 L768.6 480.1 L768.8 479.7 L768.8 479.2 L769.3 478.8 L769.6 478.3 L769.3 477.7 L768.4 477.0 L769.5 476.7 L768.9 476.1 L769.3 475.6 L770.7 475.5 L769.5 474.7 L769.8 474.3 L770.1 473.8 L769.8 473.2 L770.7 473.0 L770.7 472.4 L771.1 472.0 L769.9 471.2 L770.8 470.9 L772.2 470.8 L771.3 470.0 L771.0 469.4 L771.5 469.1 L772.0 468.7 L771.6 468.1 L771.0 467.4 L771.9 467.1 L772.0 466.6 L771.4 466.0 L772.7 465.8 L772.9 465.4 L773.1 464.9 L772.7 464.2 L772.6 463.7 L772.8 463.2 L773.3 462.9 L773.0 462.3 L773.9 462.0 L774.5 461.7 L774.3 461.1 L773.9 460.4 L774.4 460.0 L774.6 459.6 L774.5 459.0 L774.6 458.5 L775.0 458.1 L775.2 457.6 L774.5 456.9 L774.8 456.4 L775.4 456.1 L774.7 455.3 L775.4 455.0 L775.6 454.5 L775.7 454.0 L776.0 453.5 L776.0 453.0 L776.0 452.4 L776.6 452.1 L777.2 451.8 L777.4 451.3 L777.2 450.7 L777.9 450.5 L777.9 450.0 L777.5 449.3 L777.8 448.9 L777.7 448.3 L778.4 448.1 L778.1 447.4 L779.0 447.3 L779.8 447.1 L778.7 446.1 L779.2 445.8 L779.1 445.2 L779.4 444.8 L779.8 444.5 L779.8 444.0 L780.2 443.6 L781.2 443.5 L780.4 442.6 L780.8 442.3 L780.7 441.7 L781.4 441.5 L782.0 441.2 L781.7 440.5 L782.3 440.3 L781.8 439.5 L781.8 438.9 L782.7 438.8 L782.9 438.4 L782.9 437.8 L783.2 437.4 L783.8 437.1 L783.3 436.4 L783.7 436.0 L784.0 435.6 L783.3 434.7 L784.4 434.6 L784.5 434.1 L785.4 434.0 L784.9 433.2 L786.0 433.2 L785.2 432.2 L784.7 431.5 L785.4 431.2 L786.0 430.9 L785.9 430.3 L785.8 429.7 L786.1 429.3 L786.1 428.7 L786.0 428.1 L786.8 427.9 L787.8 427.8 L787.9 427.2 L787.4 426.4 L787.4 425.9 L788.1 425.6 L788.8 425.4 L788.7 424.7 L789.2 424.4 L790.3 424.3 L789.5 423.4 L790.5 423.2 L790.9 422.8 L791.0 422.3 L791.1 421.7 L791.3 421.2 L791.3 420.6 L791.5 420.1 L791.6 419.5 L791.1 418.7 L792.4 418.7 L792.4 418.1 L792.7 417.7 L791.9 416.8 L792.6 416.6 L792.8 416.2 L792.7 415.6 L792.5 415.0 L792.7 414.5 L793.2 414.2 L793.6 413.8 L795.7 414.2 L794.5 413.1 L795.0 412.8 L795.4 412.4 L794.7 411.5 L796.1 411.6 L795.6 410.8 L796.2 410.5 L795.8 409.7 L797.0 409.7 L797.2 409.2 L796.8 408.4 L797.5 408.1 L797.0 407.3 L798.1 407.2 L798.1 406.6 L798.5 406.2 L798.3 405.5 L799.4 405.4 L798.8 404.6 L798.9 404.0 L799.8 403.8 L799.0 402.8 L800.2 402.8 L800.2 402.2 L799.9 401.4 L800.4 401.0 L798.4 399.5 L802.0 400.6 L801.2 399.6 L800.6 398.7 L803.9 399.6 L802.9 398.6 L804.6 398.8 L803.7 397.8 L803.2 396.9 L804.6 397.0 L805.4 396.7 L803.9 395.4 L806.2 395.9 L805.8 395.1 L805.5 394.4 L805.8 393.9 L805.4 393.2 L808.5 394.1 L804.3 391.4 L805.1 391.2 L806.1 391.1 L806.8 390.9 L807.1 390.5 L806.3 389.5 L807.4 389.5 L804.5 387.5 L805.5 387.4 L805.8 387.0 L805.4 386.2 L805.8 385.9 L805.9 385.4 L807.6 385.7 L807.6 385.1 L809.7 385.6 L806.9 383.7 L807.6 383.6 L810.5 384.5 L810.3 383.9 L807.2 381.8 L810.3 382.9 L812.7 383.6 L810.5 382.0 L811.4 382.0 L812.7 382.2 L814.3 382.5 L811.1 380.4 L812.6 380.7 L814.3 381.1 L814.8 381.0 L811.1 378.6 L812.9 379.1 L810.4 377.5 L816.2 379.5 L816.2 378.6 L813.0 376.3 L813.2 375.6 L816.2 376.3 L813.7 374.4 L814.9 374.3 L815.2 373.8 L813.9 372.5 L816.9 373.3 L815.2 371.9 L813.2 370.4 L815.0 370.7 L813.9 369.6 L818.6 371.5 L813.4 368.3 L815.9 369.1 L816.6 369.0 L817.2 368.8 L816.8 368.1 L816.8 367.7 L818.7 368.2 L817.9 367.4 L814.9 365.2 L818.2 366.6 L818.9 366.6 L815.8 364.2 L817.5 364.8 L818.1 364.7 L818.6 364.5 L817.5 363.2 L817.4 362.6 L820.2 364.0 L817.2 361.3 L815.9 359.7 L818.0 360.6 L818.9 360.6 L818.5 359.6 L819.3 359.5 L819.9 359.3 L821.7 359.9 L820.0 358.0 L820.8 358.1 L821.2 357.8 L823.1 358.8 L822.1 357.4 L823.1 357.6 L820.7 354.9 L823.9 357.1 L824.1 356.5 L822.8 354.8 L823.4 354.6 L822.5 353.2 L822.3 352.3 L823.8 353.0 L826.0 354.3 L826.7 354.3 L825.8 352.8 L826.0 352.2 L826.5 352.0 L828.2 352.8 L823.7 347.9 L828.1 351.3 L826.5 349.0 L826.7 348.5 L828.9 349.8 L828.0 348.3 L829.1 348.6 L831.6 350.3 L829.2 347.1 L832.8 350.0 L832.5 349.0 L831.6 347.2 L833.6 348.6 L832.7 346.9 L831.9 345.2 L832.8 345.4 L834.3 346.2 L834.4 345.5 L834.2 344.6 L836.3 346.0 L836.9 346.0 L835.7 343.9 L834.4 341.6 L836.1 342.8 L837.5 343.5 L835.8 340.8 L837.0 341.4 L839.3 343.3 L839.6 342.8 L839.4 341.8 L839.2 340.8 L839.0 339.9 L839.8 340.1 L841.3 341.0 L841.3 340.4 L842.4 340.9 L841.8 339.5 L841.7 338.7 L841.5 337.4 L841.5 336.6 L841.6 335.8 L842.0 335.4 L843.5 336.5 L841.7 333.1 L844.9 336.5 L843.7 334.0 L844.8 334.5 L846.1 335.5 L846.2 334.7 L847.1 335.0 L847.9 335.2 L848.0 334.5 L849.1 335.2 L849.1 334.2 L849.6 334.1 L850.0 333.7 L850.1 332.8 L850.3 332.2 L851.5 333.1 L852.3 333.6 L851.9 331.9 L851.9 330.9 L851.7 329.6 L853.5 331.7 L852.4 328.8 L854.4 331.3 L854.3 330.0 L854.8 329.9 L855.2 329.6 L857.1 332.0 L856.0 329.1 L857.2 330.2 L856.8 328.5 L857.6 328.8 L858.4 329.5 L858.6 328.8 L857.3 325.1 L859.2 327.8 L859.8 327.9 L859.4 326.0 L860.8 327.7 L861.4 327.9 L860.5 325.0 L861.5 325.9 L862.7 327.5 L862.7 326.3 L863.1 325.7 L863.6 325.7 L864.4 326.2 L864.3 324.5 L864.9 324.8 L865.8 325.9 L866.3 325.8 L866.5 324.6 L867.5 326.2 L868.3 327.3 L868.5 326.6 L868.1 323.3 L869.3 325.8 L869.1 323.2 L869.9 324.6 L870.1 323.4 L870.7 323.8 L870.6 321.4 L871.5 323.4 L872.3 324.7 L872.6 324.1 L873.4 325.4 L874.2 327.2 L874.0 323.4 L874.5 323.6 L875.8 328.0 L876.0 326.5 L876.0 323.8 L877.0 326.3 L877.3 325.2 L877.4 322.6 L878.6 326.3 L878.8 324.5 L879.0 322.6 L879.5 322.5 L880.7 326.0 L880.5 321.9 L880.8 320.2 L882.0 323.2 L882.4 322.4 L883.1 322.5 L884.1 324.4 L884.1 322.2 L885.3 325.5 L884.7 321.0 L885.3 321.8 L886.7 325.5 L886.4 322.2 L887.7 325.9 L888.0 325.0 L887.4 320.1 L887.8 319.9 L889.0 322.7 L888.3 317.8 L889.8 321.8 L889.4 318.2 L890.1 318.9 L890.0 316.3 L890.7 316.8 L891.6 318.6 L892.3 319.0 L892.7 318.7 L892.8 316.8 L893.9 318.9 L894.4 318.9 L895.1 319.4 L896.0 320.8 L896.2 319.5 L896.9 320.4 L897.6 320.7 L897.7 318.9 L898.2 318.8 L899.3 321.1 L900.2 322.7 L900.3 320.4 L900.3 318.2 L900.7 317.4 L901.7 319.5 L902.2 319.0 L902.8 319.4 L903.2 318.5 L903.8 319.1 L904.0 317.0 L904.3 316.0 L905.8 321.2 L905.7 317.6 L905.7 314.5 L906.7 317.3 L906.8 314.5 L907.6 316.0 L907.9 314.7 L908.7 316.3 L909.1 315.6 L909.8 317.0 L909.9 314.0 L910.9 317.7 L911.2 316.4 L911.8 317.1 L912.5 319.6 L912.6 315.3 L913.1 315.4 L913.7 317.1 L914.1 317.6 L914.5 316.2 L915.1 316.4 L915.6 316.8 L916.2 318.3 L916.7 317.0 L917.2 314.0 L917.8 314.7 L918.4 313.9 L918.8 317.5 L919.4 315.9 L920.0 313.8 L920.8 310.8 L921.1 314.2 L921.7 313.2 L922.4 312.1 L922.7 314.9 L923.1 315.9 L923.5 316.7 L923.9 317.9 L924.6 316.1 L925.0 317.1 L925.4 318.2 L926.2 316.3 L926.7 315.9 L927.0 317.8 L927.7 316.4 L928.0 317.3 L928.8 315.9 L929.2 316.5 L929.7 316.5 L929.9 318.5 L930.2 319.6 L931.1 317.0 L931.6 316.9 L931.7 319.2 L932.7 316.8 L932.7 319.4 L933.4 318.2 L934.4 315.3 L934.3 318.6 L935.2 316.5 L935.0 320.4 L935.8 318.7 L936.4 318.0 L936.7 318.8 L937.1 319.4 L937.6 319.5 L938.2 318.2 L938.7 318.4 L938.8 321.4 L939.5 319.0 L940.2 317.0 L940.7 318.1 L941.6 314.9 L941.9 317.2 L942.5 317.1 L942.8 319.1 L943.4 318.5 L943.9 318.5 L944.2 320.9 L944.6 321.5 L945.5 318.9 L946.0 319.8 L946.6 319.0 L946.7 322.1 L947.1 323.6 L948.3 319.0 L948.3 322.5 L949.1 320.5 L949.6 320.7 L950.0 321.5 L950.8 320.0 L951.0 322.5 L951.3 323.8 L951.9 323.4 L952.5 322.8 L953.0 323.3 L953.4 323.6 L954.2 321.6 L954.4 323.9 L955.2 321.5 L955.5 322.9 L955.9 324.7 L956.5 322.8 L957.0 321.9 L957.6 320.8 L958.0 321.6 L958.5 320.2 L958.9 321.3 L959.3 321.0 L959.7 323.5 L960.2 319.6 L960.6 320.3 L960.8 317.9 L961.3 319.5 L962.1 322.2 L962.8 322.3 L963.6 323.8 L963.9 320.8 L964.7 322.0 L965.3 322.2 L966.4 324.5 L967.0 324.5 L967.0 321.8 L967.2 319.9 L967.6 319.6 L968.4 320.3 L969.5 322.0 L969.4 320.0 L970.3 321.0 L970.5 320.0 L970.1 317.9 L971.3 319.5 L971.4 318.6 L971.6 318.0 L973.2 319.7 L972.7 318.1 L974.3 319.6 L974.3 318.7 L974.8 318.5 L975.7 318.9 L976.9 319.4 L975.9 317.5 L975.5 316.3 L975.9 316.1 L977.0 316.5 L977.5 316.2 L976.8 315.1 L977.5 315.1 L977.4 314.4 L978.4 314.5 L978.3 313.9 L977.6 313.0 L978.2 312.8 L979.9 312.9 L978.2 311.7 L978.2 311.1 L978.5 310.7 L978.8 310.2 L978.8 309.6 L979.0 309.0 L979.2 308.3 L979.2 307.6 L979.7 307.0 L979.3 306.1 L979.9 305.9 L979.5 305.4 L979.9 305.1 L980.0 304.7 L979.9 304.3 L980.2 303.9 L980.1 303.5 L980.0 303.0 L980.1 302.6 L979.8 302.2 L980.0 301.7 L980.3 301.3 L980.3 300.8 L980.4 300.4 L980.4 299.9 L980.2 299.4 L980.4 298.9 L980.5 298.4 L980.4 297.9 L980.4 297.4 L980.5 296.9 L980.5 296.4 L980.6 295.9 L980.3 295.3 L980.5 294.8 L980.4 294.3 L980.6 293.8 L980.9 293.2 L980.9 292.7 L980.6 292.1 L980.9 291.6 L980.6 291.0 L981.0 290.5 L981.1 290.0 L980.9 289.4 L981.1 288.9 L980.9 288.3 L980.9 287.7 L981.0 287.2 L981.0 286.6 L980.8 286.1 L981.1 285.5 L980.9 284.9 L981.2 284.4 L981.3 283.8 L981.1 283.3 L981.2 282.7 L980.9 282.2 L981.2 281.6 L981.2 281.1 L981.2 280.5 L981.2 280.0 L981.2 279.5 L981.2 279.1 L981.3 278.6 L981.2 278.1 L981.3 277.7 L981.3 277.2 L981.3 276.7 L981.4 276.3 L981.1 275.8 L981.5 275.3 L981.6 274.9 L981.4 274.4 L981.7 273.9 L981.4 273.5 L981.4 273.0 L981.6 272.5 L981.7 272.1 L981.6 271.6 L981.4 271.1 L981.8 270.7 L981.4 270.2 L982.0 269.7 L981.8 269.2 L982.0 268.8 L981.7 268.3 L981.9 267.8 L981.6 267.3 L981.7 266.8 L981.8 266.3 L981.8 265.9 L981.8 265.4 L981.8 264.9 L981.6 264.4 L981.8 263.9 L981.9 263.4 L981.9 262.9 L982.0 262.4 L982.1 261.9 L981.9 261.4 L982.3 260.9 L982.1 260.4 L981.9 259.8 L982.0 259.3 L982.2 258.8 L982.1 258.3 L982.1 257.8 L982.1 257.2 L982.2 256.7 L982.2 256.2 L982.2 255.6 L982.2 255.1 L982.6 254.5 L982.1 254.0 L982.5 253.4 L982.4 252.9 L982.4 252.3 L982.7 251.7 L982.4 251.2 L982.3 250.6 L982.4 250.0 L982.6 249.6 L982.5 249.1 L982.7 248.7 L982.4 248.2 L982.0 247.7 L982.6 247.3 L982.7 246.8 L982.8 246.4 L982.7 245.9 L982.9 245.4 L982.8 245.0 L982.7 244.5 L982.7 244.0 L982.9 243.5 L983.0 243.0 L983.0 242.5 L982.8 242.0 L982.9 241.5 L982.9 241.0 L982.9 240.5 L983.1 240.0 L982.9 239.5 L983.1 239.0 L983.0 238.5 L983.3 238.0 L983.1 237.5 L983.2 236.9 L983.1 236.4 L983.2 235.9 L983.4 235.4 L983.1 234.9 L983.1 234.3 L983.3 233.8 L983.5 233.3 L983.5 232.8 L983.1 232.2 L983.1 231.7 L983.6 231.2 L983.5 230.7 L983.5 230.1 L983.4 229.6 L983.1 229.1 L983.4 228.5 L983.8 228.0 L983.7 227.5 L983.8 227.0 L983.5 226.4 L983.8 225.9 L983.5 225.4 L983.8 224.9 L984.0 224.4 L983.7 223.8 L983.7 223.3 L983.8 222.8 L984.1 222.3 L984.0 221.7 L983.9 221.2 L983.8 220.7 L984.1 220.2 L984.3 219.7 L984.3 219.2 L984.0 218.7 L984.2 218.2 L984.1 217.7 L983.8 217.1 L984.5 216.7 L984.4 216.2 L984.0 215.7 L984.1 215.2 L984.3 214.7 L984.1 214.2 L984.2 213.7 L984.5 213.3 L984.3 212.8 L984.3 212.3 L984.4 211.8 L984.4 211.4 L984.4 210.9 L984.5 210.5 L984.4 210.0 L984.8 209.4 L984.4 208.9 L984.7 208.3 L984.5 207.7 L984.6 207.1 L984.8 206.6 L985.1 206.0 L984.7 205.4 L984.8 204.8 L985.1 204.2 L984.7 203.6 L984.6 203.0 L985.0 202.4 L984.9 201.8 L984.7 201.2 L985.1 200.7 L985.3 200.1 L984.8 199.5 L985.1 198.9 L985.0 198.3 L985.2 197.7 L985.3 197.1 L985.0 196.5 L984.9 195.9 L985.3 195.4 L985.2 194.8 L985.4 194.2 L985.4 193.6 L985.1 193.1 L985.1 192.5 L985.2 191.9 L985.5 191.4 L985.6 190.9 L985.4 190.3 L985.4 189.8 L985.4 189.2 L985.4 188.7 L985.4 188.2 L985.4 187.7 L985.6 187.2 L985.5 186.7 L985.6 186.2 L985.5 185.7 L985.6 185.2 L985.8 184.8 L985.8 184.3 L985.5 183.8 L985.6 183.4 L985.8 183.0 L985.7 182.5 L985.8 182.1 L985.8 181.7 L986.0 181.3 L985.9 181.0 L986.1 180.6 L986.0 180.2 L985.9 179.9 L985.9 179.5 L986.0 179.2 L985.8 178.9 L985.9 178.6 L985.8 178.3 L985.7 178.0 L986.1 177.8" stroke="#a82cf2" stroke-width="5.6"/>
<path d="M817 360 L819 384 L821 366 L823.5 392 L825 370 L826.5 388 L828 362" stroke="#a82cf2" stroke-width="3.6"/>
<path d="M257.3 604.1 L256.7 604.3 L256.8 604.6 L256.4 604.9 L257.1 605.4 L256.5 605.8 L256.6 606.2 L257.3 606.7 L256.2 607.1 L257.1 607.7 L257.5 608.3 L257.0 608.8 L257.2 609.4 L256.9 610.0 L256.1 610.5 L256.4 611.1 L255.3 611.6 L256.2 612.2 L255.6 612.8 L255.8 613.4 L256.7 614.0 L255.6 614.5 L255.4 615.0 L255.0 615.5 L256.1 616.0 L254.8 616.5 L254.6 617.0 L255.7 617.6 L254.9 618.0 L254.3 618.5 L256.0 619.2 L254.7 619.6 L256.1 620.2 L254.9 620.6 L254.3 621.0 L255.3 621.6 L254.9 622.1 L256.2 622.7 L255.7 623.1 L255.6 623.6 L254.9 624.1 L255.5 624.6 L254.9 625.1 L255.4 625.5 L255.7 626.0 L255.2 626.5 L255.2 627.0 L255.5 627.4 L255.0 628.1 L256.0 628.3 L255.6 629.0 L255.6 629.5 L256.4 629.7 L256.4 630.3 L256.7 630.7 L257.7 630.8 L256.5 631.9 L257.7 631.9 L257.6 632.5 L259.7 632.1 L257.8 633.6 L258.8 633.7 L259.2 634.1 L258.8 634.8 L258.3 635.6 L259.7 635.6 L258.2 636.7 L259.5 636.8 L258.2 637.8 L258.7 638.1 L258.4 638.8 L258.7 639.2 L259.7 639.5 L259.6 640.1 L259.1 640.7 L259.7 641.1 L259.6 641.7 L260.2 642.1 L259.4 642.8 L258.5 643.6 L259.5 643.9 L260.0 644.3 L261.1 644.6 L260.8 645.2 L260.4 645.9 L261.3 646.1 L261.2 646.7 L262.0 647.0 L262.2 647.4 L262.1 648.0 L262.6 648.4 L262.8 648.8 L262.5 649.5 L262.9 649.8 L263.9 649.8 L262.7 650.9 L262.5 651.6 L263.2 651.7 L263.8 651.9 L264.3 652.1 L264.4 652.6 L264.4 653.2 L264.1 653.8 L264.9 654.0 L265.4 654.4 L266.3 654.7 L266.1 655.5 L266.9 655.9 L265.8 657.1 L266.6 657.2 L267.0 657.5 L266.1 658.2 L266.1 658.7 L267.1 658.9 L267.8 659.1 L266.5 659.9 L267.5 660.2 L266.9 660.8 L267.9 661.1 L267.7 661.6 L267.8 662.1 L268.2 662.5 L268.5 663.0 L267.5 663.8 L268.4 664.1 L267.6 664.8 L268.1 665.2 L268.5 665.7 L268.4 666.3 L269.0 666.7 L269.0 667.2 L268.9 667.8 L269.0 668.4 L269.5 668.8 L268.8 669.5 L269.1 670.0 L268.5 670.7 L269.7 671.0 L268.3 671.9 L269.6 672.1 L269.3 672.8 L269.8 673.2 L271.0 673.4 L270.6 674.1 L270.0 674.8 L270.1 675.3 L271.0 675.5 L270.3 676.2 L270.6 676.7 L271.6 676.9 L270.7 677.7 L271.5 678.0 L272.2 678.2 L271.3 679.1 L271.6 679.5 L271.9 679.9 L272.4 680.3 L272.2 680.9 L271.5 681.7 L272.6 681.8 L273.1 682.2 L273.3 682.6 L272.6 683.4 L272.6 684.0 L274.3 683.9 L274.3 684.5 L273.9 685.1 L273.9 685.7 L274.9 685.9 L274.6 686.5 L274.0 687.2 L275.4 687.3 L275.3 687.8 L275.2 688.4 L275.2 689.0 L275.6 689.4 L276.3 689.7 L275.9 690.3 L275.6 690.9 L276.7 691.1 L276.8 691.6 L276.9 692.1 L275.9 692.9 L277.1 693.1 L277.7 693.4 L276.7 694.3 L277.0 694.7 L277.9 695.0 L277.7 695.6 L277.9 696.0 L277.8 696.6 L278.4 697.0 L278.3 697.5 L278.9 697.9 L278.7 698.5 L278.6 699.0 L279.0 699.4 L279.4 699.9 L280.2 700.2 L279.3 700.9 L279.6 701.4 L279.6 701.9 L278.8 702.6 L279.7 702.9 L280.0 703.3 L279.8 703.9 L281.0 704.1 L280.4 704.8 L280.4 705.3 L280.1 705.9 L280.2 706.3 L280.0 706.9 L280.4 707.3 L280.7 707.8 L280.5 708.3 L281.3 708.6 L281.1 709.2 L280.9 709.7 L280.3 710.4 L280.9 710.8 L281.8 711.0 L281.0 711.8 L281.3 712.3 L281.6 712.7 L281.4 713.3 L282.0 713.6 L281.7 714.3 L282.2 714.7 L283.0 715.0 L282.6 715.6 L282.5 716.2 L282.0 716.9 L283.3 717.0 L283.1 717.6 L284.0 717.8 L283.8 718.5 L284.5 718.7 L283.6 719.6 L283.5 720.2 L284.6 720.3 L283.6 721.2 L284.1 721.6 L284.6 721.9 L284.4 722.5 L285.2 722.8 L284.6 723.5 L284.8 724.0 L285.7 724.2 L285.2 724.9 L285.8 725.2 L286.2 725.6 L286.5 726.0 L286.5 726.5 L287.2 726.8 L287.0 727.4 L287.0 727.9 L288.0 728.1 L288.5 728.5 L288.2 729.2 L289.3 729.3 L289.1 730.0 L289.4 730.4 L288.9 731.2 L289.3 731.6 L289.5 732.1 L290.9 732.2 L290.0 733.1 L290.1 733.6 L291.0 733.8 L289.5 734.9 L290.3 735.2 L289.6 736.0 L290.5 736.2 L291.7 736.3 L290.3 737.4 L291.1 737.6 L291.1 738.2 L291.0 738.7 L292.2 738.8 L291.4 739.6 L292.5 739.7 L291.6 740.6 L292.1 740.9 L292.5 741.2 L292.7 741.6 L292.7 742.1 L293.2 742.3 L294.4 742.4 L293.3 743.7 L293.7 744.2 L293.9 744.8 L294.5 745.3 L294.3 746.1 L294.5 746.8 L294.9 747.3 L296.4 747.0 L296.1 747.9 L296.1 748.7 L296.8 748.9 L296.8 749.7 L297.7 749.6 L297.6 750.4 L299.0 749.6" stroke="#f21414" stroke-width="4.4"/>
<path d="M299.0 749.6 L298.9 750.5 L298.9 751.3 L300.0 750.1 L300.0 750.9 L299.9 754.2 L300.7 751.7 L301.3 752.2 L302.1 752.6 L302.1 751.3 L302.9 751.5 L305.7 753.8 L305.3 752.3 L304.1 750.3 L305.3 750.5 L304.5 749.0 L307.5 750.4 L305.6 748.3 L305.3 747.3 L305.1 746.4 L302.1 743.7 L304.8 744.7 L304.0 743.5 L305.2 743.5 L303.8 741.8 L305.0 741.9 L304.4 740.6 L306.2 741.2 L306.6 740.8 L310.7 743.9 L309.2 741.6 L309.2 740.9 L310.2 741.2 L310.4 740.7 L309.8 739.3 L311.4 740.4 L311.6 739.9 L309.3 736.6 L312.3 739.2 L314.1 740.3 L314.9 740.2 L317.7 741.7 L316.3 739.5 L312.6 735.9 L316.4 737.9 L314.5 736.0 L314.2 735.3 L312.7 733.6 L315.0 734.8 L315.1 734.4 L312.3 731.8 L314.8 733.1 L312.8 731.2 L313.6 731.3 L316.7 732.9 L315.2 731.3 L315.5 731.1 L313.4 729.3 L315.8 730.2 L318.1 731.0 L316.4 729.5 L316.7 729.2 L318.0 729.2 L316.5 727.9 L315.8 727.1 L318.9 727.6 L321.1 727.6 L321.8 727.1 L318.5 725.4 L321.7 725.5 L325.3 725.4 L320.6 724.0 L322.5 723.9 L323.1 723.6 L321.3 722.9 L322.0 722.5 L320.7 721.9 L320.7 721.4 L320.3 720.9 L317.3 720.0 L321.4 720.0 L318.7 719.2 L319.4 718.8 L315.3 717.8 L318.1 717.6 L318.9 717.1 L317.8 716.5 L320.4 716.1 L320.6 715.6 L321.3 715.1 L319.8 714.4 L318.2 713.7 L320.8 713.3 L320.6 712.7 L320.2 712.0 L322.2 711.6 L317.4 710.7 L322.9 710.4 L322.3 709.8 L323.6 709.3 L320.9 708.5 L320.6 707.9 L324.0 707.5 L316.7 706.4 L321.4 706.2 L319.5 705.5 L319.4 704.9 L319.0 704.3 L316.9 703.6 L319.4 703.2 L322.3 702.8 L321.9 702.2 L325.2 701.9 L322.9 701.2 L324.4 700.9 L323.7 700.3 L326.8 700.1 L325.5 699.5 L326.1 699.1 L324.5 698.5 L329.2 698.5 L323.6 697.6 L322.1 697.0 L324.0 696.8 L323.9 696.4 L323.2 696.0 L322.4 695.5 L322.8 695.3 L323.2 695.0 L321.9 693.2 L323.3 692.4 L324.0 691.9 L327.0 693.8 L324.0 690.6 L325.4 694.9 L325.1 693.2 L325.6 693.7 L327.4 696.4 L327.9 694.6 L326.2 690.4 L326.2 689.4 L325.5 687.2 L327.3 689.0 L328.2 689.4 L328.7 689.4 L330.0 685.6 L331.1 686.2 L330.3 690.3 L332.5 687.8 L333.0 688.1 L331.5 690.5 L334.4 688.3 L334.0 689.4 L334.8 689.4 L334.1 690.7 L334.9 690.7 L335.3 691.1 L336.0 691.3 L336.1 691.9 L334.7 693.8 L336.6 693.0 L334.8 695.1 L333.7 696.6 L333.9 697.2 L333.5 698.3 L334.3 698.4 L335.3 698.3 L335.1 699.2 L334.4 700.6 L335.6 700.3 L335.9 700.7 L337.2 700.3 L340.5 698.2 L340.9 698.6 L341.1 699.1 L341.2 699.7 L339.5 701.6 L340.6 701.4 L337.8 704.1 L339.3 703.6 L340.3 703.5 L338.5 705.5 L340.3 704.8 L339.3 706.2 L341.3 705.3 L339.6 707.5 L340.4 707.5 L342.0 706.8 L340.3 709.2 L341.1 709.2 L341.8 709.4 L344.0 708.0 L344.2 708.6 L341.9 712.2 L344.3 710.1 L345.1 709.9 L344.3 711.9 L345.0 711.8 L347.3 709.4 L346.3 711.6 L348.0 710.0 L348.0 710.9 L348.7 710.7 L351.4 707.4 L350.6 709.5 L351.0 709.8 L351.2 710.5 L352.0 710.0 L350.8 713.1 L351.3 713.3 L353.9 709.8 L353.4 711.7 L353.3 713.0 L353.0 714.5 L353.9 714.1 L354.2 714.6 L354.9 714.5 L352.7 719.3 L356.0 714.6 L355.4 716.8 L356.1 716.7 L357.1 716.2 L357.2 716.8 L359.2 714.5 L357.7 717.7 L358.8 716.9 L359.8 716.2 L359.1 718.2 L359.3 718.9 L360.2 718.4 L360.4 718.9 L360.8 719.2 L362.0 718.4 L363.4 717.2 L363.7 717.6 L361.8 721.6 L362.5 721.4 L365.5 717.7 L364.4 720.4 L364.5 721.2 L365.8 720.1 L366.5 720.0 L366.2 721.5 L368.0 719.5 L369.0 718.9 L369.7 718.5 L369.1 720.5 L369.2 721.5 L369.7 721.6 L368.8 724.3 L369.2 724.7 L369.7 724.8 L369.9 725.5 L370.6 725.2 L371.5 724.6 L371.7 725.2 L372.0 725.8 L373.2 724.5 L374.9 721.9 L371.9 730.0 L373.7 727.2 L375.0 725.4 L374.1 728.8 L376.2 725.1 L375.1 729.2 L376.3 727.5 L376.6 728.2 L376.7 729.3 L378.3 726.3 L379.1 725.6 L378.7 728.2 L379.4 727.5 L380.2 726.6 L380.9 726.1 L381.5 725.4 L382.2 724.9 L381.6 729.1 L383.3 724.2 L383.3 726.2 L384.0 725.3 L384.2 726.4 L384.5 728.1 L385.6 724.4 L386.0 725.4 L386.2 727.2 L386.9 726.3 L387.3 728.3 L388.0 726.5 L388.6 723.9 L388.7 727.9 L389.1 728.9 L389.4 730.9 L389.9 728.8 L390.4 728.8 L390.8 727.4 L391.3 731.4 L391.7 730.9 L392.1 727.4 L392.7 730.3 L393.1 730.0 L393.7 732.4 L394.1 731.5 L394.6 730.5 L395.0 730.1 L395.4 728.9 L396.1 731.9 L396.5 730.4 L397.0 730.7 L397.3 728.0 L397.9 729.1 L398.4 728.3 L398.9 728.3 L399.4 728.0 L399.9 728.2 L400.3 726.3 L400.8 727.1 L401.1 723.7 L401.9 727.4 L402.4 726.1 L403.0 727.7 L403.5 726.5 L404.0 725.1 L404.6 727.6 L405.3 730.0 L405.8 728.0 L406.3 726.9 L406.9 727.6 L407.4 726.7 L408.0 726.4 L408.6 729.7 L409.2 730.0 L409.7 728.8 L410.3 728.2 L410.6 734.7 L411.2 730.3 L411.6 729.9 L412.1 728.5 L412.6 727.7 L413.0 729.9 L413.5 728.8 L414.0 730.5 L414.5 728.9 L414.9 731.6 L415.4 732.3 L416.0 730.5 L416.4 732.1 L416.9 732.6 L417.7 727.6 L418.2 728.5 L418.8 727.0 L419.2 730.1 L419.8 728.3 L420.4 728.3 L421.1 724.9 L421.4 729.6 L422.0 728.1 L422.6 727.7 L423.2 727.0 L423.6 728.3 L424.0 730.8 L424.6 730.4 L425.1 731.3 L425.6 731.9 L426.2 731.2 L426.6 733.0 L427.0 735.2 L427.9 730.4 L428.4 730.6 L428.9 731.0 L429.4 732.6 L430.0 730.8 L430.6 730.7 L431.1 731.2 L431.6 730.7 L432.2 730.3 L432.5 732.5 L433.2 730.7 L433.6 731.5 L434.3 728.3 L434.6 730.7 L435.3 727.6 L435.7 729.0 L436.3 726.1 L436.7 726.2 L437.2 726.2 L437.6 726.9 L438.0 727.8 L438.3 730.3 L438.8 729.4 L439.2 732.4 L439.6 726.2 L440.0 732.7 L440.7 729.5 L441.3 732.2 L442.0 732.1 L442.6 731.2 L443.1 733.6 L443.7 732.2 L444.2 732.3 L444.7 733.5 L445.2 732.1 L445.7 733.8 L446.2 730.6 L446.6 732.0 L447.1 731.1 L447.4 726.4 L447.9 729.9 L448.4 731.8 L448.6 726.8 L449.3 731.6 L449.5 728.1 L449.8 727.9 L450.4 729.5 L450.4 725.5 L450.9 726.5 L451.4 727.1 L451.7 726.1 L452.7 728.7 L452.7 726.0 L453.4 726.6 L453.9 726.6 L454.8 727.9 L455.3 727.4 L456.1 727.9 L455.8 725.0 L456.9 727.8 L457.1 726.9 L457.2 725.6 L458.1 727.2 L458.0 725.4 L459.3 728.4 L459.2 726.5 L460.4 729.0 L459.3 723.4 L459.2 721.4 L460.9 725.7 L461.8 727.1 L461.5 724.6 L461.9 724.4 L462.3 723.7 L463.6 726.4 L463.9 725.8 L464.6 726.3 L465.2 726.7 L466.2 728.2 L466.3 726.8 L466.8 726.5 L467.3 726.3 L467.9 726.6 L468.1 725.6 L468.9 726.2 L468.6 723.7 L469.0 723.3 L470.4 725.8 L470.4 724.2 L470.9 723.9 L472.7 727.4 L471.3 721.9 L472.3 723.0 L471.9 720.3 L472.7 720.9 L473.0 720.4 L472.9 718.4 L474.5 721.4 L473.7 717.5 L474.2 717.5 L476.2 721.2 L477.7 723.9 L477.3 721.3 L477.8 721.1 L478.4 721.2 L478.9 721.0 L480.5 723.6 L480.0 720.9 L480.5 720.7 L481.8 722.6 L482.3 722.4 L482.7 721.9 L483.5 722.6 L484.2 723.1 L484.7 722.8 L484.2 720.3 L483.9 718.3 L486.0 721.9 L486.3 721.3 L485.8 719.0 L485.9 717.8 L484.9 714.4 L486.6 716.9 L486.7 715.9 L487.5 716.5 L487.2 714.8 L487.5 714.2 L488.8 715.7 L488.0 712.9 L490.5 716.9 L490.7 716.1 L491.7 717.0 L490.5 713.5 L493.2 717.7 L492.5 715.1 L494.1 717.2 L494.5 716.9 L495.7 718.2 L495.3 716.2 L495.1 714.6 L496.0 715.3 L496.0 714.1 L497.1 715.2 L497.7 715.2 L497.9 714.6 L499.0 715.6 L498.5 713.5 L500.0 715.3 L499.0 712.0 L499.1 711.1 L500.9 713.7 L500.8 712.4 L500.2 709.9 L500.3 708.9 L502.7 712.8 L503.2 712.5 L504.0 713.1 L504.9 713.9 L505.1 713.2 L504.4 710.4 L503.9 708.1 L505.2 709.8 L506.5 711.5 L506.2 709.7 L507.9 712.3 L507.3 709.6 L508.3 710.8 L508.8 710.7 L508.9 709.6 L509.2 709.2 L509.6 708.7 L509.3 706.6 L510.8 709.1 L509.5 704.4 L509.3 702.4 L511.8 707.6 L511.3 704.9 L512.4 706.5 L511.9 703.7 L511.9 702.1 L513.7 705.8 L513.4 703.6 L514.6 705.5 L515.4 706.4 L515.7 705.9 L515.6 704.0 L515.9 703.3 L518.0 708.4 L517.3 704.5 L516.9 701.9 L517.6 702.7 L518.1 702.5 L518.1 701.1 L518.7 701.3 L519.6 702.4 L520.3 703.2 L520.5 702.2 L521.0 702.3 L520.8 700.0 L521.6 701.0 L521.3 698.3 L522.3 699.8 L523.7 702.9 L524.0 702.0 L523.6 699.2 L525.3 702.9 L525.7 702.7 L526.1 702.3 L525.0 697.1 L526.2 699.1 L526.4 698.0 L527.7 700.4 L528.4 701.2 L528.8 700.5 L529.9 702.1 L529.6 699.5 L530.5 700.7 L532.1 703.8 L532.2 702.3 L531.3 697.9 L532.1 698.6 L533.3 700.2 L533.2 698.3 L533.3 696.8 L534.2 697.6 L534.5 696.9 L535.4 698.3 L536.1 698.8 L536.4 698.4 L536.2 696.5 L536.7 696.5 L537.4 697.0 L537.6 696.2 L538.1 696.4 L538.1 694.9 L539.5 697.3 L539.9 697.1 L539.2 693.7 L539.0 691.8 L541.1 696.1 L541.0 694.3 L542.2 696.3 L542.9 696.8 L541.9 692.6 L543.5 695.4 L544.0 695.4 L545.2 697.1 L543.5 691.0 L544.9 693.3 L545.6 693.8 L546.3 694.2 L546.0 692.1 L546.0 690.3 L547.6 693.3 L548.1 693.1 L549.6 695.9 L548.7 691.8 L550.0 693.8 L550.2 692.9 L551.2 694.0 L551.7 693.9 L552.9 695.6 L551.9 691.3 L552.2 690.7 L553.3 692.1 L553.4 691.0 L553.8 690.5 L553.6 688.3 L554.7 689.9 L554.6 687.9 L555.1 687.7 L556.4 690.0 L556.6 688.8 L556.6 687.2 L557.7 688.8 L556.8 684.5 L558.5 687.8 L558.6 686.6 L559.0 686.2 L560.1 687.6 L560.6 687.5 L561.4 688.1 L562.6 690.0 L562.9 689.3 L562.6 686.9 L563.9 689.1 L564.1 688.0 L564.0 686.2 L564.7 686.7 L565.5 687.3 L566.9 690.0 L567.1 689.0 L567.3 687.8 L566.8 684.7 L567.8 686.1 L567.7 683.9 L567.3 680.8 L569.1 685.2 L570.4 687.8 L570.8 687.3 L570.3 683.6 L571.7 686.8 L572.2 686.5 L573.0 687.6 L573.7 688.2 L574.3 688.5 L574.5 687.1 L574.8 686.4 L574.6 683.4 L576.3 688.2 L576.1 684.9 L576.2 683.2 L577.3 685.5 L578.3 687.4 L578.6 686.4 L578.6 684.4 L579.2 684.5 L580.1 686.2 L580.4 684.8 L580.9 684.8 L581.5 685.0 L581.9 684.6 L581.9 681.9 L583.1 685.0 L583.8 685.8 L583.3 680.8 L584.5 683.9 L585.2 684.8 L584.7 680.0 L585.6 681.7 L586.1 681.5 L586.3 679.8 L587.3 682.1 L587.1 678.9 L587.5 678.4 L588.0 678.0 L589.3 681.4 L589.5 680.2 L590.2 680.9 L590.7 680.7 L590.9 679.4 L591.9 681.3 L592.0 679.4 L592.3 678.6 L593.2 680.2 L594.1 681.7 L595.1 684.0 L595.0 681.2 L595.6 681.5 L595.6 679.7 L596.5 681.0 L597.2 681.9 L597.8 682.0 L597.6 679.4 L598.7 681.6 L599.2 681.5 L599.1 679.5 L599.6 679.5 L599.9 678.8 L600.5 679.2 L601.4 680.5 L601.7 680.0 L601.4 677.2 L601.6 676.3 L602.9 678.9 L602.9 677.4 L603.5 677.9 L604.3 678.7 L604.4 677.6 L604.7 676.7 L605.9 678.6 L606.9 679.6 L606.5 676.9 L606.7 675.8 L606.6 674.2 L609.0 678.6 L607.9 674.7 L609.6 677.2 L609.1 674.7 L611.7 679.6 L610.3 674.9 L611.6 676.5 L612.3 676.8 L612.8 676.8 L614.4 679.0 L613.7 676.2 L613.8 675.4 L613.4 673.3 L614.4 674.1 L613.0 670.4 L614.0 671.3 L613.5 669.2 L614.3 669.8 L615.0 669.9 L615.6 670.2 L614.9 667.9 L616.0 668.9 L616.8 669.3 L618.3 671.1 L617.6 668.9 L618.4 669.3 L618.5 668.6 L619.4 669.2 L620.3 669.8 L619.6 667.5 L620.2 667.6 L622.1 670.3 L621.5 667.9 L621.9 667.8 L622.2 667.2 L621.8 665.2 L623.8 668.2 L623.2 665.9 L625.1 668.5 L623.8 664.8 L626.0 668.1 L624.9 664.6 L625.2 664.2 L627.2 667.3 L628.1 668.0 L626.9 664.1 L629.3 668.2 L629.6 667.5 L628.5 663.6 L629.9 665.8 L629.9 664.4 L630.5 664.6 L630.3 662.8 L630.7 662.7 L631.4 663.1 L631.1 661.0 L631.3 660.3 L633.4 664.1 L633.5 663.0 L633.6 662.0 L633.9 661.5 L635.8 664.8 L635.1 661.7 L635.6 661.7 L636.5 662.6 L637.9 664.9 L637.8 663.5 L637.8 662.1 L638.7 663.0 L640.9 667.2 L640.4 664.7 L640.2 662.8 L641.1 663.6 L641.6 663.6 L642.4 664.4 L642.5 663.2 L641.9 660.2 L643.0 661.8 L642.5 659.1 L643.2 659.4 L644.0 660.1 L645.7 663.4 L645.1 660.2 L645.3 659.3 L646.2 660.3 L646.3 659.2 L647.4 660.8 L647.1 658.4 L647.9 659.2 L648.9 660.4 L648.7 658.3 L648.7 656.9 L650.3 659.8 L649.8 656.8 L650.9 658.4 L650.7 656.4 L651.2 656.3 L651.0 654.2 L651.4 653.9 L651.7 653.1 L652.9 655.0 L652.5 652.2 L654.5 656.1 L654.8 655.4 L654.1 652.1 L654.8 652.4 L655.3 652.2 L656.3 653.4 L656.9 653.7 L657.5 653.8 L657.1 651.4 L657.7 651.6 L657.8 650.6 L659.6 653.7 L658.4 649.4 L660.0 652.2 L660.3 651.5 L660.7 651.3 L661.3 651.2 L661.0 649.1 L662.3 651.2 L663.4 652.4 L663.6 651.6 L664.3 652.1 L665.8 654.3 L666.2 654.0 L666.9 654.3 L667.4 654.2 L668.9 656.5 L668.4 653.9 L669.7 655.7 L667.4 648.6 L670.5 654.7 L669.8 651.7 L670.5 652.0 L670.0 649.4 L671.1 650.6 L671.7 650.7 L672.6 651.4 L671.4 647.1 L672.1 647.5 L673.0 648.2 L673.8 648.8 L675.2 651.1 L675.4 650.1 L676.3 650.8 L676.9 651.0 L676.8 649.4 L676.6 647.4 L678.2 650.0 L678.4 649.2 L678.6 648.2 L678.7 647.1 L678.5 645.0 L678.8 644.4 L679.7 645.2 L680.9 647.1 L681.8 648.1 L681.0 644.3 L681.1 643.3 L682.4 645.4 L682.3 643.5 L683.5 645.4 L684.3 646.3 L683.5 642.5 L685.6 647.1 L685.3 644.7 L686.1 645.8 L686.7 646.2 L686.7 644.4 L687.6 645.8 L687.5 644.0 L688.9 647.2 L688.5 644.3 L688.7 643.4 L690.0 646.2 L690.9 647.9 L690.4 644.6 L691.0 644.4 L691.9 646.0 L692.6 646.2 L693.4 647.6 L693.5 645.3 L693.5 642.3 L695.0 647.0 L695.1 644.7 L695.7 644.5 L697.0 648.8 L696.8 644.2 L697.7 645.8 L697.7 641.9 L697.8 638.2 L699.1 643.3 L699.0 638.1 L699.7 638.8 L700.5 641.0 L700.9 639.1 L701.8 641.8 L702.0 638.5 L702.9 641.8 L703.5 641.9 L704.0 641.4 L704.6 641.4 L705.1 641.4 L705.8 644.1 L706.1 641.2 L706.6 640.6 L707.2 641.3 L707.7 641.4 L708.2 641.9 L708.6 640.3 L709.1 640.9 L709.4 637.8 L710.3 644.9 L710.6 643.1 L710.9 640.1 L711.4 641.0 L711.8 642.4 L712.1 640.9 L712.5 639.7 L712.8 638.8 L713.2 639.9 L713.5 639.1 L713.9 640.0 L714.0 638.1 L713.9 634.7 L714.7 641.4 L715.0 639.9 L715.6 639.6 L716.0 640.3 L716.3 641.4 L717.5 637.3 L718.1 636.9 L718.6 636.3 L718.5 640.6 L719.8 635.8 L719.6 639.9 L720.2 639.6 L720.9 638.0 L720.9 641.4 L721.1 643.4 L721.6 643.3 L723.0 638.2 L723.2 639.9 L723.8 639.5 L723.8 642.4 L724.8 639.4 L725.0 641.9 L725.6 641.0 L725.8 642.8 L726.2 643.9 L727.1 641.3 L727.5 641.8 L728.1 641.6 L728.7 641.0 L728.9 642.8 L729.6 641.7 L730.2 641.2 L730.4 641.6 L730.9 642.3 L731.1 642.0 L731.1 641.5 L731.5 641.0 L731.7 640.6 L731.3 640.0 L731.3 639.4 L731.3 638.9 L732.0 638.5 L732.0 638.0 L732.5 637.6 L732.0 637.0 L732.8 636.6 L732.4 636.0 L733.5 635.7 L732.8 635.1 L733.3 634.6 L733.6 634.2 L733.0 633.5 L733.3 633.1 L733.0 632.5 L733.3 632.0 L734.2 631.7 L732.4 630.8 L733.3 630.5 L732.9 629.9 L732.6 629.3 L732.7 628.8 L732.9 628.3 L732.2 627.7 L733.9 627.5 L734.5 627.1 L733.4 626.4 L734.6 626.1 L734.3 625.5 L733.6 624.9 L735.0 624.6 L734.1 623.9 L734.3 623.4 L734.8 623.0 L735.0 622.5 L735.2 622.1 L735.5 621.6 L735.4 621.1 L734.6 620.4 L734.0 619.8 L734.4 619.3 L734.6 618.9 L735.1 618.4 L734.3 617.8 L735.3 617.4 L735.5 617.0 L735.8 616.5 L735.5 615.9 L735.5 615.4 L734.9 614.8 L735.3 614.3 L735.3 613.8 L735.6 613.4 L735.9 612.9 L736.7 612.5 L736.2 611.9 L736.0 611.4 L735.8 610.8 L737.0 610.5 L736.5 609.9 L736.3 609.3 L737.4 609.1 L737.1 608.5 L736.9 607.9 L737.1 607.4 L737.3 606.9 L738.0 606.6 L738.5 606.2 L737.7 605.5 L737.8 605.0 L738.7 604.7 L738.3 604.1 L738.2 603.6 L739.0 603.3 L739.2 602.8 L738.4 602.0 L739.1 601.7 L739.3 601.3 L739.7 600.9 L739.7 600.3 L739.2 599.7 L740.5 599.5 L740.3 598.9 L740.4 598.4 L740.9 598.0 L741.1 597.6 L741.9 597.3 L741.3 596.6 L741.5 596.1 L741.4 595.6 L742.5 595.3 L741.7 594.6 L740.7 593.9 L741.6 593.6 L741.3 593.0 L742.5 592.7 L741.9 592.1 L741.0 591.4 L741.8 591.0 L742.6 590.7 L742.0 590.0 L742.6 589.7 L742.1 589.0 L741.4 588.4 L742.5 588.1 L742.0 587.5 L743.0 587.2 L743.3 586.7 L742.3 586.0 L743.6 585.8 L742.9 585.1 L742.9 584.6 L743.3 584.2 L743.5 583.7 L743.0 583.1 L744.0 582.8 L745.1 582.5 L745.0 582.0 L745.7 581.6 L745.0 580.9 L744.8 580.4 L744.8 579.9 L745.3 579.5 L744.8 578.8 L745.5 578.5 L745.3 577.9 L745.9 577.5 L746.3 577.1 L745.2 576.3 L746.1 576.1 L746.6 576.0 L746.4 575.6 L746.3 575.3 L745.1 574.6 L746.1 574.6 L746.2 574.3 L746.8 574.2 L746.2 573.6 L746.8 573.4 L746.8 573.0 L746.7 572.6 L746.7 572.2 L746.8 571.8 L747.0 571.4 L746.4 570.8 L746.1 570.2 L747.6 570.2 L747.5 569.7 L747.0 569.1 L748.2 569.0 L747.9 568.4 L747.1 567.6 L748.6 567.6 L748.2 566.9 L748.3 566.4 L747.9 565.7 L749.3 565.6 L749.1 564.9 L749.4 564.4 L749.3 563.8 L750.3 563.5 L751.1 563.2 L751.3 562.6 L749.4 561.4 L750.4 561.1 L751.0 560.6 L751.3 560.1 L751.8 559.6 L751.2 558.7 L750.8 557.9 L751.0 557.3 L751.0 556.6 L752.1 556.3 L752.4 555.7 L751.5 554.7 L752.4 554.2 L752.9 553.7 L752.1 552.8 L753.2 552.6 L753.7 552.4 L753.2 551.8 L753.7 551.5 L752.8 550.8 L753.5 550.6 L753.3 550.1 L753.3 549.6 L753.8 549.3 L753.3 548.7 L754.5 548.6 L753.7 547.9 L753.8 547.5 L754.9 547.3 L754.7 546.8 L754.8 546.3 L754.5 545.8 L755.0 545.4 L754.7 544.8 L756.2 544.7 L755.4 544.0 L755.7 543.6 L756.1 543.2 L756.6 542.8 L756.2 542.2 L756.6 541.8 L757.4 541.5 L756.2 540.6 L757.0 540.3 L757.2 539.9 L756.7 539.2 L757.8 538.9 L758.2 538.5 L757.6 537.8 L757.1 537.2 L756.5 536.5 L757.5 536.2 L757.6 535.7 L757.8 535.2 L758.4 534.8 L757.6 534.1 L757.7 533.5 L758.7 533.2 L757.8 532.5 L758.8 532.2 L757.7 531.3 L758.8 531.1 L758.9 530.5 L758.7 529.9 L758.3 529.3 L758.8 528.8 L758.1 528.1 L759.0 527.8 L759.4 527.3 L759.8 526.9 L759.2 526.2 L759.2 525.6 L760.0 525.2 L759.7 524.6 L760.1 524.1 L760.1 523.6 L760.1 523.0 L760.3 522.5 L761.0 522.2 L761.1 521.6 L760.8 521.0 L761.2 520.5 L761.1 520.0 L761.9 519.6 L760.8 518.8 L762.1 518.6 L762.2 518.1 L762.6 517.6 L763.1 517.2 L762.0 516.4 L762.7 516.0 L762.3 515.3 L763.2 515.1 L763.0 514.5 L762.9 513.9 L762.1 513.1 L762.5 512.7 L763.1 512.4 L762.9 511.8 L762.6 511.1 L763.1 510.8 L764.0 510.5 L764.2 510.0 L764.4 509.6 L764.9 509.2 L765.1 508.7 L764.5 508.0 L765.6 507.8 L765.7 507.3 L764.6 506.4 L765.4 506.1 L766.1 505.7 L765.8 505.1 L766.1 504.7 L765.8 504.0 L766.9 503.8 L766.0 503.0 L766.6 502.6 L766.0 501.9 L766.3 501.4 L767.6 501.2 L767.9 500.8 L766.3 499.7 L767.8 499.7 L767.5 499.0 L767.5 498.5 L767.7 498.0 L768.1 497.5 L767.9 496.9 L767.2 496.1 L768.1 495.9 L767.8 495.2 L769.1 495.1 L769.0 494.5 L769.0 493.9 L770.0 493.7 L769.2 492.8 L769.9 492.5 L769.7 491.9 L770.9 491.7 L770.0 490.9 L771.1 490.7 L770.3 489.9 L770.9 489.5 L771.5 489.2 L771.5 488.6 L771.8 488.2 L772.1 487.7 L772.6 487.4 L771.2 486.3 L772.2 486.1 L772.1 485.6 L772.7 485.2 L773.3 484.9 L773.4 484.4 L773.6 483.9 L773.2 483.3 L773.0 482.7 L773.3 482.3 L774.3 482.0 L774.1 481.5 L773.4 480.7 L775.0 480.7 L774.3 480.0 L773.9 479.3 L774.7 479.1 L774.4 478.5 L774.8 478.1 L775.5 477.9 L776.0 477.5 L774.6 476.5 L776.3 476.7 L776.2 476.1 L775.6 475.4 L775.8 475.1 L775.8 474.6 L776.2 474.2 L776.4 473.8 L777.0 473.6 L778.1 473.5 L777.3 472.8 L777.5 472.4 L777.2 471.8 L776.9 471.3 L777.4 470.8 L776.6 469.8 L778.4 469.8 L778.7 469.3 L777.9 468.3 L778.7 468.0 L778.3 467.2 L778.8 466.7 L779.0 466.2 L779.7 465.8 L779.5 465.1 L780.0 464.7 L780.1 464.2 L781.1 464.0 L779.7 462.8 L780.2 462.4 L780.1 461.7 L781.3 461.7 L780.2 460.6 L782.1 460.9 L781.9 460.2 L781.8 459.6 L782.3 459.2 L782.4 458.7 L783.3 458.6 L783.2 458.0 L782.9 457.3 L783.3 456.9 L783.7 456.5 L784.1 456.2 L783.6 455.4 L784.3 455.2 L784.4 454.7 L784.0 454.0 L784.6 453.8 L784.5 453.2 L785.1 452.9 L785.6 452.7 L784.1 451.4 L784.7 451.2 L784.9 450.8 L786.1 450.9 L786.0 450.3 L785.2 449.4 L786.7 449.7 L786.9 449.3 L786.9 448.8 L787.5 448.6 L787.5 448.1 L787.1 447.4 L788.0 447.4 L788.3 447.0 L788.2 446.5 L788.6 446.2 L789.3 446.1 L788.5 445.3 L789.2 444.9 L789.0 444.1 L789.6 443.7 L790.4 443.4 L790.9 443.1 L790.3 442.1 L790.3 441.5 L790.9 441.2 L790.7 440.4 L791.2 440.1 L791.9 439.9 L791.9 439.2 L792.7 439.1 L792.1 438.2 L792.4 437.8 L793.9 438.1 L793.5 437.3 L793.7 436.9 L793.5 436.2 L794.3 436.1 L794.1 435.4 L793.6 434.6 L793.8 434.2 L794.6 434.1 L794.4 433.4 L794.7 433.1 L794.7 432.5 L795.6 432.5 L796.0 432.2 L795.9 431.6 L796.2 431.3 L796.4 430.8 L797.4 430.8 L797.8 430.5 L799.1 430.7 L799.7 430.4 L797.9 428.9 L798.8 428.8 L798.5 428.0 L798.5 427.4 L798.7 426.9 L798.7 426.3 L798.5 425.6 L798.8 425.1 L799.2 424.6 L799.3 424.1 L798.8 423.2 L797.9 422.2 L801.9 423.4 L800.6 422.2 L801.9 422.2 L801.2 421.3 L803.5 421.8 L804.5 421.7 L802.3 420.0 L799.1 417.9 L803.0 419.2 L804.6 419.4 L802.2 417.6 L802.0 417.0 L803.1 416.9 L803.2 416.4 L800.4 414.5 L803.0 415.3 L804.0 415.3 L802.2 413.8 L804.0 414.2 L802.3 412.8 L804.3 413.5 L804.6 413.2 L802.5 411.4 L806.2 412.8 L805.6 411.6 L805.0 410.5 L805.8 410.3 L806.4 410.0 L806.4 409.4 L805.5 408.1 L807.0 408.6 L806.3 407.4 L808.8 408.8 L807.5 407.0 L809.3 408.1 L810.0 408.3 L810.5 408.3 L810.1 407.0 L810.4 406.5 L811.8 408.1 L811.3 406.2 L811.8 406.1 L812.7 407.4 L812.8 406.3 L812.3 402.6 L813.3 404.5 L813.1 400.5 L814.3 403.8 L814.7 402.9 L815.0 400.7 L816.2 405.6 L816.4 402.5 L817.1 404.0 L817.4 401.6 L818.2 404.1 L818.5 401.5 L819.1 401.6 L819.7 402.9 L820.1 401.4 L820.7 402.6 L821.2 402.1 L822.0 404.6 L821.9 400.6 L822.6 401.7 L823.1 402.1 L824.2 406.1 L824.3 403.9 L825.1 405.4 L825.3 403.8 L826.3 407.5 L826.4 405.0 L827.1 406.9 L827.0 403.1 L827.9 406.3 L828.5 408.1 L828.6 403.6 L829.2 405.1 L829.7 406.4 L830.1 402.4 L830.7 405.8 L831.2 403.4 L831.7 406.0 L832.5 401.6 L833.3 399.4 L833.5 403.0 L834.5 397.6 L834.8 399.8 L834.9 402.6 L835.6 400.8 L836.5 398.7 L837.0 398.8 L836.4 405.5 L837.8 400.6 L838.1 401.7 L838.9 400.4 L838.8 403.7 L839.7 402.1 L839.6 405.3 L840.5 403.6 L840.7 405.2 L841.0 406.8 L841.5 407.0 L841.8 408.0 L842.4 408.0 L843.5 405.3 L843.8 406.7 L844.4 406.3 L844.9 406.8 L845.9 404.5 L846.5 404.4 L846.8 405.5 L847.6 403.7 L848.5 401.7 L848.9 402.6 L849.0 404.3 L849.8 402.7 L849.6 406.2 L850.3 405.0 L851.0 403.8 L851.5 403.3 L851.9 403.9 L852.2 404.6 L852.5 405.1 L853.0 404.1 L853.2 405.1 L853.4 406.4 L853.8 405.2 L854.1 405.8 L854.3 407.9 L854.8 405.1 L855.0 407.1 L855.4 407.1 L855.8 406.0 L856.6 402.8 L856.6 406.9 L857.5 404.3 L857.8 405.7 L858.3 406.7 L858.7 408.2 L859.7 406.4 L859.9 409.5 L861.3 406.7 L862.2 407.0 L863.1 407.9 L863.4 408.1 L863.7 408.4 L864.2 407.7 L864.8 407.0 L864.9 407.9 L865.0 409.2 L865.2 410.0 L865.7 409.7 L867.0 406.1 L866.4 410.2 L867.4 408.2 L867.1 410.8 L867.9 409.7 L868.1 410.7 L868.1 412.3 L869.1 410.4 L870.2 408.1 L870.4 409.1 L870.0 412.6 L871.4 409.3 L871.3 411.6 L872.0 411.0 L871.8 413.4 L873.5 409.4 L873.8 410.0 L873.8 411.9 L874.1 412.8 L874.5 413.4 L875.8 410.9 L876.2 411.4 L876.6 411.9 L876.2 415.5 L877.2 413.7 L877.6 414.5 L878.8 412.3 L878.8 414.3 L878.6 417.0 L880.1 413.6 L881.4 411.0 L880.7 416.0 L881.5 415.2 L882.1 415.1 L882.4 416.3 L882.8 417.0 L884.0 414.4 L884.7 414.3 L884.6 417.0 L886.4 412.2 L886.0 416.0 L887.0 414.4 L888.5 410.7 L888.6 412.7 L888.6 414.7 L889.3 414.4 L889.7 414.9 L890.0 416.4 L890.8 415.1 L891.7 414.0 L891.6 416.9 L892.2 416.8 L893.1 415.2 L893.4 416.6 L894.5 413.8 L894.8 415.0 L895.1 416.0 L895.7 416.0 L897.0 411.7 L897.2 413.1 L897.3 415.6 L898.0 414.5 L898.4 414.9 L899.1 413.8 L899.8 412.6 L899.9 415.3 L900.4 414.5 L900.4 418.5 L901.1 417.0 L901.6 416.5 L902.2 414.9 L902.6 415.8 L902.9 416.8 L903.5 415.6 L904.0 413.4 L904.3 414.5 L904.8 414.6 L905.4 414.6 L905.9 413.4 L906.5 417.1 L907.0 414.9 L907.5 415.6 L908.1 417.3 L908.5 415.1 L909.2 417.3 L909.5 414.9 L910.3 417.7 L910.9 418.6 L911.4 418.5 L911.5 414.7 L912.4 418.2 L912.7 416.0 L914.2 423.1 L913.7 416.2 L914.5 417.8 L915.3 419.4 L915.6 418.1 L916.2 418.4 L916.3 416.2 L917.0 417.1 L918.0 419.7 L918.3 418.4 L918.6 417.5 L918.9 416.7 L918.9 414.4 L919.2 413.7 L920.3 416.0 L920.3 414.2 L920.5 412.8 L921.3 414.0 L921.0 411.3 L922.0 412.9 L921.7 410.4 L922.8 412.4 L923.8 414.0 L924.5 414.5 L925.4 415.9 L925.9 415.8 L925.6 413.3 L926.7 415.2 L927.6 416.2 L928.2 416.6 L927.8 413.8 L927.7 412.1 L929.3 415.2 L929.6 414.7 L929.6 413.2 L930.1 413.0 L931.8 416.2 L931.5 414.2 L931.8 413.6 L932.1 413.0 L932.6 412.9 L933.4 413.7 L932.9 410.8 L933.4 411.0 L933.3 409.2 L934.2 410.3 L934.3 409.1 L934.3 407.9 L935.1 408.6 L935.6 408.4 L936.6 409.5 L936.8 408.7 L938.0 410.2 L938.9 410.9 L938.8 409.5 L939.1 408.9 L941.1 411.5 L941.0 410.1 L942.5 411.8 L942.0 409.8 L942.2 408.9 L942.8 409.0 L942.0 406.5 L943.3 407.7 L943.1 406.3 L943.7 406.3 L944.1 405.9 L943.8 404.4 L945.3 405.8 L944.8 404.0 L945.2 403.7 L945.6 403.4 L949.0 407.6 L948.6 406.0 L947.9 404.0 L948.9 404.5 L949.2 404.1 L949.9 404.2 L950.4 403.9 L951.6 404.8 L950.3 401.9 L949.1 399.1 L951.7 402.1 L950.9 400.0 L952.2 401.1 L952.9 401.1 L952.3 399.3 L951.7 397.4 L952.7 398.0 L954.4 399.8 L954.6 399.1 L955.0 398.8 L955.4 398.6 L956.1 398.8 L955.6 397.0 L957.6 399.5 L956.8 397.1 L956.6 395.7 L958.2 397.6 L960.8 401.6 L959.9 399.0 L960.3 398.9 L960.7 398.7 L961.7 400.0 L961.2 397.7 L961.9 398.3 L961.8 397.0 L962.2 396.6 L963.3 397.9 L963.5 396.7 L964.4 397.9 L964.1 395.1 L963.8 391.9 L965.8 397.0 L966.7 398.6 L966.4 395.4 L967.0 395.5 L967.4 394.7 L968.4 397.4 L968.2 393.7 L969.4 397.8 L969.6 395.5 L970.3 397.0 L970.2 393.2 L971.0 395.2 L971.4 394.5 L972.3 397.8 L972.6 396.3 L973.5 399.6 L973.3 393.4 L973.9 395.0 L974.3 393.6 L974.8 393.6 L975.2 393.1 L975.6 392.7 L975.9 391.2 L976.5 392.0 L977.4 395.0 L977.5 392.4 L978.1 393.0 L978.0 389.6 L978.9 392.0 L979.2 390.9 L979.5 390.2 L980.2 391.5 L980.4 390.3 L980.4 388.3 L980.8 388.3 L981.5 389.3 L982.3 390.4 L982.1 388.2 L983.9 391.8 L985.1 393.8 L984.2 389.6 L984.6 389.2 L985.6 390.5 L985.9 389.6 L986.3 389.3 L988.3 392.7 L987.6 389.7 L988.5 390.4 L988.4 388.7 L988.8 388.1 L990.4 390.6 L990.7 389.7 L991.9 391.1 L992.4 390.9 L992.7 390.2 L992.7 388.8 L994.1 390.5 L993.6 388.1 L994.4 388.6 L995.0 388.5 L994.6 386.6 L994.9 385.9 L995.2 385.4 L996.1 386.2 L996.7 386.2 L997.9 387.4 L997.6 385.8 L999.3 388.1 L998.3 385.0 L999.3 386.0 L999.2 384.7 L1000.1 385.5 L999.9 384.2 L1000.2 383.9 L1001.0 384.6 L1001.6 384.9 L1002.1 384.9 L1001.7 383.4 L1003.0 385.0 L1002.5 382.4 L1004.5 384.0 L1005.9 384.7 L1006.0 383.5 L1006.2 382.6 L1005.9 381.3 L1007.4 382.0 L1008.2 382.0 L1009.1 382.1 L1007.4 379.9 L1009.7 381.3 L1009.1 380.3 L1010.5 381.2 L1008.4 379.0 L1007.8 378.2 L1007.8 377.9 L1008.2 377.5 L1008.5 377.1 L1008.7 376.6 L1008.8 376.1 L1009.1 375.7 L1009.2 375.2 L1009.2 374.7 L1009.5 374.3 L1009.6 373.8 L1009.8 373.3 L1010.1 372.9 L1010.4 372.4 L1010.4 371.9 L1010.4 371.4 L1010.7 370.9 L1010.9 370.5 L1011.0 370.0 L1011.3 369.5 L1011.1 369.0 L1011.0 368.5 L1011.4 368.0 L1011.0 367.4 L1011.0 366.9 L1011.2 366.4 L1011.1 365.9 L1011.3 365.4 L1011.3 364.9 L1011.4 364.4 L1011.4 363.9 L1011.5 363.4 L1011.2 362.9 L1011.6 362.4 L1011.4 361.9 L1011.4 361.4 L1011.8 360.9 L1011.6 360.4 L1011.7 359.9 L1011.6 359.3 L1011.7 358.8 L1011.8 358.3 L1011.8 357.8 L1011.9 357.3 L1011.9 356.8 L1011.9 356.3 L1012.0 355.8 L1011.7 355.3 L1011.9 354.8 L1012.0 354.3 L1011.8 353.7 L1012.1 353.3 L1012.0 352.7 L1012.2 352.2 L1012.1 351.7 L1012.1 351.2 L1012.4 350.7 L1012.3 350.2 L1011.9 349.7 L1012.5 349.2 L1012.4 348.7 L1012.4 348.2 L1012.6 347.7 L1012.7 347.2 L1012.5 346.7 L1012.5 346.2 L1012.5 345.6 L1012.5 345.1 L1012.8 344.6 L1012.8 344.1 L1012.7 343.6 L1012.6 343.1 L1012.7 342.6 L1012.6 342.1 L1012.9 341.6 L1012.7 341.1 L1013.1 340.6 L1012.7 340.1 L1012.9 339.6 L1012.8 339.1 L1012.8 338.6 L1012.6 338.1 L1012.9 337.6 L1012.9 337.1 L1012.6 336.6 L1012.9 336.1 L1012.7 335.6 L1013.0 335.1 L1012.6 334.6 L1013.0 334.1 L1012.8 333.6 L1012.9 333.1 L1013.1 332.6 L1013.4 332.1 L1012.8 331.6 L1012.8 331.1 L1012.9 330.6 L1013.1 330.1 L1012.9 329.6 L1012.9 329.1 L1013.1 328.6 L1012.9 328.1 L1013.0 327.6 L1012.9 327.1 L1012.8 326.6 L1012.7 326.1 L1013.0 325.6 L1013.0 325.1 L1013.1 324.6 L1013.1 324.1 L1013.1 323.6 L1012.9 323.1 L1013.1 322.6 L1013.1 322.1 L1012.8 321.6 L1013.1 321.1 L1012.9 320.6 L1012.9 320.1 L1013.1 319.6 L1013.0 319.1 L1013.1 318.6 L1013.0 318.1 L1013.3 317.6 L1013.2 317.1 L1013.1 316.6 L1012.8 316.1 L1012.9 315.6 L1013.0 315.1 L1013.3 314.6 L1013.0 314.1 L1013.2 313.6 L1013.2 313.1 L1013.3 312.6 L1013.1 312.1 L1013.1 311.6 L1013.1 311.1 L1013.3 310.6 L1013.1 310.1 L1013.2 309.6 L1013.1 309.1 L1013.1 308.6 L1013.2 308.1 L1013.2 307.6 L1013.0 307.1 L1013.0 306.6 L1013.2 306.1 L1013.2 305.6 L1013.4 305.1 L1013.3 304.6 L1013.3 304.1 L1013.0 303.6 L1013.3 303.1 L1013.2 302.6 L1013.1 302.1 L1013.2 301.6 L1013.2 301.1 L1013.2 300.6 L1013.4 300.1 L1013.5 299.6 L1013.5 299.1 L1013.3 298.5 L1013.2 298.0 L1013.1 297.5 L1013.3 297.0 L1013.2 296.5 L1013.3 296.0 L1013.5 295.5 L1013.4 295.0 L1013.3 294.5 L1013.3 294.0 L1013.2 293.5 L1013.5 293.0 L1013.3 292.5 L1013.4 292.0 L1013.4 291.5 L1013.4 291.0 L1013.5 290.5 L1013.3 290.0 L1013.2 289.5 L1013.5 289.0 L1013.3 288.5 L1013.4 288.0 L1013.5 287.5 L1013.4 287.0 L1013.4 286.5 L1013.6 286.0 L1013.4 285.5 L1013.5 285.0 L1013.5 284.5 L1013.5 284.0 L1013.6 283.5 L1013.5 283.0 L1013.4 282.5 L1013.5 282.0 L1013.6 281.5 L1013.7 281.0 L1013.3 280.5 L1013.5 280.0 L1013.6 279.5 L1013.7 279.0 L1013.6 278.5 L1013.8 278.0 L1013.6 277.5 L1013.7 277.0 L1013.7 276.5 L1013.7 276.0 L1013.7 275.5 L1013.5 275.0 L1013.6 274.5 L1013.7 274.0 L1013.6 273.5 L1013.5 273.0 L1013.7 272.5 L1013.4 272.0 L1013.6 271.5 L1013.7 271.0 L1013.4 270.5 L1013.7 270.0 L1013.8 269.5 L1013.8 269.0 L1013.6 268.5 L1013.6 268.0 L1013.5 267.5 L1013.8 267.0 L1013.8 266.5 L1013.6 266.0 L1013.9 265.5 L1013.5 265.0 L1013.5 264.5 L1013.8 264.0 L1013.6 263.5 L1014.0 263.0 L1013.6 262.5 L1013.8 262.0 L1013.9 261.5 L1013.8 261.0 L1013.9 260.5 L1013.9 260.0 L1013.8 259.5 L1013.8 259.0 L1013.6 258.5 L1013.7 258.0 L1013.6 257.5 L1014.0 257.0 L1013.9 256.5 L1013.9 256.0 L1013.9 255.5 L1013.6 255.0 L1014.0 254.5 L1013.8 254.0 L1013.8 253.5 L1014.1 253.0 L1013.9 252.5 L1014.2 252.0 L1014.0 251.5 L1013.9 251.0 L1013.9 250.5 L1013.8 250.0 L1013.8 249.5 L1013.9 249.0 L1014.0 248.5 L1013.9 248.0 L1014.1 247.5 L1013.9 247.0 L1014.0 246.5 L1014.2 246.0 L1014.0 245.5 L1014.0 245.0 L1014.2 244.5 L1014.2 244.0 L1013.9 243.5 L1014.0 243.0 L1014.0 242.5 L1014.1 242.0 L1014.0 241.5 L1014.2 241.0 L1014.0 240.5 L1014.3 240.0 L1014.3 239.5 L1014.3 239.0 L1014.0 238.5 L1014.1 238.0 L1014.2 237.5 L1014.0 237.0 L1014.4 236.5 L1014.4 236.0 L1014.3 235.5 L1014.2 235.0 L1014.1 234.5 L1014.0 234.0 L1014.2 233.5 L1014.3 233.0 L1014.3 232.5 L1014.2 232.0 L1014.3 231.5 L1014.4 231.0 L1014.3 230.5 L1014.4 230.0 L1014.4 229.5 L1014.5 229.0 L1014.5 228.5 L1014.5 228.0 L1014.4 227.5 L1014.5 227.0 L1014.4 226.5 L1014.7 226.0 L1014.5 225.5 L1014.4 225.0 L1014.3 224.5 L1014.3 224.0 L1014.4 223.5 L1014.6 223.0 L1014.5 222.5 L1014.8 222.0 L1014.5 221.5 L1014.5 221.0 L1014.4 220.5 L1014.6 220.0 L1014.8 219.5 L1014.5 219.0 L1014.6 218.5 L1014.5 218.0 L1014.5 217.5 L1014.6 217.0 L1014.7 216.5 L1014.6 216.0 L1014.7 215.5 L1014.6 215.0 L1014.6 214.5 L1014.7 214.0 L1014.6 213.5 L1014.7 213.0 L1014.8 212.5 L1014.7 212.0 L1014.5 211.5 L1014.8 211.0 L1014.9 210.5 L1014.8 210.0 L1014.7 209.5 L1014.9 209.0 L1014.9 208.5 L1014.8 208.0 L1014.9 207.5 L1014.8 207.0 L1014.9 206.5 L1014.8 206.0 L1014.8 205.5 L1014.8 205.0 L1015.0 204.5 L1015.0 204.0 L1014.9 203.5 L1015.0 203.0 L1015.0 202.5 L1015.1 202.0 L1015.0 201.5 L1015.3 201.0 L1015.3 200.5 L1015.2 200.0 L1015.4 199.5 L1015.4 199.0 L1015.5 198.5 L1015.6 198.0 L1015.8 197.5 L1015.7 197.0 L1015.7 196.5 L1015.9 196.0 L1016.0 195.5 L1016.1 195.0 L1016.2 194.5 L1016.0 193.9 L1016.2 193.4 L1016.5 193.0 L1016.0 192.4 L1016.4 191.9 L1016.4 191.4 L1016.4 190.9 L1016.5 190.4 L1016.6 189.9 L1016.7 189.4 L1016.8 188.9 L1016.8 188.4 L1017.0 187.9 L1016.9 187.4 L1016.9 186.9 L1017.1 186.4 L1016.9 185.9 L1017.2 185.4 L1017.4 184.9 L1017.3 184.4 L1017.5 183.9 L1017.4 183.4 L1017.3 182.9 L1017.4 182.4 L1017.6 181.9 L1017.9 181.4 L1017.9 180.9 L1017.8 180.4 L1018.0 179.9 L1017.8 179.3 L1017.9 178.8 L1018.1 178.4 L1018.2 177.9 L1018.2 177.4 L1018.0 176.8 L1018.3 176.3 L1018.4 175.8 L1018.3 175.3 L1018.5 174.8 L1018.5 174.3 L1018.8 173.8 L1018.8 173.3 L1018.9 172.8 L1018.5 172.3 L1018.7 171.8 L1018.8 171.3 L1018.9 170.8 L1019.2 170.3 L1019.2 169.8 L1019.0 169.3" stroke="#f21414" stroke-width="5.4"/>
<path d="M760.5 513 L760.5 545.5" stroke="#ee1c1c" stroke-width="3"/>
<path d="M779 475 L779 504" stroke="#ee1c1c" stroke-width="3"/>
<path d="M727 638 L727 648" stroke="#ee1c1c" stroke-width="3"/>
<path d="M704 636 L704 646" stroke="#ee1c1c" stroke-width="3"/>
</g>
<g id="legend" fill="none" stroke-linecap="round">
<line x1="249" y1="83.8" x2="418" y2="83.8" stroke="#d8f6c6" stroke-width="2.2"/>
<line x1="250" y1="147.2" x2="418" y2="147.2" stroke="#ea1c18" stroke-width="4"/>
<line x1="250" y1="237.8" x2="418" y2="237.8" stroke="#a238f0" stroke-width="4"/>
<line x1="249" y1="328.8" x2="418" y2="328.8" stroke="#cdd3f8" stroke-width="2.1"/>
<line x1="249" y1="419.6" x2="418" y2="419.6" stroke="#d8cdf6" stroke-width="2.1"/>
</g>
<g id="legtext">
<text x="436.00" y="100.50" font-size="49.7">0 TPP</text>
<path transform="translate(435.00,163.60) scale(0.04970,-0.04970)" d="M365 0L365 709L305 709C292 652 270 622 236 602C202 582 160 574 100 570L100 507L275 507L275 0Z"/>
<text x="462.64" y="163.60" font-size="49.7">0% TPP</text>
<path transform="translate(435.00,227.80) scale(0.04970,-0.04970)" d="M365 0L365 709L305 709C292 652 270 622 236 602C202 582 160 574 100 570L100 507L275 507L275 0Z"/>
<text x="462.64" y="227.80" font-size="49.7">0% TPP</text>
<g transform="translate(435.30,0) scale(0.987,1) translate(-435.30,0)"><text x="435.30" y="281.10" font-size="49.7">(duplicate run)</text></g>
<text x="436.00" y="345.80" font-size="49.7">40% TPP</text>
<text x="436.00" y="409.00" font-size="49.7">40% TPP</text>
<g transform="translate(435.30,0) scale(0.987,1) translate(-435.30,0)"><text x="435.30" y="461.00" font-size="49.7">(duplicate run)</text></g>
</g>
<g id="frame" fill="none" stroke="#000" stroke-width="4.6" stroke-linecap="round" stroke-linejoin="miter">
<rect x="211.5" y="30.3" width="1062.0" height="1062.4"/>
<line x1="325.3" y1="1092.7" x2="325.3" y2="1075.7"/>
<line x1="325.3" y1="30.3" x2="325.3" y2="48.9"/>
<line x1="515.0" y1="1092.7" x2="515.0" y2="1084.2"/>
<line x1="515.0" y1="30.3" x2="515.0" y2="40.3"/>
<line x1="704.7" y1="1092.7" x2="704.7" y2="1075.7"/>
<line x1="704.7" y1="30.3" x2="704.7" y2="48.9"/>
<line x1="894.4" y1="1092.7" x2="894.4" y2="1084.2"/>
<line x1="894.4" y1="30.3" x2="894.4" y2="40.3"/>
<line x1="1084.1" y1="1092.7" x2="1084.1" y2="1075.7"/>
<line x1="1084.1" y1="30.3" x2="1084.1" y2="48.9"/>
<line x1="211.5" y1="1028.7" x2="220.5" y2="1028.7"/>
<line x1="1273.5" y1="1028.7" x2="1264.5" y2="1028.7"/>
<line x1="211.5" y1="991.3" x2="220.5" y2="991.3"/>
<line x1="1273.5" y1="991.3" x2="1264.5" y2="991.3"/>
<line x1="211.5" y1="964.8" x2="220.5" y2="964.8"/>
<line x1="1273.5" y1="964.8" x2="1264.5" y2="964.8"/>
<line x1="211.5" y1="944.2" x2="220.5" y2="944.2"/>
<line x1="1273.5" y1="944.2" x2="1264.5" y2="944.2"/>
<line x1="211.5" y1="927.4" x2="220.5" y2="927.4"/>
<line x1="1273.5" y1="927.4" x2="1264.5" y2="927.4"/>
<line x1="211.5" y1="913.1" x2="220.5" y2="913.1"/>
<line x1="1273.5" y1="913.1" x2="1264.5" y2="913.1"/>
<line x1="211.5" y1="900.8" x2="220.5" y2="900.8"/>
<line x1="1273.5" y1="900.8" x2="1264.5" y2="900.8"/>
<line x1="211.5" y1="889.9" x2="220.5" y2="889.9"/>
<line x1="1273.5" y1="889.9" x2="1264.5" y2="889.9"/>
<line x1="211.5" y1="880.2" x2="229.7" y2="880.2"/>
<line x1="1273.5" y1="880.2" x2="1255.3" y2="880.2"/>
<line x1="211.5" y1="816.3" x2="220.5" y2="816.3"/>
<line x1="1273.5" y1="816.3" x2="1264.5" y2="816.3"/>
<line x1="211.5" y1="778.8" x2="220.5" y2="778.8"/>
<line x1="1273.5" y1="778.8" x2="1264.5" y2="778.8"/>
<line x1="211.5" y1="752.3" x2="220.5" y2="752.3"/>
<line x1="1273.5" y1="752.3" x2="1264.5" y2="752.3"/>
<line x1="211.5" y1="731.7" x2="220.5" y2="731.7"/>
<line x1="1273.5" y1="731.7" x2="1264.5" y2="731.7"/>
<line x1="211.5" y1="714.9" x2="220.5" y2="714.9"/>
<line x1="1273.5" y1="714.9" x2="1264.5" y2="714.9"/>
<line x1="211.5" y1="700.7" x2="220.5" y2="700.7"/>
<line x1="1273.5" y1="700.7" x2="1264.5" y2="700.7"/>
<line x1="211.5" y1="688.3" x2="220.5" y2="688.3"/>
<line x1="1273.5" y1="688.3" x2="1264.5" y2="688.3"/>
<line x1="211.5" y1="677.5" x2="220.5" y2="677.5"/>
<line x1="1273.5" y1="677.5" x2="1264.5" y2="677.5"/>
<line x1="211.5" y1="667.7" x2="229.7" y2="667.7"/>
<line x1="1273.5" y1="667.7" x2="1255.3" y2="667.7"/>
<line x1="211.5" y1="603.8" x2="220.5" y2="603.8"/>
<line x1="1273.5" y1="603.8" x2="1264.5" y2="603.8"/>
<line x1="211.5" y1="566.4" x2="220.5" y2="566.4"/>
<line x1="1273.5" y1="566.4" x2="1264.5" y2="566.4"/>
<line x1="211.5" y1="539.8" x2="220.5" y2="539.8"/>
<line x1="1273.5" y1="539.8" x2="1264.5" y2="539.8"/>
<line x1="211.5" y1="519.2" x2="220.5" y2="519.2"/>
<line x1="1273.5" y1="519.2" x2="1264.5" y2="519.2"/>
<line x1="211.5" y1="502.4" x2="220.5" y2="502.4"/>
<line x1="1273.5" y1="502.4" x2="1264.5" y2="502.4"/>
<line x1="211.5" y1="488.2" x2="220.5" y2="488.2"/>
<line x1="1273.5" y1="488.2" x2="1264.5" y2="488.2"/>
<line x1="211.5" y1="475.9" x2="220.5" y2="475.9"/>
<line x1="1273.5" y1="475.9" x2="1264.5" y2="475.9"/>
<line x1="211.5" y1="465.0" x2="220.5" y2="465.0"/>
<line x1="1273.5" y1="465.0" x2="1264.5" y2="465.0"/>
<line x1="211.5" y1="455.3" x2="229.7" y2="455.3"/>
<line x1="1273.5" y1="455.3" x2="1255.3" y2="455.3"/>
<line x1="211.5" y1="391.3" x2="220.5" y2="391.3"/>
<line x1="1273.5" y1="391.3" x2="1264.5" y2="391.3"/>
<line x1="211.5" y1="353.9" x2="220.5" y2="353.9"/>
<line x1="1273.5" y1="353.9" x2="1264.5" y2="353.9"/>
<line x1="211.5" y1="327.3" x2="220.5" y2="327.3"/>
<line x1="1273.5" y1="327.3" x2="1264.5" y2="327.3"/>
<line x1="211.5" y1="306.7" x2="220.5" y2="306.7"/>
<line x1="1273.5" y1="306.7" x2="1264.5" y2="306.7"/>
<line x1="211.5" y1="289.9" x2="220.5" y2="289.9"/>
<line x1="1273.5" y1="289.9" x2="1264.5" y2="289.9"/>
<line x1="211.5" y1="275.7" x2="220.5" y2="275.7"/>
<line x1="1273.5" y1="275.7" x2="1264.5" y2="275.7"/>
<line x1="211.5" y1="263.4" x2="220.5" y2="263.4"/>
<line x1="1273.5" y1="263.4" x2="1264.5" y2="263.4"/>
<line x1="211.5" y1="252.5" x2="220.5" y2="252.5"/>
<line x1="1273.5" y1="252.5" x2="1264.5" y2="252.5"/>
<line x1="211.5" y1="242.8" x2="229.7" y2="242.8"/>
<line x1="1273.5" y1="242.8" x2="1255.3" y2="242.8"/>
<line x1="211.5" y1="178.8" x2="220.5" y2="178.8"/>
<line x1="1273.5" y1="178.8" x2="1264.5" y2="178.8"/>
<line x1="211.5" y1="141.4" x2="220.5" y2="141.4"/>
<line x1="1273.5" y1="141.4" x2="1264.5" y2="141.4"/>
<line x1="211.5" y1="114.9" x2="220.5" y2="114.9"/>
<line x1="1273.5" y1="114.9" x2="1264.5" y2="114.9"/>
<line x1="211.5" y1="94.3" x2="220.5" y2="94.3"/>
<line x1="1273.5" y1="94.3" x2="1264.5" y2="94.3"/>
<line x1="211.5" y1="77.4" x2="220.5" y2="77.4"/>
<line x1="1273.5" y1="77.4" x2="1264.5" y2="77.4"/>
<line x1="211.5" y1="63.2" x2="220.5" y2="63.2"/>
<line x1="1273.5" y1="63.2" x2="1264.5" y2="63.2"/>
<line x1="211.5" y1="50.9" x2="220.5" y2="50.9"/>
<line x1="1273.5" y1="50.9" x2="1264.5" y2="50.9"/>
<line x1="211.5" y1="40.0" x2="220.5" y2="40.0"/>
<line x1="1273.5" y1="40.0" x2="1264.5" y2="40.0"/>
</g>
<g id="ylabels">
<g transform="translate(194.30,0) scale(1.05,1) translate(-194.30,0)"><path transform="translate(108.37,48.50) scale(0.05150,-0.05150)" d="M365 0L365 709L305 709C292 652 270 622 236 602C202 582 160 574 100 570L100 507L275 507L275 0Z"/>
<text x="137.02" y="48.50" font-size="51.5">00</text></g>
<g transform="translate(194.30,0) scale(1.05,1) translate(-194.30,0)"><path transform="translate(137.02,261.28) scale(0.05150,-0.05150)" d="M365 0L365 709L305 709C292 652 270 622 236 602C202 582 160 574 100 570L100 507L275 507L275 0Z"/>
<text x="165.66" y="261.28" font-size="51.5">0</text></g>
<g transform="translate(194.30,0) scale(1.05,1) translate(-194.30,0)"><path transform="translate(165.66,474.66) scale(0.05150,-0.05150)" d="M365 0L365 709L305 709C292 652 270 622 236 602C202 582 160 574 100 570L100 507L275 507L275 0Z"/></g>
<g transform="translate(194.30,0) scale(1.05,1) translate(-194.30,0)"><text x="122.71" y="686.44" font-size="51.5">0.</text>
<path transform="translate(165.66,686.44) scale(0.05150,-0.05150)" d="M365 0L365 709L305 709C292 652 270 622 236 602C202 582 160 574 100 570L100 507L275 507L275 0Z"/></g>
<g transform="translate(194.30,0) scale(1.05,1) translate(-194.30,0)"><text x="94.07" y="898.42" font-size="51.5">0.0</text>
<path transform="translate(165.66,898.42) scale(0.05150,-0.05150)" d="M365 0L365 709L305 709C292 652 270 622 236 602C202 582 160 574 100 570L100 507L275 507L275 0Z"/></g>
<g transform="translate(194.30,0) scale(1.05,1) translate(-194.30,0)"><text x="65.42" y="1111.90" font-size="51.5">0.00</text>
<path transform="translate(165.66,1111.90) scale(0.05150,-0.05150)" d="M365 0L365 709L305 709C292 652 270 622 236 602C202 582 160 574 100 570L100 507L275 507L275 0Z"/></g>
</g>
<g id="xlabels">
<g transform="translate(326.30,0) scale(1.05,1) translate(-326.30,0)"><path transform="translate(283.34,1159.40) scale(0.05150,-0.05150)" d="M365 0L365 709L305 709C292 652 270 622 236 602C202 582 160 574 100 570L100 507L275 507L275 0Z"/>
<text x="311.98" y="1159.40" font-size="51.5">00</text></g>
<g transform="translate(704.70,0) scale(1.05,1) translate(-704.70,0)"><text x="661.74" y="1159.40" font-size="51.5">200</text></g>
<g transform="translate(1084.10,0) scale(1.05,1) translate(-1084.10,0)"><text x="1041.14" y="1159.40" font-size="51.5">300</text></g>
</g>
<g transform="translate(466.67,0) scale(0.997,1) translate(-466.67,0)"><text x="466.67" y="1247" font-size="64.2">Temperature</text></g>
<text x="833.3" y="1247" font-size="64.2">(</text>
<text x="855.0" y="1240" font-size="64.2">o</text>
<text x="890.3" y="1247" font-size="64.2">C</text>
<text x="934.9" y="1247" font-size="64.2">)</text>
<g transform="rotate(-90)">
<text x="-752.6" y="58.2" font-size="60">dT/dt</text>
<text x="-598.4" y="58.2" font-size="60">(</text>
<text x="-582.5" y="50.2" font-size="60">o</text>
<text x="-551.1" y="58.2" font-size="60.5">C/min)</text>
</g>
</svg>
</body></html>
